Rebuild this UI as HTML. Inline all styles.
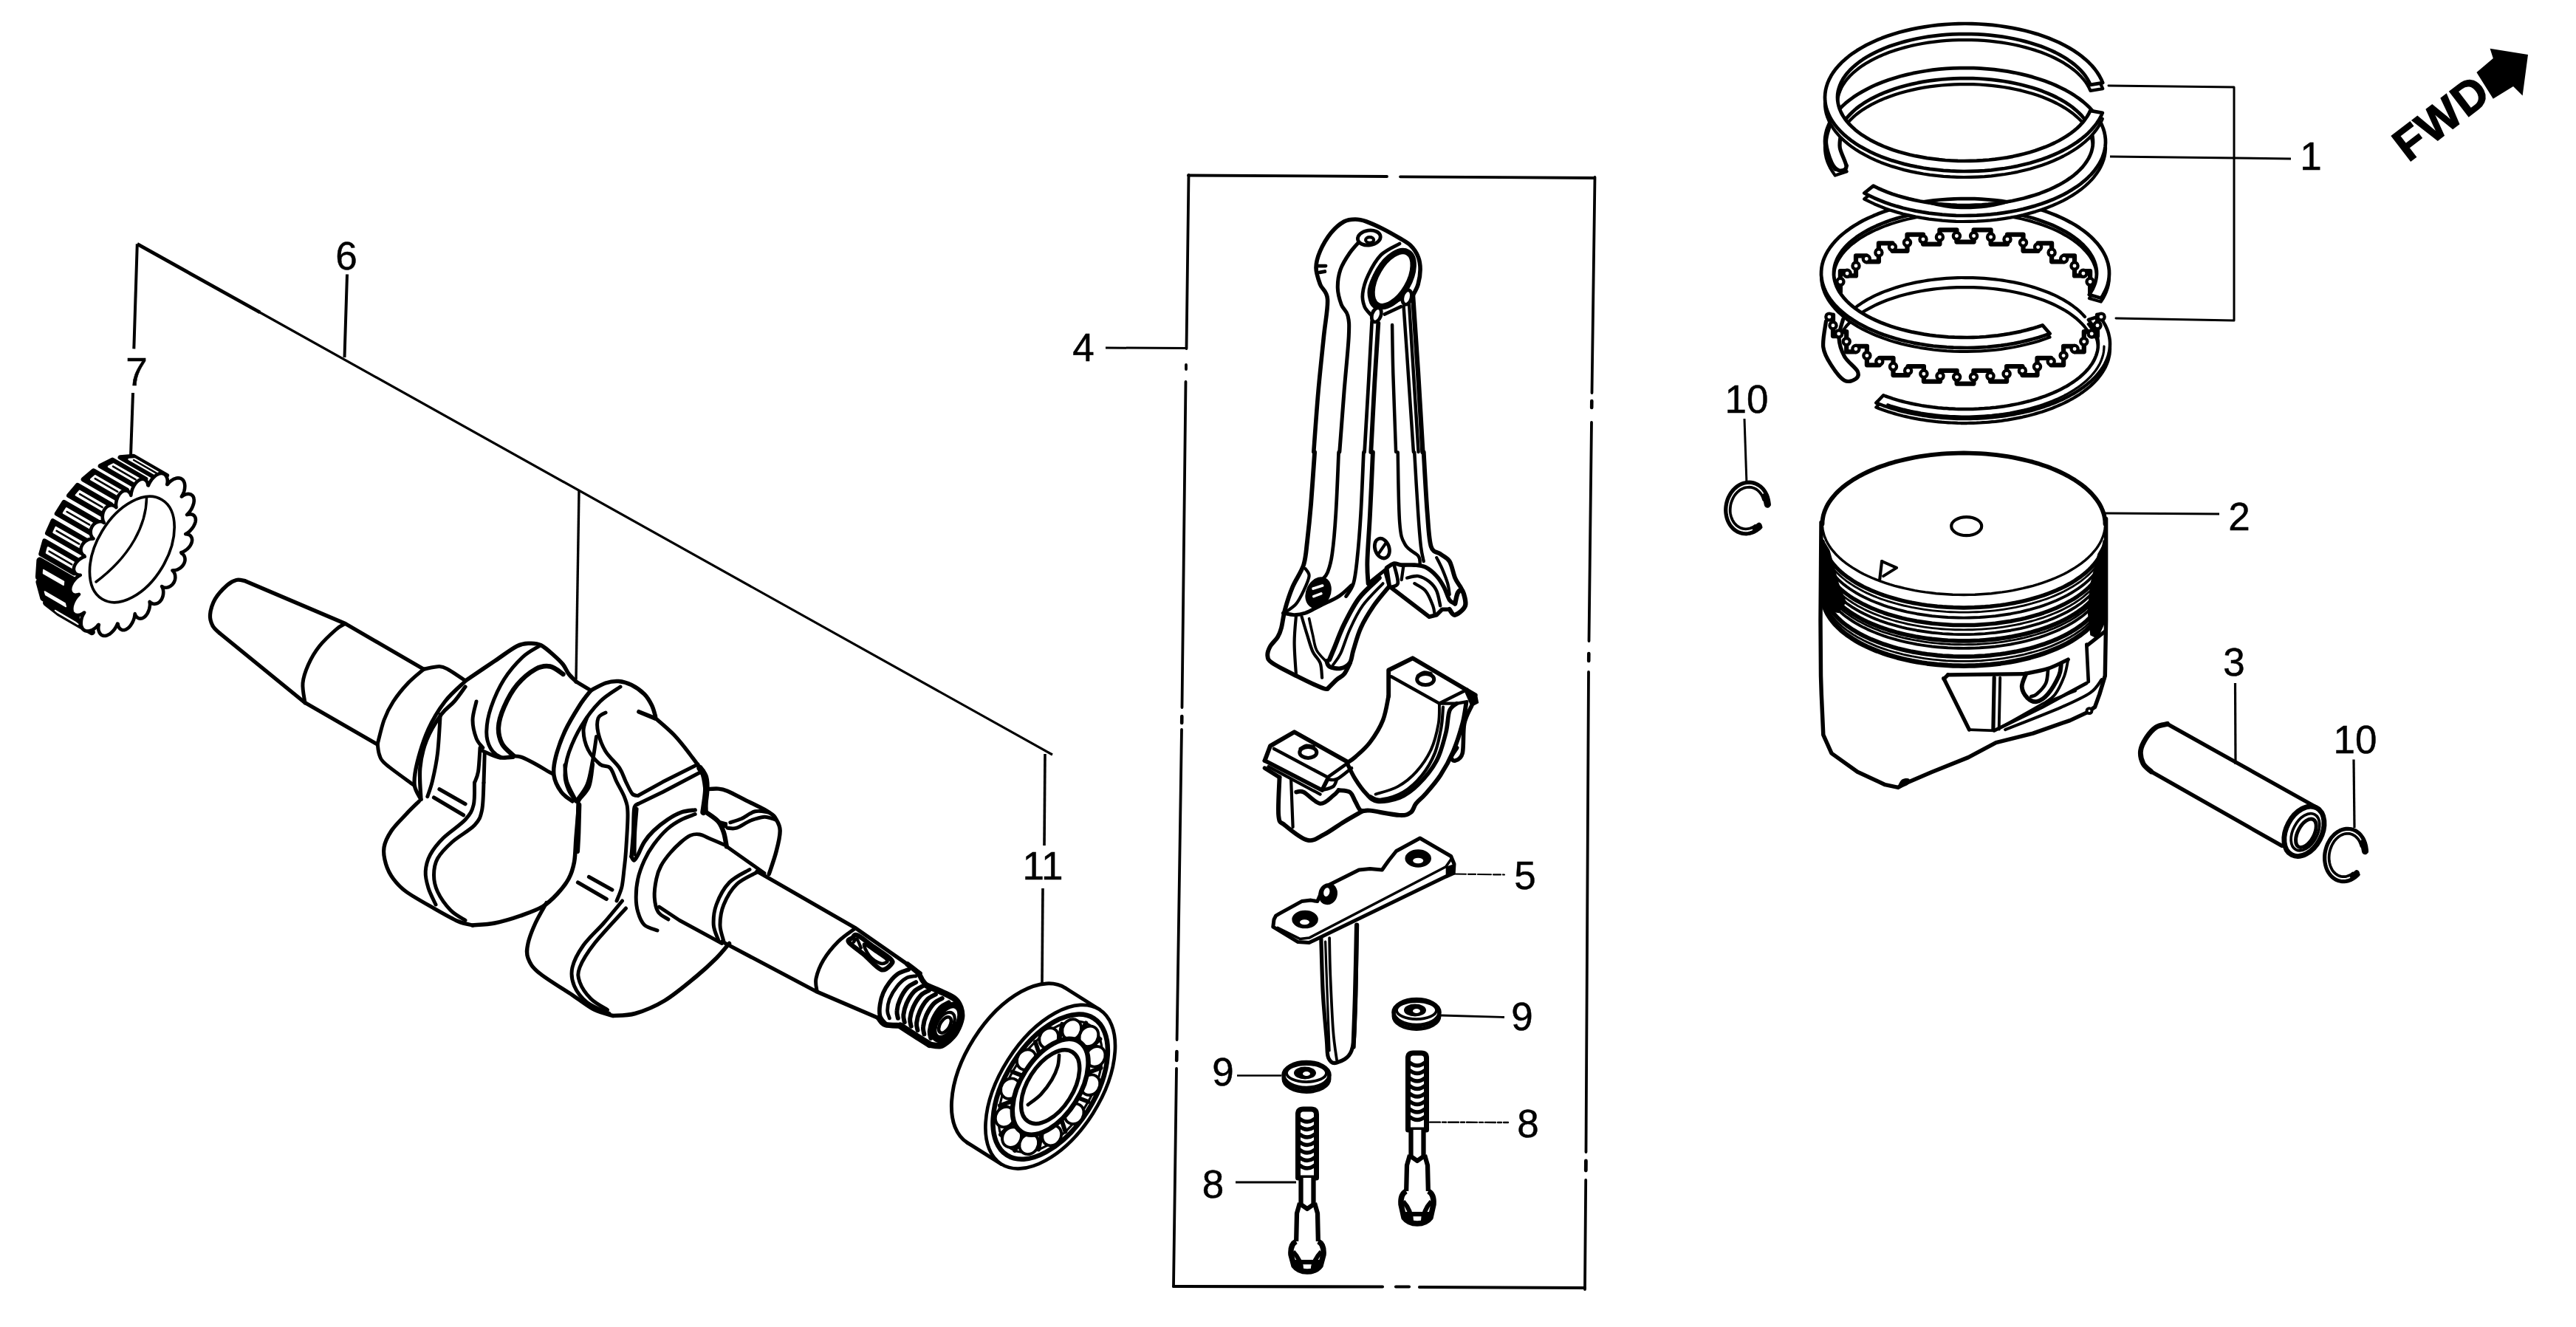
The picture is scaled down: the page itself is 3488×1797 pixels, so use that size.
<!DOCTYPE html>
<html><head><meta charset="utf-8"><title>Crankshaft / Piston</title>
<style>
html,body{margin:0;padding:0;background:#fff;}
body{width:3488px;height:1797px;overflow:hidden;font-family:"Liberation Sans",sans-serif;}
svg{display:block;}
svg text{font-family:"Liberation Sans",sans-serif;fill:#000;}
</style></head><body>
<svg width="3488" height="1797" viewBox="0 0 3488 1797">
<rect width="3488" height="1797" fill="#fff"/>
<path d="M1609,237.5 L1878,239 M1896,239.3 L2159,241" stroke="#000" stroke-width="3.8" fill="none" stroke-linecap="round" stroke-linejoin="round" />
<path d="M1609.5,237 L1606.5,472" stroke="#000" stroke-width="3.8" fill="none" stroke-linecap="round" stroke-linejoin="round" />
<path d="M1606,494 L1606,500" stroke="#000" stroke-width="3.8" fill="none" stroke-linecap="round" stroke-linejoin="round" />
<path d="M1605.5,517 L1600.5,958" stroke="#000" stroke-width="3.8" fill="none" stroke-linecap="round" stroke-linejoin="round" />
<path d="M1600.3,970 L1600.2,979" stroke="#000" stroke-width="4.6" fill="none" stroke-linecap="round" stroke-linejoin="round" />
<path d="M1600,988 L1593.6,1408" stroke="#000" stroke-width="3.8" fill="none" stroke-linecap="round" stroke-linejoin="round" />
<path d="M1593.4,1424 L1593.2,1436" stroke="#000" stroke-width="4.6" fill="none" stroke-linecap="round" stroke-linejoin="round" />
<path d="M1593,1447 L1589,1742" stroke="#000" stroke-width="3.8" fill="none" stroke-linecap="round" stroke-linejoin="round" />
<path d="M2159.5,240 L2155.5,532" stroke="#000" stroke-width="3.8" fill="none" stroke-linecap="round" stroke-linejoin="round" />
<path d="M2155.3,543 L2155.2,552" stroke="#000" stroke-width="4.6" fill="none" stroke-linecap="round" stroke-linejoin="round" />
<path d="M2155,572 L2151.5,868" stroke="#000" stroke-width="3.8" fill="none" stroke-linecap="round" stroke-linejoin="round" />
<path d="M2151.3,885 L2151.2,895" stroke="#000" stroke-width="4.6" fill="none" stroke-linecap="round" stroke-linejoin="round" />
<path d="M2151,910 L2147.5,1560" stroke="#000" stroke-width="3.8" fill="none" stroke-linecap="round" stroke-linejoin="round" />
<path d="M2147.4,1572 L2147.3,1585" stroke="#000" stroke-width="4.8" fill="none" stroke-linecap="round" stroke-linejoin="round" />
<path d="M2147.2,1598 L2146,1746" stroke="#000" stroke-width="3.8" fill="none" stroke-linecap="round" stroke-linejoin="round" />
<path d="M1589,1742 L1872,1742.5 M1890,1742.5 L1908,1742.5 M1922,1743 L2146,1744" stroke="#000" stroke-width="4.1" fill="none" stroke-linecap="round" stroke-linejoin="round" />
<text x="1467" y="489" font-size="53" text-anchor="middle" stroke="#000" stroke-width="0.5">4</text>
<line x1="1497" y1="471" x2="1607" y2="471.5" stroke="#000" stroke-width="3"/>
<text x="469" y="364.6" font-size="53" text-anchor="middle" stroke="#000" stroke-width="0.5">6</text>
<line x1="470" y1="371.5" x2="466.5" y2="484" stroke="#000" stroke-width="4"/>
<text x="185" y="522.3" font-size="53" text-anchor="middle" stroke="#000" stroke-width="0.5">7</text>
<line x1="185.8" y1="330.4" x2="181.3" y2="472.4" stroke="#000" stroke-width="4"/>
<line x1="180" y1="532" x2="177" y2="617" stroke="#000" stroke-width="4"/>
<line x1="185.8" y1="330.4" x2="352" y2="423" stroke="#000" stroke-width="4.8"/>
<line x1="350" y1="422" x2="1425" y2="1022" stroke="#000" stroke-width="3.2"/>
<line x1="784" y1="664" x2="780" y2="920" stroke="#000" stroke-width="3.4"/>
<text x="1412" y="1191.4" font-size="53" text-anchor="middle" stroke="#000" stroke-width="0.5">11</text>
<line x1="1415" y1="1021" x2="1414" y2="1145" stroke="#000" stroke-width="3.6"/>
<line x1="1412" y1="1203" x2="1411" y2="1331" stroke="#000" stroke-width="3.6"/>
<text x="2365" y="559" font-size="53" text-anchor="middle" stroke="#000" stroke-width="0.5">10</text>
<line x1="2362" y1="567" x2="2365" y2="655" stroke="#000" stroke-width="3"/>
<text x="3189" y="1019.8" font-size="53" text-anchor="middle" stroke="#000" stroke-width="0.5">10</text>
<line x1="3187" y1="1028.5" x2="3188" y2="1121" stroke="#000" stroke-width="3.2"/>
<text x="3129" y="230" font-size="53" text-anchor="middle" stroke="#000" stroke-width="0.5">1</text>
<path d="M2855,116 L3025,118 L3025,434 L2865,431" stroke="#000" stroke-width="3" fill="none" stroke-linecap="round" stroke-linejoin="round" />
<line x1="2857" y1="212" x2="3102" y2="215" stroke="#000" stroke-width="3"/>
<text x="3032" y="717.5" font-size="53" text-anchor="middle" stroke="#000" stroke-width="0.5">2</text>
<line x1="2850" y1="695" x2="3005" y2="696" stroke="#000" stroke-width="3"/>
<text x="3025" y="915" font-size="53" text-anchor="middle" stroke="#000" stroke-width="0.5">3</text>
<line x1="3026.5" y1="925" x2="3027" y2="1035" stroke="#000" stroke-width="3.2"/>
<text x="2065" y="1203.8" font-size="53" text-anchor="middle" stroke="#000" stroke-width="0.5">5</text>
<path d="M1967,1183.5 L2037,1184.5" stroke="#000" stroke-width="2.2" fill="none" stroke-linecap="round" stroke-linejoin="round" stroke-dasharray="18 3 10 3"/>
<text x="2061" y="1395" font-size="53" text-anchor="middle" stroke="#000" stroke-width="0.5">9</text>
<line x1="1951" y1="1375" x2="2037" y2="1377.5" stroke="#000" stroke-width="2.8"/>
<text x="1656" y="1470" font-size="53" text-anchor="middle" stroke="#000" stroke-width="0.5">9</text>
<line x1="1675" y1="1456.5" x2="1735" y2="1456.5" stroke="#000" stroke-width="2.4"/>
<text x="2069" y="1540" font-size="53" text-anchor="middle" stroke="#000" stroke-width="0.5">8</text>
<path d="M1936,1519.6 L2042,1520" stroke="#000" stroke-width="2.4" fill="none" stroke-linecap="round" stroke-linejoin="round" stroke-dasharray="14 3 5 3"/>
<text x="1642.5" y="1622" font-size="53" text-anchor="middle" stroke="#000" stroke-width="0.5">8</text>
<line x1="1673" y1="1601" x2="1755" y2="1601" stroke="#000" stroke-width="3"/>
<path d="M124.6,855.9 L79.6,829.9 L62.3,816.3 L107.3,842.3 Z" stroke="#000" stroke-width="8.62" fill="#000" stroke-linecap="round" stroke-linejoin="round" />
<path d="M103.6,835.8 L58.6,809.8 L52.7,788.1 L97.7,814.1 Z" stroke="#000" stroke-width="8.62" fill="#000" stroke-linecap="round" stroke-linejoin="round" />
<path d="M97.2,807.3 L52.2,781.3 L53.7,758.9 L98.7,784.9 Z" stroke="#000" stroke-width="8.62" fill="#000" stroke-linecap="round" stroke-linejoin="round" />
<path d="M100.4,776.2 L55.4,750.2 L60.3,732.5 L105.3,758.5 Z" stroke="#000" stroke-width="6.32" fill="#000" stroke-linecap="round" stroke-linejoin="round" />
<path d="M109.1,748.1 L64.1,722.1 L71.6,705.4 L116.6,731.4 Z" stroke="#000" stroke-width="6.32" fill="#000" stroke-linecap="round" stroke-linejoin="round" />
<path d="M121.9,721.6 L76.9,695.6 L86.6,680.1 L131.6,706.1 Z" stroke="#000" stroke-width="6.32" fill="#000" stroke-linecap="round" stroke-linejoin="round" />
<path d="M138.2,697.1 L93.2,671.1 L105.0,657.1 L150.0,683.1 Z" stroke="#000" stroke-width="6.32" fill="#000" stroke-linecap="round" stroke-linejoin="round" />
<path d="M157.8,675.2 L112.8,649.2 L126.7,637.4 L171.7,663.4 Z" stroke="#000" stroke-width="6.32" fill="#000" stroke-linecap="round" stroke-linejoin="round" />
<path d="M180.8,657.1 L135.8,631.1 L152.2,622.7 L197.2,648.7 Z" stroke="#000" stroke-width="6.32" fill="#000" stroke-linecap="round" stroke-linejoin="round" />
<path d="M207.7,645.3 L162.7,619.3 L180.9,617.9 L225.9,643.9 Z" stroke="#000" stroke-width="6.32" fill="#000" stroke-linecap="round" stroke-linejoin="round" />
<path d="M105.7,845.4 L78.2,829.5 L74.6,826.6 L102.0,842.5 Z" fill="#fff" stroke="#fff" stroke-width="1.72" stroke-linejoin="round"/>
<path d="M89.2,821.5 L61.8,805.6 L60.5,801.0 L88.0,816.9 Z" fill="#fff" stroke="#fff" stroke-width="1.72" stroke-linejoin="round"/>
<path d="M86.0,792.3 L58.6,776.4 L58.9,771.7 L86.4,787.5 Z" fill="#fff" stroke="#fff" stroke-width="1.72" stroke-linejoin="round"/>
<path d="M98.0,769.0 L62.9,748.7 L64.9,741.3 L100.0,761.6 Z" fill="#fff" stroke="#fff" stroke-width="2.30" stroke-linejoin="round"/>
<path d="M97.2,764.3 L66.6,746.6" stroke="#000" stroke-width="2.53" fill="none" stroke-linecap="round" stroke-linejoin="round" />
<path d="M107.5,741.1 L72.4,720.9 L75.6,713.9 L110.7,734.1 Z" fill="#fff" stroke="#fff" stroke-width="2.30" stroke-linejoin="round"/>
<path d="M107.2,736.6 L76.6,718.9" stroke="#000" stroke-width="2.53" fill="none" stroke-linecap="round" stroke-linejoin="round" />
<path d="M121.0,714.9 L85.9,694.7 L90.0,688.2 L125.1,708.4 Z" fill="#fff" stroke="#fff" stroke-width="2.30" stroke-linejoin="round"/>
<path d="M121.2,710.6 L90.6,693.0" stroke="#000" stroke-width="2.53" fill="none" stroke-linecap="round" stroke-linejoin="round" />
<path d="M137.9,690.8 L102.8,670.6 L107.8,664.7 L142.9,685.0 Z" fill="#fff" stroke="#fff" stroke-width="2.30" stroke-linejoin="round"/>
<path d="M138.6,686.8 L108.0,669.1" stroke="#000" stroke-width="2.53" fill="none" stroke-linecap="round" stroke-linejoin="round" />
<path d="M158.2,669.5 L123.1,649.2 L128.9,644.2 L164.0,664.5 Z" fill="#fff" stroke="#fff" stroke-width="2.30" stroke-linejoin="round"/>
<path d="M159.3,665.9 L128.7,648.2" stroke="#000" stroke-width="2.53" fill="none" stroke-linecap="round" stroke-linejoin="round" />
<path d="M182.0,652.2 L146.9,631.9 L153.8,628.4 L188.9,648.6 Z" fill="#fff" stroke="#fff" stroke-width="2.30" stroke-linejoin="round"/>
<path d="M183.6,649.3 L153.0,631.6" stroke="#000" stroke-width="2.53" fill="none" stroke-linecap="round" stroke-linejoin="round" />
<path d="M209.6,642.1 L174.5,621.9 L182.2,621.3 L217.3,641.6 Z" fill="#fff" stroke="#fff" stroke-width="2.30" stroke-linejoin="round"/>
<path d="M211.7,640.7 L181.1,623.0" stroke="#000" stroke-width="2.53" fill="none" stroke-linecap="round" stroke-linejoin="round" />
<path d="M242.3,647.4 L243.0,647.5 L243.6,647.6 L244.3,647.8 L244.9,648.0 L245.4,648.3 L246.0,648.6 L246.5,649.0 L247.0,649.4 L247.5,649.8 L247.9,650.3 L248.3,650.9 L248.7,651.5 L249.0,652.1 L249.3,652.8 L249.6,653.5 L249.8,654.3 L250.0,655.1 L250.1,655.9 L250.2,656.8 L250.3,657.8 L250.3,658.8 L250.2,659.9 L250.1,661.0 L250.0,662.2 L249.7,663.4 L249.4,664.8 L249.0,666.2 L248.4,667.8 L247.5,669.7 L245.9,672.5 L247.7,671.3 L249.3,670.3 L250.7,669.7 L251.8,669.4 L252.9,669.1 L253.9,669.0 L254.8,668.9 L255.7,669.0 L256.5,669.1 L257.2,669.2 L257.9,669.4 L258.6,669.7 L259.2,670.1 L259.8,670.5 L260.3,670.9 L260.8,671.4 L261.2,671.9 L261.6,672.5 L261.9,673.2 L262.2,673.9 L262.4,674.6 L262.5,675.4 L262.7,676.2 L262.7,677.1 L262.7,678.0 L262.7,679.0 L262.5,680.0 L262.4,681.1 L262.1,682.2 L261.8,683.3 L261.4,684.5 L260.9,685.7 L260.4,687.0 L259.7,688.4 L259.0,689.8 L258.0,691.3 L256.9,692.9 L255.5,694.7 L253.1,697.1 L254.9,696.7 L256.7,696.4 L258.0,696.3 L259.2,696.5 L260.1,696.7 L261.0,697.0 L261.8,697.5 L262.4,697.9 L263.0,698.5 L263.5,699.1 L263.9,699.8 L264.3,700.5 L264.6,701.3 L264.7,702.1 L264.9,702.9 L264.9,703.8 L264.9,704.8 L264.7,705.7 L264.6,706.8 L264.3,707.8 L263.9,708.9 L263.5,710.0 L262.9,711.1 L262.3,712.3 L261.6,713.5 L260.8,714.7 L259.8,716.0 L258.7,717.3 L257.5,718.6 L256.1,720.0 L254.2,721.4 L251.3,723.2 L253.3,723.4 L255.0,723.8 L256.2,724.3 L257.2,724.9 L257.9,725.6 L258.6,726.4 L259.1,727.2 L259.5,728.0 L259.8,728.9 L260.0,729.8 L260.1,730.8 L260.1,731.7 L260.0,732.7 L259.8,733.8 L259.5,734.8 L259.2,735.8 L258.7,736.9 L258.1,738.0 L257.5,739.0 L256.7,740.1 L255.9,741.2 L254.9,742.2 L253.8,743.3 L252.6,744.3 L251.3,745.3 L249.7,746.3 L247.9,747.3 L245.3,748.2 L245.7,749.2 L247.3,750.2 L248.3,751.2 L249.1,752.3 L249.6,753.3 L250.0,754.4 L250.3,755.5 L250.5,756.6 L250.5,757.7 L250.5,758.7 L250.3,759.8 L250.0,760.9 L249.7,762.0 L249.2,763.0 L248.7,764.0 L248.1,765.0 L247.3,766.0 L246.5,767.0 L245.6,767.9 L244.6,768.7 L243.5,769.6 L242.3,770.3 L241.0,771.0 L239.5,771.6 L237.9,772.1 L235.9,772.4 L233.4,772.5 L235.3,774.5 L236.2,776.0 L236.7,777.5 L237.1,778.8 L237.2,780.2 L237.3,781.5 L237.3,782.7 L237.1,784.0 L236.9,785.2 L236.5,786.3 L236.1,787.4 L235.6,788.5 L235.0,789.5 L234.3,790.4 L233.6,791.3 L232.8,792.1 L231.9,792.9 L230.9,793.6 L229.9,794.2 L228.8,794.8 L227.6,795.2 L226.4,795.5 L225.0,795.7 L223.5,795.7 L221.7,795.5 L219.1,794.1 L220.6,797.2 L221.0,799.2 L221.2,801.0 L221.2,802.6 L221.1,804.1 L220.9,805.6 L220.6,806.9 L220.3,808.2 L219.8,809.4 L219.3,810.6 L218.7,811.7 L218.1,812.7 L217.4,813.6 L216.7,814.4 L215.9,815.2 L215.0,815.8 L214.1,816.4 L213.2,816.9 L212.2,817.3 L211.2,817.6 L210.2,817.8 L209.1,817.9 L208.0,817.8 L206.8,817.5 L205.5,817.0 L204.1,816.1 L202.6,814.9 L203.0,818.0 L202.9,820.3 L202.6,822.2 L202.3,823.9 L201.8,825.5 L201.3,826.9 L200.8,828.3 L200.2,829.6 L199.6,830.7 L198.9,831.8 L198.2,832.8 L197.5,833.7 L196.7,834.5 L195.9,835.2 L195.1,835.9 L194.3,836.4 L193.5,836.8 L192.6,837.2 L191.7,837.4 L190.9,837.6 L190.0,837.6 L189.1,837.6 L188.2,837.4 L187.3,837.1 L186.4,836.6 L185.5,835.9 L184.6,835.0 L183.6,833.6 L182.7,831.2 L182.2,834.9 L181.6,837.2 L181.0,839.2 L180.3,840.8 L179.6,842.4 L178.9,843.8 L178.1,845.0 L177.3,846.2 L176.6,847.3 L175.8,848.2 L175.0,849.1 L174.2,849.9 L173.4,850.6 L172.5,851.2 L171.7,851.8 L170.9,852.2 L170.1,852.6 L169.3,852.9 L168.5,853.1 L167.8,853.2 L167.0,853.2 L166.2,853.2 L165.5,853.1 L164.8,852.8 L164.1,852.5 L163.4,852.1 L162.7,851.6 L162.1,851.0 L161.5,850.3 L160.9,849.4 L160.4,848.3 L160.0,846.9 L159.7,844.9 L159.1,844.6 L158.0,847.2 L156.9,849.1 L156.0,850.7 L155.0,852.1 L154.1,853.3 L153.1,854.4 L152.2,855.3 L151.3,856.2 L150.4,857.0 L149.5,857.7 L148.7,858.4 L147.8,858.9 L147.0,859.4 L146.2,859.8 L145.4,860.2 L144.6,860.5 L143.8,860.7 L143.0,860.9 L142.3,861.0 L141.6,861.0 L140.9,861.0 L140.2,860.9 L139.5,860.8 L138.9,860.6 L138.3,860.3 L137.7,860.0 L137.1,859.6 L136.6,859.2 L136.1,858.7 L135.6,858.2 L135.2,857.5 L134.8,856.9 L134.4,856.1 L134.1,855.3 L133.8,854.5 L133.5,853.5 L133.3,852.4 L133.2,851.2 L133.2,849.9 L133.3,848.2 L133.8,845.9 L133.0,846.2 L131.5,848.0 L130.3,849.3 L129.1,850.3 L128.0,851.1 L127.0,851.8 L126.0,852.4 L125.1,852.9 L124.2,853.4 L123.3,853.7 L122.4,854.0 L121.6,854.3 L120.7,854.5 L120.0,854.6 L119.2,854.6 L118.4,854.7 L117.7,854.6 L117.0,854.5 L116.4,854.4 L115.7,854.2 L115.1,854.0 L114.6,853.7 L114.0,853.4 L113.5,853.0 L113.0,852.6 L112.5,852.2 L112.1,851.7 L111.7,851.1 L111.3,850.5 L111.0,849.9 L110.7,849.2 L110.4,848.5 L110.2,847.7 L110.0,846.9 L109.9,846.1 L109.8,845.2 L109.7,844.2 L109.7,843.2 L109.8,842.1 L109.9,841.0 L110.0,839.8 L110.3,838.6 L110.6,837.2 L111.0,835.8 L111.6,834.2 L112.5,832.3 L114.1,829.5 L112.3,830.7 L110.7,831.7 L109.3,832.3 L108.2,832.6 L107.1,832.9 L106.1,833.0 L105.2,833.1 L104.3,833.0 L103.5,832.9 L102.8,832.8 L102.1,832.6 L101.4,832.3 L100.8,831.9 L100.2,831.5 L99.7,831.1 L99.2,830.6 L98.8,830.1 L98.4,829.5 L98.1,828.8 L97.8,828.1 L97.6,827.4 L97.5,826.6 L97.3,825.8 L97.3,824.9 L97.3,824.0 L97.3,823.0 L97.5,822.0 L97.6,820.9 L97.9,819.8 L98.2,818.7 L98.6,817.5 L99.1,816.3 L99.6,815.0 L100.3,813.6 L101.0,812.2 L102.0,810.7 L103.1,809.1 L104.5,807.3 L106.9,804.9 L105.1,805.3 L103.3,805.6 L102.0,805.7 L100.8,805.5 L99.9,805.3 L99.0,805.0 L98.2,804.5 L97.6,804.1 L97.0,803.5 L96.5,802.9 L96.1,802.2 L95.7,801.5 L95.4,800.7 L95.3,799.9 L95.1,799.1 L95.1,798.2 L95.1,797.2 L95.3,796.3 L95.4,795.2 L95.7,794.2 L96.1,793.1 L96.5,792.0 L97.1,790.9 L97.7,789.7 L98.4,788.5 L99.2,787.3 L100.2,786.0 L101.3,784.7 L102.5,783.4 L103.9,782.0 L105.8,780.6 L108.7,778.8 L106.7,778.6 L105.0,778.2 L103.8,777.7 L102.8,777.1 L102.1,776.4 L101.4,775.6 L100.9,774.8 L100.5,774.0 L100.2,773.1 L100.0,772.2 L99.9,771.2 L99.9,770.3 L100.0,769.3 L100.2,768.2 L100.5,767.2 L100.8,766.2 L101.3,765.1 L101.9,764.0 L102.5,763.0 L103.3,761.9 L104.1,760.8 L105.1,759.8 L106.2,758.7 L107.4,757.7 L108.7,756.7 L110.3,755.7 L112.1,754.7 L114.7,753.8 L114.3,752.8 L112.7,751.8 L111.7,750.8 L110.9,749.7 L110.4,748.7 L110.0,747.6 L109.7,746.5 L109.5,745.4 L109.5,744.3 L109.5,743.3 L109.7,742.2 L110.0,741.1 L110.3,740.0 L110.8,739.0 L111.3,738.0 L111.9,737.0 L112.7,736.0 L113.5,735.0 L114.4,734.1 L115.4,733.3 L116.5,732.4 L117.7,731.7 L119.0,731.0 L120.5,730.4 L122.1,729.9 L124.1,729.6 L126.6,729.5 L124.7,727.5 L123.8,726.0 L123.3,724.5 L122.9,723.2 L122.8,721.8 L122.7,720.5 L122.7,719.3 L122.9,718.0 L123.1,716.8 L123.5,715.7 L123.9,714.6 L124.4,713.5 L125.0,712.5 L125.7,711.6 L126.4,710.7 L127.2,709.9 L128.1,709.1 L129.1,708.4 L130.1,707.8 L131.2,707.2 L132.4,706.8 L133.6,706.5 L135.0,706.3 L136.5,706.3 L138.3,706.5 L140.9,707.9 L139.4,704.8 L139.0,702.8 L138.8,701.0 L138.8,699.4 L138.9,697.9 L139.1,696.4 L139.4,695.1 L139.7,693.8 L140.2,692.6 L140.7,691.4 L141.3,690.3 L141.9,689.3 L142.6,688.4 L143.3,687.6 L144.1,686.8 L145.0,686.2 L145.9,685.6 L146.8,685.1 L147.8,684.7 L148.8,684.4 L149.8,684.2 L150.9,684.1 L152.0,684.2 L153.2,684.5 L154.5,685.0 L155.9,685.9 L157.4,687.1 L157.0,684.0 L157.1,681.7 L157.4,679.8 L157.7,678.1 L158.2,676.5 L158.7,675.1 L159.2,673.7 L159.8,672.4 L160.4,671.3 L161.1,670.2 L161.8,669.2 L162.5,668.3 L163.3,667.5 L164.1,666.8 L164.9,666.1 L165.7,665.6 L166.5,665.2 L167.4,664.8 L168.3,664.6 L169.1,664.4 L170.0,664.4 L170.9,664.4 L171.8,664.6 L172.7,664.9 L173.6,665.4 L174.5,666.1 L175.4,667.0 L176.4,668.4 L177.3,670.8 L177.8,667.1 L178.4,664.8 L179.0,662.8 L179.7,661.2 L180.4,659.6 L181.1,658.2 L181.9,657.0 L182.7,655.8 L183.4,654.7 L184.2,653.8 L185.0,652.9 L185.8,652.1 L186.6,651.4 L187.5,650.8 L188.3,650.2 L189.1,649.8 L189.9,649.4 L190.7,649.1 L191.5,648.9 L192.2,648.8 L193.0,648.8 L193.8,648.8 L194.5,648.9 L195.2,649.2 L195.9,649.5 L196.6,649.9 L197.3,650.4 L197.9,651.0 L198.5,651.7 L199.1,652.6 L199.6,653.7 L200.0,655.1 L200.3,657.1 L200.9,657.4 L202.0,654.8 L203.1,652.9 L204.0,651.3 L205.0,649.9 L205.9,648.7 L206.9,647.6 L207.8,646.7 L208.7,645.8 L209.6,645.0 L210.5,644.3 L211.3,643.6 L212.2,643.1 L213.0,642.6 L213.8,642.2 L214.6,641.8 L215.4,641.5 L216.2,641.3 L217.0,641.1 L217.7,641.0 L218.4,641.0 L219.1,641.0 L219.8,641.1 L220.5,641.2 L221.1,641.4 L221.7,641.7 L222.3,642.0 L222.9,642.4 L223.4,642.8 L223.9,643.3 L224.4,643.8 L224.8,644.5 L225.2,645.1 L225.6,645.9 L225.9,646.7 L226.2,647.5 L226.5,648.5 L226.7,649.6 L226.8,650.8 L226.8,652.1 L226.7,653.8 L226.2,656.1 L227.0,655.8 L228.5,654.0 L229.7,652.7 L230.9,651.7 L232.0,650.9 L233.0,650.2 L234.0,649.6 L234.9,649.1 L235.8,648.6 L236.7,648.3 L237.6,648.0 L238.4,647.7 L239.3,647.5 L240.0,647.4 L240.8,647.4 L241.6,647.3 Z" stroke="#000" stroke-width="4.60" fill="#fff" stroke-linecap="round" stroke-linejoin="round" />
<ellipse cx="178.8" cy="744.0" rx="78.5" ry="47.5" transform="rotate(-59 178.8 744.0)" fill="#fff" stroke="#000" stroke-width="3.68"/>
<path d="M198.5,674 C198,710 178,752 130,788" stroke="#000" stroke-width="3.45" fill="none" stroke-linecap="round" stroke-linejoin="round" />
<path d="M297.5,857.5 C295.9,855.8 290.2,851.7 288.0,847.5 C285.8,843.3 284.0,838.5 284.5,832.5 C285.0,826.5 287.4,817.9 291.2,811.2 C295.1,804.6 302.7,796.8 307.5,792.5 C312.3,788.2 316.0,786.5 320.0,785.5 C324.0,784.5 329.4,786.3 331.2,786.5" stroke="#000" stroke-width="5.25" fill="none" stroke-linecap="round" stroke-linejoin="round" />
<path d="M331.2,786.5 L467.5,844.5 L573.8,906.2" stroke="#000" stroke-width="5.25" fill="none" stroke-linecap="round" stroke-linejoin="round" />
<path d="M297.5,857.5 L412.5,951.2 L510.0,1007.5" stroke="#000" stroke-width="5.25" fill="none" stroke-linecap="round" stroke-linejoin="round" />
<path d="M467.5,844.5 C465.4,845.8 460.8,847.4 455.0,852.5 C449.2,857.6 438.8,867.1 432.5,875.0 C426.2,882.9 421.2,891.7 417.5,900.0 C413.8,908.3 410.8,916.3 410.0,925.0 C409.2,933.7 412.5,947.5 413.0,952.0" stroke="#000" stroke-width="4.97" fill="none" stroke-linecap="round" stroke-linejoin="round" />
<path d="M573.8,906.2 C570.2,909.4 559.4,917.7 552.5,925.0 C545.6,932.3 537.9,941.7 532.5,950.0 C527.1,958.3 523.5,965.4 520.0,975.0 C516.5,984.6 512.7,1002.1 511.2,1007.5" stroke="#000" stroke-width="4.97" fill="none" stroke-linecap="round" stroke-linejoin="round" />
<path d="M573.8,906.2 C577.3,905.6 589.4,902.4 595.0,902.5 C600.6,902.6 601.7,903.8 607.5,907.0 C613.3,910.2 626.2,919.3 630.0,921.8" stroke="#000" stroke-width="4.97" fill="none" stroke-linecap="round" stroke-linejoin="round" />
<path d="M511.2,1007.5 C511.7,1010.0 511.9,1017.9 513.8,1022.5 C515.6,1027.1 514.8,1028.2 522.5,1035.0 C530.2,1041.8 553.8,1058.3 560.0,1063.0" stroke="#000" stroke-width="4.97" fill="none" stroke-linecap="round" stroke-linejoin="round" />
<path d="M630.0,922.5 C625.4,927.1 610.8,939.2 602.5,950.0 C594.2,960.8 586.2,973.8 580.0,987.5 C573.8,1001.2 568.1,1019.9 565.0,1032.5 C561.9,1045.1 560.4,1054.7 561.2,1063.0 C562.1,1071.3 568.5,1079.2 570.0,1082.5" stroke="#000" stroke-width="5.25" fill="none" stroke-linecap="round" stroke-linejoin="round" />
<path d="M596.2,967.5 C595.6,976.2 594.3,1005.0 592.5,1020.0 C590.7,1035.0 587.8,1047.7 585.5,1057.5 C583.2,1067.3 579.9,1075.2 578.8,1078.8" stroke="#000" stroke-width="4.97" fill="none" stroke-linecap="round" stroke-linejoin="round" />
<path d="M630.0,930.0 C627.5,933.3 620.4,943.8 615.0,950.0 C609.6,956.2 603.8,958.8 597.5,967.5 C591.2,976.2 582.3,990.4 577.5,1002.5 C572.7,1014.6 570.0,1026.7 568.8,1040.0 C567.5,1053.3 569.8,1075.4 570.0,1082.5" stroke="#000" stroke-width="5.25" fill="none" stroke-linecap="round" stroke-linejoin="round" />
<path d="M631.2,921.2 C637.7,916.9 658.5,902.7 670.0,895.0 C681.5,887.3 692.1,879.0 700.0,875.0 C707.9,871.0 712.1,871.5 717.5,871.2 C722.9,871.0 727.1,871.0 732.5,873.8 C737.9,876.5 745.0,883.1 750.0,887.5 C755.0,891.9 759.2,895.8 762.5,900.0 C765.8,904.2 767.1,908.7 770.0,912.5 C772.9,916.3 778.3,921.2 780.0,923.0" stroke="#000" stroke-width="5.54" fill="none" stroke-linecap="round" stroke-linejoin="round" />
<path d="M730.0,875.0 C726.2,877.5 715.4,882.5 707.5,890.0 C699.6,897.5 689.6,908.8 682.5,920.0 C675.4,931.2 669.0,945.8 665.0,957.5 C661.0,969.2 659.0,980.8 658.8,990.0 C658.5,999.2 660.6,1006.7 663.8,1012.5 C666.9,1018.3 672.3,1022.8 677.5,1025.0 C682.7,1027.2 692.1,1025.4 695.0,1025.5" stroke="#000" stroke-width="4.97" fill="none" stroke-linecap="round" stroke-linejoin="round" />
<path d="M762.5,913.0 C759.6,911.2 751.2,903.6 745.0,902.5 C738.8,901.4 732.5,902.1 725.0,906.2 C717.5,910.4 707.1,919.0 700.0,927.5 C692.9,936.0 686.7,947.9 682.5,957.5 C678.3,967.1 675.4,976.7 675.0,985.0 C674.6,993.3 676.7,1001.2 680.0,1007.5 C683.3,1013.8 692.5,1020.4 695.0,1023.0" stroke="#000" stroke-width="6.39" fill="none" stroke-linecap="round" stroke-linejoin="round" />
<path d="M645.0,950.0 C644.2,954.2 640.0,966.7 640.0,975.0 C640.0,983.3 642.7,993.8 645.0,1000.0 C647.3,1006.2 652.3,1010.4 653.8,1012.5" stroke="#000" stroke-width="4.97" fill="none" stroke-linecap="round" stroke-linejoin="round" />
<path d="M650.0,1012.5 C649.6,1017.9 648.8,1037.1 647.5,1045.0 C646.2,1052.9 643.3,1057.5 642.5,1060.0" stroke="#000" stroke-width="4.97" fill="none" stroke-linecap="round" stroke-linejoin="round" />
<path d="M656.2,1020.0 C656.1,1024.2 655.7,1038.3 655.5,1045.0 C655.3,1051.7 655.1,1057.5 655.0,1060.0" stroke="#000" stroke-width="4.97" fill="none" stroke-linecap="round" stroke-linejoin="round" />
<path d="M653.8,1017.0 C657.7,1018.5 669.0,1024.9 677.5,1026.2 C686.0,1027.6 693.3,1021.5 705.0,1025.0 C716.7,1028.5 740.4,1043.8 747.5,1047.5" stroke="#000" stroke-width="4.97" fill="none" stroke-linecap="round" stroke-linejoin="round" />
<path d="M780.0,923.0 L800.0,935.0" stroke="#000" stroke-width="4.97" fill="none" stroke-linecap="round" stroke-linejoin="round" />
<path d="M800.0,935.0 C797.5,938.3 790.8,945.8 785.0,955.0 C779.2,964.2 770.4,978.3 765.0,990.0 C759.6,1001.7 755.0,1015.0 752.5,1025.0 C750.0,1035.0 748.8,1042.1 750.0,1050.0 C751.2,1057.9 755.8,1066.7 760.0,1072.5 C764.2,1078.3 772.5,1082.9 775.0,1085.0" stroke="#000" stroke-width="5.54" fill="none" stroke-linecap="round" stroke-linejoin="round" />
<path d="M840.0,930.0 C835.4,933.3 821.2,941.2 812.5,950.0 C803.8,958.8 794.6,970.8 787.5,982.5 C780.4,994.2 773.8,1008.8 770.0,1020.0 C766.2,1031.2 765.0,1041.7 765.0,1050.0 C765.0,1058.3 767.5,1064.2 770.0,1070.0 C772.5,1075.8 778.3,1082.5 780.0,1085.0" stroke="#000" stroke-width="4.97" fill="none" stroke-linecap="round" stroke-linejoin="round" />
<path d="M800.0,935.0 C803.3,933.3 813.8,927.1 820.0,925.0 C826.2,922.9 831.7,922.1 837.5,922.5 C843.3,922.9 849.2,924.6 855.0,927.5 C860.8,930.4 867.9,935.4 872.5,940.0 C877.1,944.6 880.0,950.0 882.5,955.0 C885.0,960.0 886.7,967.5 887.5,970.0" stroke="#000" stroke-width="5.54" fill="none" stroke-linecap="round" stroke-linejoin="round" />
<path d="M865.0,963.8 L887.5,973.0" stroke="#000" stroke-width="5.68" fill="none" stroke-linecap="round" stroke-linejoin="round" />
<path d="M887.5,972.5 C891.7,976.2 904.6,986.7 912.5,995.0 C920.4,1003.3 928.8,1014.2 935.0,1022.5 C941.2,1030.8 946.7,1037.1 950.0,1045.0 C953.3,1052.9 954.0,1060.8 955.0,1070.0 C956.0,1079.2 956.0,1095.0 956.2,1100.0" stroke="#000" stroke-width="5.25" fill="none" stroke-linecap="round" stroke-linejoin="round" />
<path d="M807.5,997.5 C806.7,1002.9 804.6,1019.2 802.5,1030.0 C800.4,1040.8 798.8,1053.3 795.0,1062.5 C791.2,1071.7 782.5,1081.2 780.0,1085.0" stroke="#000" stroke-width="4.97" fill="none" stroke-linecap="round" stroke-linejoin="round" />
<path d="M567.5,1085.0 C564.6,1087.9 556.2,1095.8 550.0,1102.5 C543.8,1109.2 535.0,1117.5 530.0,1125.0 C525.0,1132.5 521.2,1140.0 520.0,1147.5 C518.8,1155.0 520.4,1162.9 522.5,1170.0 C524.6,1177.1 527.9,1183.8 532.5,1190.0 C537.1,1196.2 540.8,1200.8 550.0,1207.5 C559.2,1214.2 575.8,1223.3 587.5,1230.0 C599.2,1236.7 611.2,1243.7 620.0,1247.5 C628.8,1251.3 636.7,1252.1 640.0,1253.0" stroke="#000" stroke-width="5.25" fill="none" stroke-linecap="round" stroke-linejoin="round" />
<path d="M640.0,1253.0 C645.0,1252.5 659.2,1252.2 670.0,1250.0 C680.8,1247.8 694.2,1243.8 705.0,1240.0 C715.8,1236.2 726.7,1232.5 735.0,1227.5 C743.3,1222.5 749.2,1216.2 755.0,1210.0 C760.8,1203.8 766.2,1197.1 770.0,1190.0 C773.8,1182.9 775.8,1176.7 777.5,1167.5 C779.2,1158.3 779.0,1147.9 780.0,1135.0 C781.0,1122.1 783.1,1097.5 783.8,1090.0" stroke="#000" stroke-width="5.54" fill="none" stroke-linecap="round" stroke-linejoin="round" />
<path d="M642.5,1060.0 C642.3,1065.0 643.3,1081.7 641.2,1090.0 C639.2,1098.3 636.9,1102.5 630.0,1110.0 C623.1,1117.5 607.9,1127.1 600.0,1135.0 C592.1,1142.9 586.5,1150.0 582.5,1157.5 C578.5,1165.0 576.7,1172.5 576.2,1180.0 C575.8,1187.5 577.7,1195.0 580.0,1202.5 C582.3,1210.0 588.3,1221.2 590.0,1225.0" stroke="#000" stroke-width="4.97" fill="none" stroke-linecap="round" stroke-linejoin="round" />
<path d="M655.0,1060.0 C654.6,1066.2 654.6,1087.9 652.5,1097.5 C650.4,1107.1 649.2,1110.4 642.5,1117.5 C635.8,1124.6 620.8,1132.5 612.5,1140.0 C604.2,1147.5 596.7,1155.0 592.5,1162.5 C588.3,1170.0 587.5,1177.5 587.5,1185.0 C587.5,1192.5 588.8,1199.6 592.5,1207.5 C596.2,1215.4 603.8,1226.0 610.0,1232.5 C616.2,1239.0 626.7,1244.0 630.0,1246.2" stroke="#000" stroke-width="4.97" fill="none" stroke-linecap="round" stroke-linejoin="round" />
<path d="M595.0,1068.8 L630.0,1088.8" stroke="#000" stroke-width="5.25" fill="none" stroke-linecap="round" stroke-linejoin="round" />
<path d="M587.5,1080.0 L627.5,1103.8" stroke="#000" stroke-width="5.25" fill="none" stroke-linecap="round" stroke-linejoin="round" />
<path d="M740.0,1222.5 C737.5,1227.1 729.2,1240.8 725.0,1250.0 C720.8,1259.2 716.7,1269.6 715.0,1277.5 C713.3,1285.4 712.5,1290.8 715.0,1297.5 C717.5,1304.2 720.0,1309.2 730.0,1317.5 C740.0,1325.8 762.5,1339.2 775.0,1347.5 C787.5,1355.8 795.8,1362.8 805.0,1367.5 C814.2,1372.2 825.8,1374.2 830.0,1375.5" stroke="#000" stroke-width="5.25" fill="none" stroke-linecap="round" stroke-linejoin="round" />
<path d="M830.0,1375.5 C835.0,1375.0 848.3,1375.9 860.0,1372.5 C871.7,1369.1 886.2,1363.3 900.0,1355.0 C913.8,1346.7 930.8,1332.1 942.5,1322.5 C954.2,1312.9 962.5,1305.0 970.0,1297.5 C977.5,1290.0 984.6,1280.8 987.5,1277.5" stroke="#000" stroke-width="5.54" fill="none" stroke-linecap="round" stroke-linejoin="round" />
<path d="M842.5,1220.0 C838.3,1225.0 826.2,1240.0 817.5,1250.0 C808.8,1260.0 797.1,1270.0 790.0,1280.0 C782.9,1290.0 777.1,1300.8 775.0,1310.0 C772.9,1319.2 774.2,1327.1 777.5,1335.0 C780.8,1342.9 787.1,1351.2 795.0,1357.5 C802.9,1363.8 820.0,1370.0 825.0,1372.5" stroke="#000" stroke-width="4.97" fill="none" stroke-linecap="round" stroke-linejoin="round" />
<path d="M847.5,1230.0 C840.4,1237.9 815.4,1264.2 805.0,1277.5 C794.6,1290.8 788.3,1301.2 785.0,1310.0 C781.7,1318.8 782.5,1322.9 785.0,1330.0 C787.5,1337.1 793.8,1346.2 800.0,1352.5 C806.2,1358.8 818.8,1365.0 822.5,1367.5" stroke="#000" stroke-width="4.97" fill="none" stroke-linecap="round" stroke-linejoin="round" />
<path d="M797.5,1187.5 L828.8,1205.0" stroke="#000" stroke-width="5.25" fill="none" stroke-linecap="round" stroke-linejoin="round" />
<path d="M782.5,1195.0 L821.2,1217.5" stroke="#000" stroke-width="5.25" fill="none" stroke-linecap="round" stroke-linejoin="round" />
<path d="M892.5,1228.0 L920.0,1246.2 L977.5,1277.5" stroke="#000" stroke-width="4.97" fill="none" stroke-linecap="round" stroke-linejoin="round" />
<path d="M802.5,1035.0 C801.7,1040.0 800.6,1056.9 797.5,1065.0 C794.4,1073.1 786.0,1079.6 783.8,1083.8 C781.5,1087.9 783.8,1089.0 783.8,1090.0" stroke="#000" stroke-width="5.25" fill="none" stroke-linecap="round" stroke-linejoin="round" />
<path d="M765.0,1036.2 C765.4,1040.0 765.2,1051.0 767.5,1058.8 C769.8,1066.5 776.9,1078.5 778.8,1082.5" stroke="#000" stroke-width="5.25" fill="none" stroke-linecap="round" stroke-linejoin="round" />
<path d="M783.8,1090.0 C783.6,1096.2 783.1,1117.1 782.8,1127.5 C782.4,1137.9 781.7,1148.3 781.5,1152.5" stroke="#000" stroke-width="7.10" fill="none" stroke-linecap="round" stroke-linejoin="round" />
<path d="M795.0,971.2 C794.2,974.4 789.8,982.7 790.0,990.0 C790.2,997.3 792.5,1007.5 796.2,1015.0 C800.0,1022.5 807.5,1030.8 812.5,1035.0 C817.5,1039.2 822.5,1036.0 826.2,1040.0 C830.0,1044.0 831.7,1051.9 835.0,1058.8 C838.3,1065.6 843.8,1074.0 846.2,1081.2 C848.8,1088.5 849.8,1090.6 850.0,1102.5 C850.2,1114.4 848.3,1140.0 847.5,1152.5 C846.7,1165.0 845.9,1169.4 845.0,1177.5 C844.1,1185.6 843.5,1194.2 841.9,1201.2 C840.2,1208.3 836.1,1216.9 835.0,1220.0" stroke="#000" stroke-width="4.97" fill="none" stroke-linecap="round" stroke-linejoin="round" />
<path d="M820.0,965.0 C818.3,966.2 811.7,967.9 810.0,972.5 C808.3,977.1 808.3,985.0 810.0,992.5 C811.7,1000.0 815.2,1009.6 820.0,1017.5 C824.8,1025.4 834.2,1033.1 838.8,1040.0 C843.3,1046.9 844.6,1052.9 847.5,1058.8 C850.4,1064.6 853.5,1071.9 856.2,1075.0 C859.0,1078.1 862.5,1077.1 863.8,1077.5" stroke="#000" stroke-width="4.97" fill="none" stroke-linecap="round" stroke-linejoin="round" />
<path d="M863.8,1077.5 L897.5,1058.8 L935.0,1040.0 L945.0,1035.0" stroke="#000" stroke-width="4.97" fill="none" stroke-linecap="round" stroke-linejoin="round" />
<path d="M952.5,1043.8 L945.0,1047.5 L897.5,1072.5 L863.8,1088.8" stroke="#000" stroke-width="4.97" fill="none" stroke-linecap="round" stroke-linejoin="round" />
<path d="M863.8,1088.8 C862.9,1089.8 859.8,1088.5 858.8,1095.0 C857.7,1101.5 858.1,1116.7 857.5,1127.5 C856.9,1138.3 855.4,1154.6 855.0,1160.0" stroke="#000" stroke-width="5.25" fill="none" stroke-linecap="round" stroke-linejoin="round" />
<path d="M855.0,1160.0 C855.6,1160.8 857.3,1165.4 858.8,1165.0 C860.2,1164.6 861.5,1161.7 863.8,1157.5 C866.0,1153.3 869.0,1145.4 872.5,1140.0 C876.0,1134.6 879.8,1130.0 885.0,1125.0 C890.2,1120.0 897.5,1114.2 903.8,1110.0 C910.0,1105.8 916.2,1102.2 922.5,1100.0 C928.8,1097.8 938.1,1097.4 941.2,1096.9" stroke="#000" stroke-width="5.40" fill="none" stroke-linecap="round" stroke-linejoin="round" />
<path d="M862.5,1095.0 C862.1,1100.4 860.5,1117.1 860.0,1127.5 C859.5,1137.9 859.5,1152.5 859.4,1157.5" stroke="#000" stroke-width="4.26" fill="none" stroke-linecap="round" stroke-linejoin="round" />
<path d="M947.5,1040.0 C948.8,1042.1 953.5,1047.3 955.0,1052.5 C956.5,1057.7 956.7,1063.3 956.2,1071.2 C955.8,1079.2 953.1,1095.2 952.5,1100.0" stroke="#000" stroke-width="8.52" fill="none" stroke-linecap="round" stroke-linejoin="round" />
<path d="M941.2,1102.5 C938.1,1103.8 928.8,1106.7 922.5,1110.0 C916.2,1113.3 910.0,1116.9 903.8,1122.5 C897.5,1128.1 890.2,1136.7 885.0,1143.8 C879.8,1150.8 876.0,1157.3 872.5,1165.0 C869.0,1172.7 865.6,1181.7 863.8,1190.0 C861.9,1198.3 861.2,1207.5 861.2,1215.0 C861.2,1222.5 861.9,1228.8 863.8,1235.0 C865.6,1241.2 868.1,1248.3 872.5,1252.5 C876.9,1256.7 887.1,1258.8 890.0,1260.0" stroke="#000" stroke-width="4.97" fill="none" stroke-linecap="round" stroke-linejoin="round" />
<path d="M980.0,1143.8 C977.1,1142.5 967.9,1138.5 962.5,1136.2 C957.1,1134.0 952.1,1130.8 947.5,1130.0 C942.9,1129.2 939.2,1129.6 935.0,1131.2 C930.8,1132.9 927.1,1136.0 922.5,1140.0 C917.9,1144.0 912.1,1149.6 907.5,1155.0 C902.9,1160.4 898.1,1166.7 895.0,1172.5 C891.9,1178.3 890.2,1182.9 888.8,1190.0 C887.3,1197.1 885.8,1207.5 886.2,1215.0 C886.7,1222.5 888.1,1230.0 891.2,1235.0 C894.4,1240.0 902.7,1243.3 905.0,1245.0" stroke="#000" stroke-width="4.97" fill="none" stroke-linecap="round" stroke-linejoin="round" />
<path d="M956.2,1068.8 C959.0,1068.6 967.7,1067.7 972.5,1068.1 C977.3,1068.5 978.8,1068.6 985.0,1071.2 C991.2,1073.9 1000.6,1079.0 1010.0,1083.8 C1019.4,1088.5 1034.4,1095.6 1041.2,1100.0 C1048.1,1104.4 1048.8,1105.8 1051.2,1110.0 C1053.8,1114.2 1056.2,1117.9 1056.2,1125.0 C1056.2,1132.1 1053.8,1142.7 1051.2,1152.5 C1048.8,1162.3 1042.9,1178.5 1041.2,1183.8" stroke="#000" stroke-width="5.40" fill="none" stroke-linecap="round" stroke-linejoin="round" />
<path d="M956.2,1100.0 C959.0,1102.1 968.5,1107.9 972.5,1112.5 C976.5,1117.1 978.1,1121.9 980.0,1127.5 C981.9,1133.1 983.1,1143.1 983.8,1146.2" stroke="#000" stroke-width="6.39" fill="none" stroke-linecap="round" stroke-linejoin="round" />
<path d="M983.8,1146.2 L1035.0,1182.5" stroke="#000" stroke-width="4.83" fill="none" stroke-linecap="round" stroke-linejoin="round" />
<path d="M988.8,1113.8 C991.2,1112.9 998.1,1111.2 1003.8,1108.8 C1009.4,1106.2 1016.2,1100.2 1022.5,1098.8 C1028.8,1097.3 1038.1,1099.8 1041.2,1100.0" stroke="#000" stroke-width="4.97" fill="none" stroke-linecap="round" stroke-linejoin="round" />
<path d="M985.0,1121.2 C987.1,1121.2 992.3,1122.9 997.5,1121.2 C1002.7,1119.6 1010.0,1113.8 1016.2,1111.2 C1022.5,1108.8 1029.4,1106.5 1035.0,1106.2 C1040.6,1106.0 1047.5,1109.4 1050.0,1110.0" stroke="#000" stroke-width="4.97" fill="none" stroke-linecap="round" stroke-linejoin="round" />
<path d="M971.2,1110.0 L985.0,1113.8 L985.0,1122.5 L977.5,1120.0 Z" fill="#000"/>
<path d="M1025.0,1180.0 L1157.5,1256.2 L1227.5,1305.0 L1246.2,1318.0" stroke="#000" stroke-width="5.25" fill="none" stroke-linecap="round" stroke-linejoin="round" />
<path d="M977.5,1275.0 L1105.0,1342.5 L1192.5,1380.0 L1202.5,1386.2" stroke="#000" stroke-width="5.25" fill="none" stroke-linecap="round" stroke-linejoin="round" />
<path d="M1025.0,1181.2 C1020.4,1184.0 1005.0,1190.2 997.5,1197.5 C990.0,1204.8 983.8,1215.8 980.0,1225.0 C976.2,1234.2 975.0,1244.2 975.0,1252.5 C975.0,1260.8 979.2,1271.2 980.0,1275.0" stroke="#000" stroke-width="4.97" fill="none" stroke-linecap="round" stroke-linejoin="round" />
<path d="M1015.0,1177.5 C1010.4,1180.4 995.0,1187.1 987.5,1195.0 C980.0,1202.9 973.5,1215.4 970.0,1225.0 C966.5,1234.6 965.8,1244.6 966.2,1252.5 C966.7,1260.4 971.5,1269.2 972.5,1272.5" stroke="#000" stroke-width="4.97" fill="none" stroke-linecap="round" stroke-linejoin="round" />
<path d="M1157.5,1257.5 C1153.8,1260.4 1142.1,1267.9 1135.0,1275.0 C1127.9,1282.1 1120.0,1291.7 1115.0,1300.0 C1110.0,1308.3 1106.5,1317.9 1105.0,1325.0 C1103.5,1332.1 1106.0,1339.6 1106.2,1342.5" stroke="#000" stroke-width="4.97" fill="none" stroke-linecap="round" stroke-linejoin="round" />
<path d="M1228.8,1305.8 L1243.1,1317.3 L1248.8,1327.3 L1254.6,1334.5 L1277.5,1344.5 L1293.2,1353.1 L1300.4,1364.5 L1301.8,1378.8 L1294.6,1397.5 L1284.6,1408.9 L1273.2,1416.1 L1258.8,1414.6 L1218.8,1388.9 L1198.7,1387.4 L1190.1,1378.8 Z" fill="#fff"/>
<path d="M1228.8,1305.8 C1231.2,1307.7 1239.8,1313.7 1243.1,1317.3 C1246.4,1320.9 1246.9,1324.4 1248.8,1327.3 C1250.7,1330.2 1253.6,1333.3 1254.6,1334.5" stroke="#000" stroke-width="7.10" fill="none" stroke-linecap="round" stroke-linejoin="round" />
<path d="M1254.6,1334.5 C1258.4,1336.1 1271.0,1341.4 1277.5,1344.5 C1283.9,1347.6 1289.4,1349.7 1293.2,1353.1 C1297.0,1356.4 1298.9,1360.2 1300.4,1364.5 C1301.8,1368.8 1302.8,1373.4 1301.8,1378.8 C1300.8,1384.3 1297.5,1392.4 1294.6,1397.5 C1291.8,1402.5 1288.2,1405.8 1284.6,1408.9 C1281.0,1412.0 1277.5,1415.1 1273.2,1416.1 C1268.9,1417.0 1261.2,1414.9 1258.8,1414.6" stroke="#000" stroke-width="8.52" fill="none" stroke-linecap="round" stroke-linejoin="round" />
<path d="M1258.8,1414.6 C1255.5,1412.5 1245.5,1406.0 1238.8,1401.8 C1232.1,1397.5 1222.1,1391.0 1218.8,1388.9" stroke="#000" stroke-width="9.23" fill="none" stroke-linecap="round" stroke-linejoin="round" />
<path d="M1218.8,1388.9 C1215.4,1388.6 1203.5,1389.1 1198.7,1387.4 C1193.9,1385.8 1191.6,1380.3 1190.1,1378.8" stroke="#000" stroke-width="7.81" fill="none" stroke-linecap="round" stroke-linejoin="round" />
<path d="M1230.2,1313.0 C1227.8,1313.9 1220.2,1315.9 1215.9,1318.7 C1211.6,1321.6 1207.8,1325.9 1204.4,1330.2 C1201.1,1334.5 1198.0,1339.5 1195.9,1344.5 C1193.7,1349.5 1192.3,1355.0 1191.6,1360.2 C1190.8,1365.5 1190.4,1371.7 1191.6,1376.0 C1192.8,1380.3 1197.5,1384.3 1198.7,1386.0" stroke="#000" stroke-width="5.68" fill="none" stroke-linecap="round" stroke-linejoin="round" />
<path d="M1240.2,1321.6 C1238.1,1322.1 1231.6,1322.1 1227.4,1324.4 C1223.1,1326.8 1218.3,1331.1 1214.5,1335.9 C1210.6,1340.7 1206.6,1347.6 1204.4,1353.1 C1202.3,1358.6 1201.6,1364.5 1201.6,1368.8 C1201.6,1373.1 1204.0,1377.2 1204.4,1378.8" stroke="#000" stroke-width="4.83" fill="none" stroke-linecap="round" stroke-linejoin="round" />
<path d="M1240.2,1330.2 C1238.3,1331.4 1232.4,1333.5 1228.8,1337.3 C1225.2,1341.1 1221.1,1347.8 1218.8,1353.1 C1216.4,1358.3 1214.9,1364.5 1214.5,1368.8 C1214.0,1373.1 1215.7,1377.2 1215.9,1378.8" stroke="#000" stroke-width="5.96" fill="none" stroke-linecap="round" stroke-linejoin="round" />
<path d="M1249.1,1335.6 C1247.2,1336.8 1241.2,1339.0 1237.7,1342.8 C1234.1,1346.6 1230.0,1353.3 1227.6,1358.5 C1225.3,1363.8 1223.8,1370.0 1223.3,1374.3 C1222.9,1378.6 1224.5,1382.6 1224.8,1384.3" stroke="#000" stroke-width="5.96" fill="none" stroke-linecap="round" stroke-linejoin="round" />
<path d="M1258.0,1341.1 C1256.1,1342.2 1250.1,1344.4 1246.5,1348.2 C1243.0,1352.0 1238.9,1358.7 1236.5,1364.0 C1234.1,1369.2 1232.7,1375.4 1232.2,1379.7 C1231.7,1384.0 1233.4,1388.1 1233.7,1389.7" stroke="#000" stroke-width="5.96" fill="none" stroke-linecap="round" stroke-linejoin="round" />
<path d="M1266.9,1346.5 C1265.0,1347.7 1259.0,1349.8 1255.4,1353.7 C1251.8,1357.5 1247.8,1364.1 1245.4,1369.4 C1243.0,1374.6 1241.6,1380.9 1241.1,1385.1 C1240.6,1389.4 1242.3,1393.5 1242.5,1395.2" stroke="#000" stroke-width="5.96" fill="none" stroke-linecap="round" stroke-linejoin="round" />
<path d="M1275.7,1351.9 C1273.8,1353.1 1267.9,1355.3 1264.3,1359.1 C1260.7,1362.9 1256.7,1369.6 1254.3,1374.8 C1251.9,1380.1 1250.4,1386.3 1250.0,1390.6 C1249.5,1394.9 1251.2,1398.9 1251.4,1400.6" stroke="#000" stroke-width="5.96" fill="none" stroke-linecap="round" stroke-linejoin="round" />
<path d="M1284.6,1357.4 C1282.7,1358.6 1276.7,1360.7 1273.2,1364.5 C1269.6,1368.3 1265.5,1375.0 1263.1,1380.3 C1260.8,1385.5 1259.3,1391.7 1258.8,1396.0 C1258.4,1400.3 1260.0,1404.4 1260.3,1406.0" stroke="#000" stroke-width="5.96" fill="none" stroke-linecap="round" stroke-linejoin="round" />
<ellipse cx="1281.8" cy="1384.6" rx="15" ry="26" transform="rotate(32 1281.8 1384.6)" fill="#fff" stroke="#000" stroke-width="8.52"/>
<ellipse cx="1279.5" cy="1387.5" rx="10.5" ry="18.5" transform="rotate(32 1279.5 1387.5)" fill="#fff" stroke="#000" stroke-width="4.26"/>
<ellipse cx="1279.5" cy="1388" rx="6.5" ry="12" transform="rotate(32 1279.5 1388)" fill="#fff" stroke="#000" stroke-width="4.54"/>
<path d="M1149.3,1275.8 C1146.7,1272.0 1152.4,1271.6 1154.3,1270.0 C1156.2,1268.5 1156.0,1264.4 1160.8,1266.5 C1165.6,1268.5 1175.5,1276.8 1183.0,1282.2 C1190.5,1287.6 1201.9,1294.7 1205.9,1298.7 C1209.8,1302.6 1208.7,1303.4 1206.6,1305.8 C1204.4,1308.2 1199.1,1315.1 1193.0,1313.0 C1186.9,1310.8 1177.4,1299.2 1170.1,1292.9 C1162.8,1286.7 1152.0,1279.6 1149.3,1275.8 Z" stroke="#000" stroke-width="6.39" fill="none" stroke-linecap="round" stroke-linejoin="round" />
<path d="M1170.1,1278.6 C1171.8,1277.8 1182.3,1286.0 1187.3,1289.4 C1192.3,1292.7 1198.0,1296.4 1200.2,1298.7 C1202.3,1300.9 1201.9,1302.0 1200.4,1303.0 C1199.0,1303.9 1195.4,1305.8 1191.6,1304.4 C1187.7,1303.0 1180.8,1298.7 1177.2,1294.4 C1173.7,1290.1 1168.4,1279.5 1170.1,1278.6 Z" stroke="#000" stroke-width="4.54" fill="none" stroke-linecap="round" stroke-linejoin="round" />
<path d="M1155.8,1275.8 C1156.5,1275.1 1158.7,1270.4 1160.4,1271.8 C1162.0,1273.1 1164.9,1281.7 1165.8,1283.6" stroke="#000" stroke-width="4.26" fill="none" stroke-linecap="round" stroke-linejoin="round" />
<ellipse cx="1376.2" cy="1442.7" rx="124.0" ry="68.0" transform="rotate(-57.6 1376.2 1442.7)" fill="#fff" stroke="#000" stroke-width="4.94"/>
<path d="M1488.6,1367.0 L1442.6,1338.0 L1309.8,1547.4 L1355.8,1576.4 Z" fill="#fff" stroke="none"/>
<path d="M1488.6,1367.0 L1442.6,1338.0" stroke="#000" stroke-width="4.94" fill="none" stroke-linecap="round" stroke-linejoin="round" />
<path d="M1355.8,1576.4 L1309.8,1547.4" stroke="#000" stroke-width="4.94" fill="none" stroke-linecap="round" stroke-linejoin="round" />
<ellipse cx="1422.2" cy="1471.7" rx="124.0" ry="68.0" transform="rotate(-57.6 1422.2 1471.7)" fill="#fff" stroke="#000" stroke-width="4.68"/>
<ellipse cx="1422.2" cy="1471.7" rx="109.7" ry="60.2" transform="rotate(-57.6 1422.2 1471.7)" fill="#fff" stroke="#000" stroke-width="6.50"/>
<ellipse cx="1422.2" cy="1471.7" rx="99.2" ry="54.4" transform="rotate(-57.6 1422.2 1471.7)" fill="#fff" stroke="#000" stroke-width="3.12"/>
<path d="M1489.4,1407.0 L1472.6,1423.2" stroke="#000" stroke-width="5.85" fill="none" stroke-linecap="round" stroke-linejoin="round" />
<path d="M1490.6,1446.1 L1473.5,1452.5" stroke="#000" stroke-width="5.85" fill="none" stroke-linecap="round" stroke-linejoin="round" />
<path d="M1473.4,1491.9 L1460.6,1486.9" stroke="#000" stroke-width="5.85" fill="none" stroke-linecap="round" stroke-linejoin="round" />
<path d="M1442.5,1532.4 L1437.5,1517.2" stroke="#000" stroke-width="5.85" fill="none" stroke-linecap="round" stroke-linejoin="round" />
<path d="M1406.2,1556.6 L1410.2,1535.4" stroke="#000" stroke-width="5.85" fill="none" stroke-linecap="round" stroke-linejoin="round" />
<path d="M1374.1,1558.0 L1386.2,1536.5" stroke="#000" stroke-width="5.85" fill="none" stroke-linecap="round" stroke-linejoin="round" />
<path d="M1355.0,1536.4 L1371.8,1520.2" stroke="#000" stroke-width="5.85" fill="none" stroke-linecap="round" stroke-linejoin="round" />
<path d="M1353.8,1497.3 L1370.9,1490.9" stroke="#000" stroke-width="5.85" fill="none" stroke-linecap="round" stroke-linejoin="round" />
<path d="M1371.0,1451.5 L1383.8,1456.5" stroke="#000" stroke-width="5.85" fill="none" stroke-linecap="round" stroke-linejoin="round" />
<path d="M1401.9,1411.0 L1406.9,1426.2" stroke="#000" stroke-width="5.85" fill="none" stroke-linecap="round" stroke-linejoin="round" />
<path d="M1438.2,1386.8 L1434.2,1408.0" stroke="#000" stroke-width="5.85" fill="none" stroke-linecap="round" stroke-linejoin="round" />
<path d="M1470.3,1385.4 L1458.2,1406.9" stroke="#000" stroke-width="5.85" fill="none" stroke-linecap="round" stroke-linejoin="round" />
<ellipse cx="1474.4" cy="1403.3" rx="14.3" ry="12.4" transform="rotate(-57.6 1474.4 1403.3)" fill="#fff" stroke="#000" stroke-width="3.90"/>
<ellipse cx="1483.6" cy="1430.8" rx="14.3" ry="12.4" transform="rotate(-57.6 1483.6 1430.8)" fill="#fff" stroke="#000" stroke-width="3.90"/>
<ellipse cx="1476.4" cy="1469.2" rx="14.3" ry="12.4" transform="rotate(-57.6 1476.4 1469.2)" fill="#fff" stroke="#000" stroke-width="3.90"/>
<ellipse cx="1454.6" cy="1508.4" rx="14.3" ry="12.4" transform="rotate(-57.6 1454.6 1508.4)" fill="#fff" stroke="#000" stroke-width="3.90"/>
<ellipse cx="1424.2" cy="1537.6" rx="14.3" ry="12.4" transform="rotate(-57.6 1424.2 1537.6)" fill="#fff" stroke="#000" stroke-width="3.90"/>
<ellipse cx="1393.2" cy="1549.3" rx="14.3" ry="12.4" transform="rotate(-57.6 1393.2 1549.3)" fill="#fff" stroke="#000" stroke-width="3.90"/>
<ellipse cx="1370.0" cy="1540.1" rx="14.3" ry="12.4" transform="rotate(-57.6 1370.0 1540.1)" fill="#fff" stroke="#000" stroke-width="3.90"/>
<ellipse cx="1360.8" cy="1512.6" rx="14.3" ry="12.4" transform="rotate(-57.6 1360.8 1512.6)" fill="#fff" stroke="#000" stroke-width="3.90"/>
<ellipse cx="1368.0" cy="1474.2" rx="14.3" ry="12.4" transform="rotate(-57.6 1368.0 1474.2)" fill="#fff" stroke="#000" stroke-width="3.90"/>
<ellipse cx="1389.8" cy="1435.0" rx="14.3" ry="12.4" transform="rotate(-57.6 1389.8 1435.0)" fill="#fff" stroke="#000" stroke-width="3.90"/>
<ellipse cx="1420.2" cy="1405.8" rx="14.3" ry="12.4" transform="rotate(-57.6 1420.2 1405.8)" fill="#fff" stroke="#000" stroke-width="3.90"/>
<ellipse cx="1451.2" cy="1394.1" rx="14.3" ry="12.4" transform="rotate(-57.6 1451.2 1394.1)" fill="#fff" stroke="#000" stroke-width="3.90"/>
<ellipse cx="1422.2" cy="1471.7" rx="72.5" ry="39.8" transform="rotate(-57.6 1422.2 1471.7)" fill="#fff" stroke="#000" stroke-width="6.50"/>
<ellipse cx="1422.2" cy="1471.7" rx="55.8" ry="30.6" transform="rotate(-57.6 1422.2 1471.7)" fill="#fff" stroke="#000" stroke-width="5.46"/>
<path d="M1434.1,1428.9 C1433.8,1431.5 1433.8,1438.8 1432.1,1444.3 C1430.5,1449.9 1428.0,1455.9 1424.2,1462.2 C1420.4,1468.5 1414.6,1476.5 1409.3,1482.1 C1403.9,1487.8 1394.7,1493.7 1391.8,1496.1" stroke="#000" stroke-width="4.68" fill="none" stroke-linecap="round" stroke-linejoin="round" />
<path d="M1778.8,612.0 C1779.8,598.4 1782.7,556.3 1785.0,530.2 C1787.3,504.0 1790.4,476.0 1792.5,455.1 C1794.6,434.3 1798.4,416.8 1797.5,405.1 C1796.7,393.4 1790.1,392.2 1787.5,385.1 C1784.9,378.0 1782.0,370.1 1782.0,362.6 C1782.0,355.1 1784.1,348.0 1787.5,340.0 C1790.9,332.1 1797.1,321.7 1802.5,315.0 C1808.0,308.4 1814.6,303.0 1820.0,300.0 C1825.5,297.0 1830.1,297.0 1835.1,297.0 C1840.1,297.0 1843.8,297.8 1850.1,300.0 C1856.3,302.2 1865.1,306.3 1872.6,310.0 C1880.1,313.8 1888.8,318.8 1895.1,322.5 C1901.4,326.3 1905.9,328.4 1910.1,332.5 C1914.3,336.7 1918.0,342.1 1920.1,347.6 C1922.3,353.0 1923.1,358.8 1923.1,365.1 C1923.1,371.3 1921.8,379.2 1920.1,385.1 C1918.5,390.9 1914.3,397.6 1913.1,400.1" stroke="#000" stroke-width="5.60" fill="none" stroke-linecap="round" stroke-linejoin="round" />
<path d="M1913.1,400.1 C1913.4,405.1 1913.9,412.6 1915.1,430.1 C1916.3,447.6 1918.2,474.9 1920.1,505.2 C1922.0,535.5 1925.3,594.2 1926.4,612.0" stroke="#000" stroke-width="6.30" fill="none" stroke-linecap="round" stroke-linejoin="round" />
<path d="M1784.5,360.1 L1795.0,360.1" stroke="#000" stroke-width="4.90" fill="none" stroke-linecap="round" stroke-linejoin="round" />
<path d="M1787.0,368.8 L1793.8,367.6" stroke="#000" stroke-width="4.90" fill="none" stroke-linecap="round" stroke-linejoin="round" />
<path d="M1842.6,325.0 C1840.1,328.0 1832.1,335.9 1827.6,342.5 C1823.0,349.2 1817.8,357.1 1815.0,365.1 C1812.3,373.0 1811.1,382.2 1811.3,390.1 C1811.5,398.0 1814.0,406.3 1816.3,412.6 C1818.6,418.9 1823.4,420.5 1825.0,427.6 C1826.7,434.7 1827.1,438.0 1826.3,455.1 C1825.5,472.2 1822.1,504.0 1820.0,530.2 C1818.0,556.3 1814.8,598.4 1813.8,612.0" stroke="#000" stroke-width="5.04" fill="none" stroke-linecap="round" stroke-linejoin="round" />
<ellipse cx="1853.8" cy="322.0" rx="15.5" ry="10.0" transform="rotate(-8 1853.8 322.0)" fill="#fff" stroke="#000" stroke-width="4.76"/>
<ellipse cx="1854.6" cy="325.0" rx="5.5" ry="3.8" transform="rotate(0 1854.6 325.0)" fill="#fff" stroke="#000" stroke-width="4.20"/>
<path d="M1895.1,330.0 C1890.9,332.5 1877.2,338.0 1870.1,345.0 C1863.0,352.1 1856.7,363.8 1852.6,372.6 C1848.4,381.3 1845.9,390.5 1845.1,397.6 C1844.2,404.7 1845.7,410.3 1847.6,415.1 C1849.4,419.9 1854.9,424.5 1856.3,426.4" stroke="#000" stroke-width="4.76" fill="none" stroke-linecap="round" stroke-linejoin="round" />
<path d="M1900.1,341.3 C1896.4,342.8 1883.8,345.3 1877.6,350.1 C1871.3,354.8 1866.5,363.0 1862.6,370.1 C1858.6,377.2 1854.9,385.9 1853.8,392.6 C1852.8,399.3 1854.9,406.0 1856.3,410.1 C1857.8,414.2 1861.5,415.9 1862.6,417.1" stroke="#000" stroke-width="4.20" fill="none" stroke-linecap="round" stroke-linejoin="round" />
<ellipse cx="1885.6" cy="377.6" rx="41.3" ry="22.0" transform="rotate(-60 1885.6 377.6)" fill="#fff" stroke="#000" stroke-width="8.40"/>
<ellipse cx="1863.8" cy="426.4" rx="6.0" ry="10.0" transform="rotate(20 1863.8 426.4)" fill="#fff" stroke="#000" stroke-width="4.76"/>
<ellipse cx="1905.1" cy="402.6" rx="6.0" ry="10.0" transform="rotate(15 1905.1 402.6)" fill="#fff" stroke="#000" stroke-width="4.76"/>
<path d="M1870.1,417.1 L1896.4,405.1" stroke="#000" stroke-width="4.48" fill="none" stroke-linecap="round" stroke-linejoin="round" />
<path d="M1874.6,425.6 L1897.1,415.1" stroke="#000" stroke-width="4.48" fill="none" stroke-linecap="round" stroke-linejoin="round" />
<path d="M1857.6,435.1 C1856.8,448.9 1854.7,488.2 1853.1,517.7 C1851.4,547.2 1848.5,596.3 1847.6,612.0" stroke="#000" stroke-width="4.76" fill="none" stroke-linecap="round" stroke-linejoin="round" />
<path d="M1866.3,437.6 C1865.5,451.0 1863.0,488.6 1861.3,517.7 C1859.7,546.7 1857.2,596.3 1856.3,612.0" stroke="#000" stroke-width="5.88" fill="none" stroke-linecap="round" stroke-linejoin="round" />
<path d="M1885.1,440.1 C1885.3,451.0 1885.5,476.5 1886.3,505.2 C1887.2,533.8 1889.5,594.2 1890.1,612.0" stroke="#000" stroke-width="4.48" fill="none" stroke-linecap="round" stroke-linejoin="round" />
<path d="M1900.6,415.1 C1901.4,425.9 1902.9,447.3 1905.1,480.2 C1907.3,513.0 1912.4,590.0 1913.9,612.0" stroke="#000" stroke-width="4.48" fill="none" stroke-linecap="round" stroke-linejoin="round" />
<path d="M1908.1,412.6 C1909.1,428.0 1911.8,471.9 1913.9,505.2 C1916.0,538.4 1919.5,594.2 1920.6,612.0" stroke="#000" stroke-width="4.48" fill="none" stroke-linecap="round" stroke-linejoin="round" />
<path d="M1780.1,612.5 C1779.2,624.2 1776.7,662.5 1775.1,682.5 C1773.4,702.6 1771.7,718.8 1770.1,732.6 C1768.4,746.3 1768.4,754.7 1765.1,765.1 C1761.7,775.5 1754.2,785.1 1750.1,795.1 C1745.9,805.1 1742.5,816.0 1740.0,825.2 C1737.5,834.3 1736.7,843.9 1735.0,850.2 C1733.4,856.4 1732.5,858.5 1730.0,862.7 C1727.5,866.9 1722.3,871.0 1720.0,875.2 C1717.7,879.4 1715.9,883.9 1716.3,887.7 C1716.7,891.5 1716.1,893.1 1722.5,897.7 C1729.0,902.3 1743.8,909.6 1755.1,915.2 C1766.3,920.9 1783.0,928.6 1790.1,931.5 C1797.2,934.4 1796.3,932.5 1797.6,932.7" stroke="#000" stroke-width="5.88" fill="none" stroke-linecap="round" stroke-linejoin="round" />
<path d="M1797.6,932.7 C1799.7,930.6 1806.3,923.6 1810.1,920.2 C1813.9,916.9 1817.1,916.5 1820.1,912.7 C1823.1,909.0 1826.8,900.2 1828.1,897.7" stroke="#000" stroke-width="5.88" fill="none" stroke-linecap="round" stroke-linejoin="round" />
<path d="M1812.6,612.5 C1812.0,626.3 1810.3,672.1 1808.8,695.1 C1807.4,718.0 1805.7,736.8 1803.8,750.1 C1802.0,763.4 1799.9,769.3 1797.6,775.1 C1795.3,781.0 1791.3,783.5 1790.1,785.1" stroke="#000" stroke-width="4.76" fill="none" stroke-linecap="round" stroke-linejoin="round" />
<ellipse cx="1785.1" cy="802.6" rx="14.5" ry="20.0" transform="rotate(25 1785.1 802.6)" fill="#000" stroke="#000" stroke-width="4.20"/>
<path d="M1778.8,795.1 L1790.1,792.6" stroke="#000" stroke-width="4.48" fill="none" stroke-linecap="round" stroke-linejoin="round" />
<path d="M1778.1,797.1 L1790.6,793.1" stroke="#fff" stroke-width="3.64" fill="none" stroke-linecap="round"/>
<path d="M1778.8,807.6 L1788.8,803.9" stroke="#fff" stroke-width="3.64" fill="none" stroke-linecap="round"/>
<path d="M1767.6,770.1 C1768.4,771.8 1773.0,775.1 1772.6,780.1 C1772.2,785.1 1768.0,793.9 1765.1,800.1 C1762.1,806.4 1758.8,813.1 1755.1,817.6 C1751.3,822.2 1744.6,826.0 1742.5,827.7" stroke="#000" stroke-width="4.20" fill="none" stroke-linecap="round" stroke-linejoin="round" />
<path d="M1737.5,830.2 C1740.0,830.6 1747.6,832.7 1752.6,832.7 C1757.6,832.7 1761.7,832.2 1767.6,830.2 C1773.4,828.1 1780.1,823.9 1787.6,820.2 C1795.1,816.4 1805.5,812.2 1812.6,807.6 C1819.7,803.1 1827.2,795.1 1830.1,792.6" stroke="#000" stroke-width="5.04" fill="none" stroke-linecap="round" stroke-linejoin="round" />
<path d="M1755.1,832.7 C1754.6,838.9 1752.6,856.4 1752.6,870.2 C1752.6,883.9 1754.6,907.7 1755.1,915.2" stroke="#000" stroke-width="4.20" fill="none" stroke-linecap="round" stroke-linejoin="round" />
<path d="M1762.6,835.2 C1763.8,839.3 1767.6,852.3 1770.1,860.2 C1772.6,868.1 1774.7,876.4 1777.6,882.7 C1780.5,889.0 1785.5,891.9 1787.6,897.7 C1789.7,903.5 1789.7,914.4 1790.1,917.7" stroke="#000" stroke-width="4.20" fill="none" stroke-linecap="round" stroke-linejoin="round" />
<path d="M1772.6,837.7 C1773.4,841.4 1775.9,853.1 1777.6,860.2 C1779.2,867.3 1779.7,874.4 1782.6,880.2 C1785.5,886.0 1793.0,892.7 1795.1,895.2" stroke="#000" stroke-width="3.64" fill="none" stroke-linecap="round" stroke-linejoin="round" />
<path d="M1846.4,612.5 C1845.7,626.3 1844.1,670.9 1842.6,695.1 C1841.2,719.2 1839.3,741.8 1837.6,757.6 C1836.0,773.4 1835.1,781.8 1832.6,790.1 C1830.1,798.5 1824.3,804.7 1822.6,807.6" stroke="#000" stroke-width="4.76" fill="none" stroke-linecap="round" stroke-linejoin="round" />
<path d="M1858.9,612.5 C1858.3,626.3 1856.4,670.5 1855.1,695.1 C1853.9,719.7 1851.8,744.3 1851.4,760.1 C1851.0,776.0 1852.4,785.1 1852.6,790.1" stroke="#000" stroke-width="5.88" fill="none" stroke-linecap="round" stroke-linejoin="round" />
<path d="M1852.6,790.1 C1854.7,788.5 1861.0,783.5 1865.1,780.1 C1869.3,776.8 1875.6,771.8 1877.6,770.1" stroke="#000" stroke-width="4.76" fill="none" stroke-linecap="round" stroke-linejoin="round" />
<path d="M1867.6,782.6 C1863.1,787.2 1848.0,799.7 1840.1,810.1 C1832.2,820.6 1825.5,834.3 1820.1,845.2 C1814.7,856.0 1810.9,867.2 1807.6,875.2 C1804.3,883.2 1801.3,890.2 1800.1,893.2" stroke="#000" stroke-width="6.30" fill="none" stroke-linecap="round" stroke-linejoin="round" />
<path d="M1872.6,790.1 C1868.1,795.1 1852.6,809.7 1845.1,820.2 C1837.6,830.6 1832.6,841.8 1827.6,852.7 C1822.6,863.5 1818.9,877.3 1815.1,885.2 C1811.3,893.1 1806.8,897.7 1805.1,900.2" stroke="#000" stroke-width="3.92" fill="none" stroke-linecap="round" stroke-linejoin="round" />
<path d="M1880.2,795.1 C1876.8,799.3 1866.4,811.0 1860.1,820.2 C1853.9,829.3 1847.2,840.2 1842.6,850.2 C1838.0,860.2 1835.1,872.3 1832.6,880.2 C1830.1,888.1 1830.5,893.5 1827.6,897.7 C1824.7,901.9 1819.7,904.4 1815.1,905.2 C1810.5,906.0 1803.2,904.4 1800.1,902.7 C1797.0,901.0 1797.0,896.5 1796.3,895.2" stroke="#000" stroke-width="5.88" fill="none" stroke-linecap="round" stroke-linejoin="round" />
<path d="M1877.6,768.9 C1879.3,767.9 1884.3,763.7 1887.7,763.1 C1891.0,762.5 1893.1,764.8 1897.7,765.1 C1902.3,765.4 1909.8,764.6 1915.2,765.1 C1920.6,765.6 1925.2,765.6 1930.2,768.1 C1935.2,770.6 1941.0,775.6 1945.2,780.1 C1949.4,784.6 1952.3,789.7 1955.2,795.1 C1958.1,800.6 1960.2,808.9 1962.7,812.6 C1965.2,816.4 1969.0,816.8 1970.2,817.6" stroke="#000" stroke-width="5.60" fill="none" stroke-linecap="round" stroke-linejoin="round" />
<path d="M1970.2,817.6 C1970.8,815.1 1972.3,805.6 1974.0,802.6 C1975.6,799.7 1978.6,797.2 1980.2,800.1 C1981.9,803.1 1985.6,814.7 1984.0,820.2 C1982.3,825.6 1973.8,831.8 1970.2,832.7 C1966.7,833.5 1964.0,826.4 1962.7,825.2" stroke="#000" stroke-width="6.30" fill="none" stroke-linecap="round" stroke-linejoin="round" />
<path d="M1882.7,795.1 L1935.2,835.2 L1945.2,832.7 L1952.7,825.2 L1962.7,825.2" stroke="#000" stroke-width="5.60" fill="none" stroke-linecap="round" stroke-linejoin="round" />
<path d="M1905.2,782.6 C1907.7,782.2 1915.2,779.3 1920.2,780.1 C1925.2,781.0 1931.0,784.3 1935.2,787.6 C1939.4,791.0 1942.7,794.7 1945.2,800.1 C1947.7,805.6 1949.4,816.8 1950.2,820.2" stroke="#000" stroke-width="4.48" fill="none" stroke-linecap="round" stroke-linejoin="round" />
<path d="M1915.2,790.1 C1917.7,791.8 1926.0,795.1 1930.2,800.1 C1934.4,805.1 1938.1,814.7 1940.2,820.2 C1942.3,825.6 1942.3,830.6 1942.7,832.7" stroke="#000" stroke-width="4.20" fill="none" stroke-linecap="round" stroke-linejoin="round" />
<path d="M1887.7,765.1 C1888.5,769.3 1893.9,785.0 1892.7,790.1 C1891.4,795.2 1882.2,794.7 1880.2,795.6" stroke="#000" stroke-width="4.76" fill="none" stroke-linecap="round" stroke-linejoin="round" />
<path d="M1900.2,767.6 L1897.7,785.1" stroke="#000" stroke-width="4.20" fill="none" stroke-linecap="round" stroke-linejoin="round" />
<path d="M1872.6,772.6 L1880.2,767.6 L1883.9,792.6 L1878.9,795.1 Z" fill="#000"/>
<path d="M1892.7,612.5 C1893.1,628.3 1893.5,686.7 1895.2,707.6 C1896.8,728.4 1898.5,730.1 1902.7,737.6 C1906.8,745.1 1916.8,748.4 1920.2,752.6 C1923.5,756.8 1922.3,760.9 1922.7,762.6" stroke="#000" stroke-width="4.48" fill="none" stroke-linecap="round" stroke-linejoin="round" />
<path d="M1915.2,612.5 C1916.0,626.3 1918.7,673.8 1920.2,695.1 C1921.6,716.3 1922.7,729.2 1923.9,740.1 C1925.2,750.9 1927.1,756.8 1927.7,760.1" stroke="#000" stroke-width="4.48" fill="none" stroke-linecap="round" stroke-linejoin="round" />
<path d="M1927.7,612.5 C1928.5,626.3 1931.0,673.8 1932.7,695.1 C1934.4,716.3 1934.8,730.9 1937.7,740.1 C1940.6,749.3 1946.0,746.8 1950.2,750.1 C1954.4,753.4 1959.4,754.7 1962.7,760.1 C1966.0,765.5 1967.7,776.8 1970.2,782.6 C1972.7,788.5 1976.1,792.2 1977.7,795.1 C1979.4,798.1 1979.8,799.3 1980.2,800.1" stroke="#000" stroke-width="5.88" fill="none" stroke-linecap="round" stroke-linejoin="round" />
<path d="M1945.2,755.1 C1946.4,757.6 1950.2,764.3 1952.7,770.1 C1955.2,776.0 1958.5,784.3 1960.2,790.1 C1961.9,796.0 1962.3,802.6 1962.7,805.1" stroke="#000" stroke-width="4.20" fill="none" stroke-linecap="round" stroke-linejoin="round" />
<ellipse cx="1871.4" cy="742.6" rx="9.5" ry="13.8" transform="rotate(-20 1871.4 742.6)" fill="#fff" stroke="#000" stroke-width="4.76"/>
<path d="M1866.4,750.1 L1876.4,735.6" stroke="#000" stroke-width="4.20" fill="none" stroke-linecap="round" stroke-linejoin="round" />
<path d="M1880.2,942.5 L1880.2,907.5 L1912.7,891.3 L1997.7,941.3" stroke="#000" stroke-width="5.88" fill="none" stroke-linecap="round" stroke-linejoin="round" />
<path d="M1883.9,916.3 L1949.0,952.6 L1986.5,933.8" stroke="#000" stroke-width="4.48" fill="none" stroke-linecap="round" stroke-linejoin="round" />
<ellipse cx="1930.2" cy="920.0" rx="11.5" ry="7.5" transform="rotate(0 1930.2 920.0)" fill="#fff" stroke="#000" stroke-width="5.04"/>
<path d="M1919.7,915.0 C1921.0,914.3 1924.7,911.0 1927.7,910.5 C1930.7,910.0 1936.0,911.8 1937.7,912.0" stroke="#000" stroke-width="4.20" fill="none" stroke-linecap="round" stroke-linejoin="round" />
<path d="M1984.0,935.5 L1999.0,942.5 L2000.7,951.3 L1992.7,955.6 Z" fill="#000" stroke="#000" stroke-width="2.80"/>
<path d="M1880.2,942.5 C1878.9,948.0 1876.8,964.6 1872.6,975.1 C1868.5,985.5 1861.4,996.8 1855.1,1005.1 C1848.9,1013.4 1840.3,1020.4 1835.1,1025.1 C1829.9,1029.8 1825.7,1031.8 1823.9,1033.1" stroke="#000" stroke-width="5.60" fill="none" stroke-linecap="round" stroke-linejoin="round" />
<path d="M1949.0,952.6 C1948.7,957.1 1949.6,969.7 1947.7,980.1 C1945.8,990.5 1942.7,1004.3 1937.7,1015.1 C1932.7,1025.9 1925.2,1036.8 1917.7,1045.1 C1910.2,1053.5 1901.8,1060.1 1892.7,1065.1 C1883.5,1070.2 1867.6,1073.9 1862.6,1075.6" stroke="#000" stroke-width="3.92" fill="none" stroke-linecap="round" stroke-linejoin="round" />
<path d="M1823.9,1033.1 C1825.7,1036.8 1830.7,1048.1 1835.1,1055.1 C1839.5,1062.1 1845.1,1070.1 1850.1,1075.1 C1855.1,1080.2 1857.6,1084.3 1865.1,1085.2 C1872.6,1086.0 1886.0,1083.9 1895.2,1080.2 C1904.3,1076.4 1911.8,1071.0 1920.2,1062.6 C1928.5,1054.3 1938.9,1041.8 1945.2,1030.1 C1951.5,1018.4 1954.8,1003.8 1957.7,992.6 C1960.6,981.3 1960.2,969.2 1962.7,962.6 C1965.2,955.9 1971.1,954.2 1972.7,952.6" stroke="#000" stroke-width="5.60" fill="none" stroke-linecap="round" stroke-linejoin="round" />
<path d="M1954.0,957.6 C1953.5,962.1 1953.3,974.7 1951.5,985.1 C1949.6,995.5 1947.1,1009.3 1942.7,1020.1 C1938.3,1030.9 1932.3,1041.4 1925.2,1050.1 C1918.1,1058.9 1909.3,1067.2 1900.2,1072.6 C1891.0,1078.1 1877.6,1081.7 1870.1,1082.7 C1862.6,1083.6 1857.6,1078.9 1855.1,1078.1" stroke="#000" stroke-width="4.20" fill="none" stroke-linecap="round" stroke-linejoin="round" />
<path d="M1985.2,952.6 C1984.4,957.1 1983.1,969.2 1980.2,980.1 C1977.3,990.9 1972.7,1005.9 1967.7,1017.6 C1962.7,1029.3 1956.5,1040.5 1950.2,1050.1 C1943.9,1059.7 1935.6,1068.9 1930.2,1075.1 C1924.8,1081.4 1921.0,1083.5 1917.7,1087.7 C1914.3,1091.8 1913.9,1097.5 1910.2,1100.2 C1906.4,1102.9 1904.3,1104.3 1895.2,1103.9 C1886.0,1103.5 1863.9,1098.7 1855.1,1097.7 C1846.4,1096.6 1846.0,1099.7 1842.6,1097.7 C1839.3,1095.6 1837.6,1089.3 1835.1,1085.2 C1832.6,1081.0 1831.4,1075.1 1827.6,1072.6 C1823.9,1070.1 1815.1,1070.6 1812.6,1070.1" stroke="#000" stroke-width="5.88" fill="none" stroke-linecap="round" stroke-linejoin="round" />
<path d="M1992.7,955.6 C1991.1,959.6 1984.8,969.3 1982.7,980.1 C1980.6,990.8 1982.3,1011.8 1980.2,1020.1 C1978.1,1028.4 1972.7,1029.3 1970.2,1030.1 C1967.7,1030.9 1964.8,1028.0 1965.2,1025.1 C1965.6,1022.2 1971.5,1014.7 1972.7,1012.6" stroke="#000" stroke-width="5.60" fill="none" stroke-linecap="round" stroke-linejoin="round" />
<path d="M1949.0,952.6 L1972.7,952.6 L1986.5,950.1" stroke="#000" stroke-width="4.20" fill="none" stroke-linecap="round" stroke-linejoin="round" />
<path d="M1712.5,1030.1 L1720.0,1010.1 L1752.6,991.3 L1823.9,1031.4" stroke="#000" stroke-width="5.88" fill="none" stroke-linecap="round" stroke-linejoin="round" />
<path d="M1725.0,1013.9 L1797.6,1052.6 L1825.1,1033.1" stroke="#000" stroke-width="4.48" fill="none" stroke-linecap="round" stroke-linejoin="round" />
<ellipse cx="1771.3" cy="1018.9" rx="11.5" ry="7.5" transform="rotate(0 1771.3 1018.9)" fill="#fff" stroke="#000" stroke-width="5.04"/>
<path d="M1760.6,1013.9 C1761.9,1013.1 1765.8,1010.1 1768.8,1009.6 C1771.9,1009.1 1777.2,1010.8 1778.8,1011.1" stroke="#000" stroke-width="4.20" fill="none" stroke-linecap="round" stroke-linejoin="round" />
<path d="M1712.5,1030.1 L1790.1,1070.1 L1797.6,1055.1" stroke="#000" stroke-width="5.60" fill="none" stroke-linecap="round" stroke-linejoin="round" />
<path d="M1717.5,1038.1 L1787.6,1075.6" stroke="#000" stroke-width="4.20" fill="none" stroke-linecap="round" stroke-linejoin="round" />
<path d="M1712.5,1040.1 L1732.5,1052.6" stroke="#000" stroke-width="5.60" fill="none" stroke-linecap="round" stroke-linejoin="round" />
<path d="M1732.5,1052.6 C1732.3,1061.4 1730.0,1094.3 1731.3,1105.2 C1732.5,1116.0 1733.6,1112.3 1740.0,1117.7 C1746.5,1123.1 1761.3,1135.6 1770.1,1137.7 C1778.8,1139.8 1784.2,1134.4 1792.6,1130.2 C1800.9,1126.0 1811.3,1118.0 1820.1,1112.7 C1828.9,1107.3 1841.0,1100.6 1845.1,1098.2" stroke="#000" stroke-width="5.88" fill="none" stroke-linecap="round" stroke-linejoin="round" />
<path d="M1748.1,1055.1 L1750.6,1120.2" stroke="#000" stroke-width="4.20" fill="none" stroke-linecap="round" stroke-linejoin="round" />
<path d="M1755.1,1072.6 C1756.7,1072.6 1759.6,1070.1 1765.1,1072.6 C1770.5,1075.2 1780.9,1087.3 1787.6,1088.2 C1794.3,1089.0 1800.9,1080.7 1805.1,1077.6 C1809.3,1074.6 1811.3,1071.4 1812.6,1070.1" stroke="#000" stroke-width="5.60" fill="none" stroke-linecap="round" stroke-linejoin="round" />
<path d="M1797.6,1055.1 C1799.7,1055.1 1804.7,1057.6 1810.1,1055.1 C1815.5,1052.6 1826.8,1042.6 1830.1,1040.1" stroke="#000" stroke-width="4.48" fill="none" stroke-linecap="round" stroke-linejoin="round" />
<path d="M1790.1,1070.1 C1792.6,1069.3 1801.8,1067.6 1805.1,1065.1 C1808.4,1062.6 1809.3,1056.8 1810.1,1055.1" stroke="#000" stroke-width="4.48" fill="none" stroke-linecap="round" stroke-linejoin="round" />
<path d="M2842.7,434.2 L2844.3,436.2 L2845.8,438.3 L2847.1,440.4 L2848.4,442.5 L2849.6,444.6 L2850.8,446.7 L2851.8,448.9 L2852.7,451.0 L2853.6,453.2 L2854.3,455.3 L2855.0,457.5 L2855.5,459.7 L2856.0,461.9 L2856.4,464.1 L2856.7,466.3 L2856.9,468.5 L2857.0,470.7 L2857.0,472.9 L2856.9,475.1 L2856.7,477.3 L2856.5,479.5 L2856.1,481.7 L2855.6,483.9 L2855.1,486.1 L2854.5,488.2 L2853.7,490.4 L2852.9,492.6 L2852.0,494.7 L2851.0,496.9 L2849.9,499.0 L2848.7,501.1 L2847.4,503.2 L2846.0,505.3 L2844.6,507.4 L2843.0,509.4 L2841.4,511.5 L2839.7,513.5 L2837.9,515.5 L2836.0,517.5 L2834.1,519.4 L2832.0,521.4 L2829.9,523.3 L2827.7,525.1 L2825.4,527.0 L2823.0,528.8 L2820.6,530.7 L2818.0,532.4 L2815.5,534.2 L2812.8,535.9 L2810.0,537.6 L2807.2,539.3 L2804.3,540.9 L2801.4,542.5 L2798.4,544.0 L2795.3,545.6 L2792.1,547.1 L2788.9,548.5 L2785.7,549.9 L2782.3,551.3 L2779.0,552.7 L2775.5,554.0 L2772.0,555.2 L2768.5,556.5 L2764.9,557.7 L2761.2,558.8 L2757.5,559.9 L2753.8,561.0 L2750.0,562.0 L2746.2,563.0 L2742.3,563.9 L2738.4,564.8 L2734.4,565.6 L2730.4,566.4 L2726.4,567.2 L2722.4,567.9 L2718.3,568.6 L2714.2,569.2 L2710.1,569.8 L2705.9,570.3 L2701.8,570.8 L2697.6,571.2 L2693.3,571.6 L2689.1,572.0 L2684.9,572.2 L2680.6,572.5 L2676.4,572.7 L2672.1,572.8 L2667.8,572.9 L2663.6,573.0 L2659.3,573.0 L2655.0,573.0 L2650.7,572.9 L2646.5,572.7 L2642.2,572.5 L2638.0,572.3 L2633.7,572.0 L2629.5,571.7 L2625.3,571.3 L2621.1,570.9 L2616.9,570.4 L2612.8,569.9 L2608.6,569.3 L2604.5,568.7 L2600.4,568.1 L2596.4,567.4 L2592.4,566.6 L2588.4,565.8 L2584.4,565.0 L2580.5,564.1 L2576.6,563.2 L2572.8,562.2 L2569.0,561.2 L2565.2,560.1 L2561.5,559.0 L2557.9,557.9 L2554.3,556.7 L2550.7,555.5 L2547.2,554.2 L2543.7,552.9 L2540.3,551.6 L2550.2,541.3 L2553.3,542.5 L2556.5,543.6 L2559.7,544.7 L2563.0,545.8 L2566.3,546.8 L2569.6,547.8 L2573.0,548.8 L2576.5,549.7 L2580.0,550.6 L2583.5,551.4 L2587.1,552.2 L2590.7,553.0 L2594.3,553.7 L2598.0,554.4 L2601.7,555.1 L2605.4,555.7 L2609.1,556.3 L2612.9,556.8 L2616.7,557.3 L2620.5,557.7 L2624.3,558.2 L2628.2,558.5 L2632.1,558.9 L2635.9,559.1 L2639.8,559.4 L2643.7,559.6 L2647.7,559.8 L2651.6,559.9 L2655.5,560.0 L2659.4,560.0 L2663.4,560.0 L2667.3,559.9 L2671.2,559.9 L2675.1,559.7 L2679.0,559.6 L2682.9,559.3 L2686.8,559.1 L2690.7,558.8 L2694.6,558.5 L2698.4,558.1 L2702.3,557.7 L2706.1,557.2 L2709.9,556.7 L2713.6,556.2 L2717.4,555.6 L2721.1,555.0 L2724.8,554.3 L2728.4,553.6 L2732.1,552.9 L2735.6,552.1 L2739.2,551.3 L2742.7,550.4 L2746.2,549.5 L2749.6,548.6 L2753.0,547.6 L2756.4,546.6 L2759.7,545.6 L2763.0,544.5 L2766.2,543.4 L2769.3,542.3 L2772.4,541.1 L2775.5,539.9 L2778.5,538.7 L2781.4,537.4 L2784.3,536.1 L2787.2,534.8 L2789.9,533.4 L2792.6,532.0 L2795.3,530.6 L2797.9,529.2 L2800.4,527.7 L2802.8,526.2 L2805.2,524.7 L2807.5,523.1 L2809.8,521.5 L2812.0,519.9 L2814.1,518.3 L2816.1,516.7 L2818.0,515.0 L2819.9,513.3 L2821.7,511.6 L2823.5,509.9 L2825.1,508.1 L2826.7,506.4 L2828.2,504.6 L2829.6,502.8 L2830.9,501.0 L2832.2,499.2 L2833.4,497.4 L2834.5,495.5 L2835.5,493.7 L2836.4,491.8 L2837.2,489.9 L2838.0,488.0 L2838.7,486.1 L2839.2,484.2 L2839.8,482.3 L2840.2,480.4 L2840.5,478.5 L2840.8,476.6 L2840.9,474.7 L2841.0,472.8 L2841.0,470.8 L2840.9,468.9 L2840.7,467.0 L2840.4,465.1 L2840.1,463.2 L2839.7,461.3 L2839.1,459.4 L2838.5,457.5 L2837.8,455.6 L2837.1,453.7 L2836.2,451.8 L2835.3,450.0 L2834.2,448.1 L2833.1,446.3 L2831.9,444.4 L2830.7,442.6 L2829.3,440.8 L2827.9,439.0 Z" stroke="#000" stroke-width="4.25" fill="#fff" stroke-linecap="round" stroke-linejoin="round" />
<path d="M2842.7,428.2 L2844.3,430.2 L2845.8,432.3 L2847.1,434.4 L2848.4,436.5 L2849.6,438.6 L2850.8,440.7 L2851.8,442.9 L2852.7,445.0 L2853.6,447.2 L2854.3,449.3 L2855.0,451.5 L2855.5,453.7 L2856.0,455.9 L2856.4,458.1 L2856.7,460.3 L2856.9,462.5 L2857.0,464.7 L2857.0,466.9 L2856.9,469.1 L2856.7,471.3 L2856.5,473.5 L2856.1,475.7 L2855.6,477.9 L2855.1,480.1 L2854.5,482.2 L2853.7,484.4 L2852.9,486.6 L2852.0,488.7 L2851.0,490.9 L2849.9,493.0 L2848.7,495.1 L2847.4,497.2 L2846.0,499.3 L2844.6,501.4 L2843.0,503.4 L2841.4,505.5 L2839.7,507.5 L2837.9,509.5 L2836.0,511.5 L2834.1,513.4 L2832.0,515.4 L2829.9,517.3 L2827.7,519.1 L2825.4,521.0 L2823.0,522.8 L2820.6,524.7 L2818.0,526.4 L2815.5,528.2 L2812.8,529.9 L2810.0,531.6 L2807.2,533.3 L2804.3,534.9 L2801.4,536.5 L2798.4,538.0 L2795.3,539.6 L2792.1,541.1 L2788.9,542.5 L2785.7,543.9 L2782.3,545.3 L2779.0,546.7 L2775.5,548.0 L2772.0,549.2 L2768.5,550.5 L2764.9,551.7 L2761.2,552.8 L2757.5,553.9 L2753.8,555.0 L2750.0,556.0 L2746.2,557.0 L2742.3,557.9 L2738.4,558.8 L2734.4,559.6 L2730.4,560.4 L2726.4,561.2 L2722.4,561.9 L2718.3,562.6 L2714.2,563.2 L2710.1,563.8 L2705.9,564.3 L2701.8,564.8 L2697.6,565.2 L2693.3,565.6 L2689.1,566.0 L2684.9,566.2 L2680.6,566.5 L2676.4,566.7 L2672.1,566.8 L2667.8,566.9 L2663.6,567.0 L2659.3,567.0 L2655.0,567.0 L2650.7,566.9 L2646.5,566.7 L2642.2,566.5 L2638.0,566.3 L2633.7,566.0 L2629.5,565.7 L2625.3,565.3 L2621.1,564.9 L2616.9,564.4 L2612.8,563.9 L2608.6,563.3 L2604.5,562.7 L2600.4,562.1 L2596.4,561.4 L2592.4,560.6 L2588.4,559.8 L2584.4,559.0 L2580.5,558.1 L2576.6,557.2 L2572.8,556.2 L2569.0,555.2 L2565.2,554.1 L2561.5,553.0 L2557.9,551.9 L2554.3,550.7 L2550.7,549.5 L2547.2,548.2 L2543.7,546.9 L2540.3,545.6 L2550.2,535.3 L2553.3,536.5 L2556.5,537.6 L2559.7,538.7 L2563.0,539.8 L2566.3,540.8 L2569.6,541.8 L2573.0,542.8 L2576.5,543.7 L2580.0,544.6 L2583.5,545.4 L2587.1,546.2 L2590.7,547.0 L2594.3,547.7 L2598.0,548.4 L2601.7,549.1 L2605.4,549.7 L2609.1,550.3 L2612.9,550.8 L2616.7,551.3 L2620.5,551.7 L2624.3,552.2 L2628.2,552.5 L2632.1,552.9 L2635.9,553.1 L2639.8,553.4 L2643.7,553.6 L2647.7,553.8 L2651.6,553.9 L2655.5,554.0 L2659.4,554.0 L2663.4,554.0 L2667.3,553.9 L2671.2,553.9 L2675.1,553.7 L2679.0,553.6 L2682.9,553.3 L2686.8,553.1 L2690.7,552.8 L2694.6,552.5 L2698.4,552.1 L2702.3,551.7 L2706.1,551.2 L2709.9,550.7 L2713.6,550.2 L2717.4,549.6 L2721.1,549.0 L2724.8,548.3 L2728.4,547.6 L2732.1,546.9 L2735.6,546.1 L2739.2,545.3 L2742.7,544.4 L2746.2,543.5 L2749.6,542.6 L2753.0,541.6 L2756.4,540.6 L2759.7,539.6 L2763.0,538.5 L2766.2,537.4 L2769.3,536.3 L2772.4,535.1 L2775.5,533.9 L2778.5,532.7 L2781.4,531.4 L2784.3,530.1 L2787.2,528.8 L2789.9,527.4 L2792.6,526.0 L2795.3,524.6 L2797.9,523.2 L2800.4,521.7 L2802.8,520.2 L2805.2,518.7 L2807.5,517.1 L2809.8,515.5 L2812.0,513.9 L2814.1,512.3 L2816.1,510.7 L2818.0,509.0 L2819.9,507.3 L2821.7,505.6 L2823.5,503.9 L2825.1,502.1 L2826.7,500.4 L2828.2,498.6 L2829.6,496.8 L2830.9,495.0 L2832.2,493.2 L2833.4,491.4 L2834.5,489.5 L2835.5,487.7 L2836.4,485.8 L2837.2,483.9 L2838.0,482.0 L2838.7,480.1 L2839.2,478.2 L2839.8,476.3 L2840.2,474.4 L2840.5,472.5 L2840.8,470.6 L2840.9,468.7 L2841.0,466.8 L2841.0,464.8 L2840.9,462.9 L2840.7,461.0 L2840.4,459.1 L2840.1,457.2 L2839.7,455.3 L2839.1,453.4 L2838.5,451.5 L2837.8,449.6 L2837.1,447.7 L2836.2,445.8 L2835.3,444.0 L2834.2,442.1 L2833.1,440.3 L2831.9,438.4 L2830.7,436.6 L2829.3,434.8 L2827.9,433.0 Z" stroke="#000" stroke-width="4.50" fill="#fff" stroke-linecap="round" stroke-linejoin="round" />
<path d="M2849.0,469.0 L2848.9,471.6 L2848.7,474.1 L2848.4,476.7 L2847.9,479.3 L2847.3,481.8 L2846.5,484.4 L2845.6,486.9 L2844.6,489.4 L2843.5,491.9 L2842.2,494.4 L2840.7,496.9 L2839.2,499.3 L2837.5,501.7 L2835.7,504.1 L2833.7,506.5 L2831.7,508.8 L2829.5,511.2 L2827.1,513.5 L2824.7,515.7 L2822.1,517.9 L2819.5,520.1 L2816.7,522.3 L2813.8,524.4 L2810.7,526.4 L2807.6,528.5 L2804.4,530.4 L2801.0,532.4 L2797.6,534.3 L2794.1,536.1 L2790.4,537.9 L2786.7,539.7 L2782.8,541.3 L2778.9,543.0 L2774.9,544.6 L2770.8,546.1 L2766.7,547.6 L2762.4,549.0 L2758.1,550.3 L2753.7,551.6 L2749.3,552.9 L2744.7,554.1 L2740.2,555.2 L2735.5,556.2 L2730.8,557.2 L2726.1,558.1 L2721.3,559.0 L2716.4,559.8 L2711.6,560.5 L2706.6,561.2 L2701.7,561.7 L2696.7,562.3 L2691.7,562.7 L2686.7,563.1 L2681.6,563.4 L2676.6,563.7 L2671.5,563.9 L2666.4,564.0 L2661.3,564.0 L2656.2,564.0 L2651.2,563.9 L2646.1,563.7 L2641.0,563.5 L2636.0,563.2 L2630.9,562.8 L2625.9,562.3 L2621.0,561.8 L2616.0,561.2 L2611.1,560.6 L2606.2,559.9 L2601.3,559.1 L2596.5,558.2 L2591.8,557.3 L2587.1,556.4 L2582.4,555.3 L2577.8,554.2 L2573.3,553.0 L2568.9,551.8 L2564.5,550.5 L2560.1,549.2 L2555.9,547.8" stroke="#000" stroke-width="3.25" fill="none" stroke-linecap="round" stroke-linejoin="round" />
<path d="M2472.5,435.1 C2471.9,441.0 2467.5,460.1 2468.8,470.2 C2470.0,480.2 2475.2,487.7 2480.0,495.2 C2484.8,502.7 2492.1,512.2 2497.5,515.2 C2503.0,518.2 2509.6,515.3 2512.6,513.2 C2515.5,511.1 2517.6,507.8 2515.1,502.7 C2512.6,497.6 2501.7,490.2 2497.5,482.7 C2493.4,475.2 2490.4,466.0 2490.0,457.6 C2489.7,449.3 2494.6,436.8 2495.5,432.6" stroke="#000" stroke-width="5.25" fill="#fff" stroke-linecap="round" stroke-linejoin="round" />
<path d="M2488.0,395.6 L2491.9,395.6 L2491.9,367.2 L2495.8,367.2 L2501.1,367.2 L2501.1,373.4 L2506.4,373.4 L2513.0,373.4 L2513.0,346.4 L2519.5,346.4 L2527.3,346.4 L2527.3,354.3 L2535.1,354.3 L2543.9,354.3 L2543.9,329.4 L2552.7,329.4 L2562.4,329.4 L2562.4,339.8 L2572.1,339.8 L2582.5,339.8 L2582.5,317.5 L2593.0,317.5 L2604.0,317.5 L2604.0,330.6 L2615.0,330.6 L2626.4,330.6 L2626.4,311.3 L2637.8,311.3 L2649.4,311.3 L2649.4,327.5 L2661.0,327.5 L2672.6,327.5 L2672.6,311.3 L2684.2,311.3 L2695.6,311.3 L2695.6,330.6 L2707.0,330.6 L2718.0,330.6 L2718.0,317.5 L2729.0,317.5 L2739.5,317.5 L2739.5,339.8 L2749.9,339.8 L2759.6,339.8 L2759.6,329.4 L2769.3,329.4 L2778.1,329.4 L2778.1,354.3 L2786.9,354.3 L2794.7,354.3 L2794.7,346.4 L2802.5,346.4 L2809.0,346.4 L2809.0,373.4 L2815.6,373.4 L2820.9,373.4 L2820.9,367.2 L2826.2,367.2 L2830.1,367.2 L2830.1,395.6 L2834.0,395.6" stroke="#000" stroke-width="6.25" fill="none" stroke-linecap="round" stroke-linejoin="round" />
<circle cx="2491.9" cy="381.4" r="4.6" fill="#fff" stroke="#000" stroke-width="4.25"/>
<circle cx="2501.1" cy="370.3" r="4.6" fill="#fff" stroke="#000" stroke-width="4.25"/>
<circle cx="2513.0" cy="359.9" r="4.6" fill="#fff" stroke="#000" stroke-width="4.25"/>
<circle cx="2527.3" cy="350.4" r="4.6" fill="#fff" stroke="#000" stroke-width="4.25"/>
<circle cx="2543.9" cy="341.9" r="4.6" fill="#fff" stroke="#000" stroke-width="4.25"/>
<circle cx="2562.4" cy="334.6" r="4.6" fill="#fff" stroke="#000" stroke-width="4.25"/>
<circle cx="2582.5" cy="328.6" r="4.6" fill="#fff" stroke="#000" stroke-width="4.25"/>
<circle cx="2604.0" cy="324.0" r="4.6" fill="#fff" stroke="#000" stroke-width="4.25"/>
<circle cx="2626.4" cy="321.0" r="4.6" fill="#fff" stroke="#000" stroke-width="4.25"/>
<circle cx="2649.4" cy="319.4" r="4.6" fill="#fff" stroke="#000" stroke-width="4.25"/>
<circle cx="2672.6" cy="319.4" r="4.6" fill="#fff" stroke="#000" stroke-width="4.25"/>
<circle cx="2695.6" cy="321.0" r="4.6" fill="#fff" stroke="#000" stroke-width="4.25"/>
<circle cx="2718.0" cy="324.0" r="4.6" fill="#fff" stroke="#000" stroke-width="4.25"/>
<circle cx="2739.5" cy="328.6" r="4.6" fill="#fff" stroke="#000" stroke-width="4.25"/>
<circle cx="2759.6" cy="334.6" r="4.6" fill="#fff" stroke="#000" stroke-width="4.25"/>
<circle cx="2778.1" cy="341.9" r="4.6" fill="#fff" stroke="#000" stroke-width="4.25"/>
<circle cx="2794.7" cy="350.4" r="4.6" fill="#fff" stroke="#000" stroke-width="4.25"/>
<circle cx="2809.0" cy="359.9" r="4.6" fill="#fff" stroke="#000" stroke-width="4.25"/>
<circle cx="2820.9" cy="370.3" r="4.6" fill="#fff" stroke="#000" stroke-width="4.25"/>
<circle cx="2830.1" cy="381.4" r="4.6" fill="#fff" stroke="#000" stroke-width="4.25"/>
<path d="M2499.0,429.0 L2501.1,426.7 L2503.3,424.4 L2505.6,422.1 L2508.1,419.9 L2510.7,417.7 L2513.5,415.6 L2516.3,413.4 L2519.3,411.4 L2522.5,409.3 L2525.7,407.4 L2529.0,405.4 L2532.5,403.6 L2536.1,401.7 L2539.7,399.9 L2543.5,398.2 L2547.4,396.5 L2551.4,394.9 L2555.4,393.4 L2559.6,391.9 L2563.9,390.5 L2568.2,389.1 L2572.6,387.8 L2577.1,386.5 L2581.6,385.3 L2586.3,384.2 L2591.0,383.2 L2595.7,382.2 L2600.5,381.3 L2605.4,380.5 L2610.3,379.7 L2615.2,379.0 L2620.2,378.4 L2625.2,377.8 L2630.3,377.3 L2635.4,376.9 L2640.5,376.6 L2645.6,376.3 L2650.7,376.1 L2655.9,376.0 L2661.0,376.0 L2666.1,376.0 L2671.3,376.1 L2676.4,376.3 L2681.5,376.6 L2686.6,376.9 L2691.7,377.3 L2696.8,377.8 L2701.8,378.4 L2706.8,379.0 L2711.7,379.7 L2716.6,380.5 L2721.5,381.3 L2726.3,382.2 L2731.0,383.2 L2735.7,384.2 L2740.4,385.3 L2744.9,386.5 L2749.4,387.8 L2753.8,389.1 L2758.1,390.5 L2762.4,391.9 L2766.6,393.4 L2770.6,394.9 L2774.6,396.5 L2778.5,398.2 L2782.3,399.9 L2785.9,401.7 L2789.5,403.6 L2793.0,405.4 L2796.3,407.4 L2799.5,409.3 L2802.7,411.4 L2805.7,413.4 L2808.5,415.6 L2811.3,417.7 L2813.9,419.9 L2816.4,422.1 L2818.7,424.4 L2820.9,426.7 L2823.0,429.0" stroke="#000" stroke-width="4.25" fill="none" stroke-linecap="round" stroke-linejoin="round" />
<path d="M2495.5,447.7 L2497.3,445.2 L2499.2,442.7 L2501.3,440.2 L2503.6,437.8 L2506.0,435.4 L2508.5,433.1 L2511.2,430.7 L2514.1,428.5 L2517.1,426.2 L2520.2,424.0 L2523.5,421.9 L2526.9,419.8 L2530.5,417.8 L2534.2,415.8 L2538.0,413.9 L2541.9,412.0 L2545.9,410.2 L2550.1,408.5 L2554.4,406.8 L2558.7,405.2 L2563.2,403.7 L2567.8,402.2 L2572.4,400.8 L2577.2,399.5 L2582.0,398.3 L2586.9,397.1 L2591.9,396.0 L2596.9,395.0 L2602.1,394.0 L2607.2,393.2 L2612.5,392.4 L2617.7,391.7 L2623.0,391.0 L2628.4,390.5 L2633.8,390.0 L2639.2,389.7 L2644.6,389.4 L2650.1,389.2 L2655.5,389.0 L2661.0,389.0 L2666.5,389.0 L2671.9,389.2 L2677.4,389.4 L2682.8,389.7 L2688.2,390.0 L2693.6,390.5 L2699.0,391.0 L2704.3,391.7 L2709.5,392.4 L2714.8,393.2 L2719.9,394.0 L2725.1,395.0 L2730.1,396.0 L2735.1,397.1 L2740.0,398.3 L2744.8,399.5 L2749.6,400.8 L2754.2,402.2 L2758.8,403.7 L2763.3,405.2 L2767.6,406.8 L2771.9,408.5 L2776.1,410.2 L2780.1,412.0 L2784.0,413.9 L2787.8,415.8 L2791.5,417.8 L2795.1,419.8 L2798.5,421.9 L2801.8,424.0 L2804.9,426.2 L2807.9,428.5 L2810.8,430.7 L2813.5,433.1 L2816.0,435.4 L2818.4,437.8 L2820.7,440.2 L2822.8,442.7 L2824.7,445.2 L2826.5,447.7" stroke="#000" stroke-width="4.25" fill="none" stroke-linecap="round" stroke-linejoin="round" />
<path d="M2775.6,456.7 L2768.0,459.4 L2760.2,462.0 L2752.1,464.3 L2743.9,466.4 L2735.4,468.4 L2726.8,470.1 L2718.1,471.6 L2709.2,472.9 L2700.2,473.9 L2691.1,474.8 L2681.9,475.4 L2672.7,475.8 L2663.5,476.0 L2654.3,475.9 L2645.1,475.7 L2635.9,475.2 L2626.8,474.4 L2617.7,473.5 L2608.8,472.3 L2599.9,470.9 L2591.2,469.3 L2582.7,467.5 L2574.3,465.5 L2566.2,463.3 L2558.2,460.8 L2550.5,458.2 L2543.0,455.4 L2535.8,452.4 L2528.9,449.3 L2522.2,445.9 L2515.9,442.5 L2509.9,438.8 L2504.2,435.1 L2498.9,431.1 L2494.0,427.1 L2489.4,423.0 L2485.2,418.7 L2481.4,414.3 L2478.0,409.9 L2475.0,405.4 L2472.5,400.8 L2470.3,396.1 L2468.6,391.4 L2467.3,386.7 L2466.5,381.9 L2466.0,377.2 L2466.1,372.4 L2466.5,367.6 L2467.4,362.8 L2468.7,358.1 L2470.5,353.4 L2472.7,348.8 L2475.3,344.2 L2478.3,339.7 L2481.8,335.2 L2485.6,330.9 L2489.8,326.6 L2494.4,322.5 L2499.4,318.5 L2504.8,314.6 L2510.5,310.8 L2516.5,307.2 L2522.8,303.7 L2529.5,300.4 L2536.5,297.3 L2543.7,294.3 L2551.2,291.5 L2559.0,288.9 L2566.9,286.5 L2575.1,284.3 L2583.5,282.3 L2592.1,280.5 L2600.8,278.9 L2609.6,277.6 L2618.6,276.4 L2627.6,275.5 L2636.8,274.8 L2646.0,274.3 L2655.2,274.0 L2664.4,274.0 L2673.6,274.2 L2682.8,274.6 L2692.0,275.3 L2701.0,276.2 L2710.0,277.2 L2718.9,278.6 L2727.7,280.1 L2736.3,281.8 L2744.7,283.8 L2752.9,285.9 L2761.0,288.3 L2768.8,290.8 L2776.3,293.6 L2783.7,296.5 L2790.7,299.6 L2797.4,302.8 L2803.9,306.3 L2810.0,309.8 L2815.8,313.6 L2821.2,317.4 L2826.3,321.4 L2831.0,325.5 L2835.3,329.8 L2839.3,334.1 L2842.8,338.5 L2846.0,343.0 L2848.7,347.6 L2851.0,352.2 L2852.8,356.9 L2854.3,361.6 L2855.3,366.4 L2855.9,371.1 L2856.0,375.9 L2855.7,380.7 L2855.0,385.4 L2853.8,390.2 L2852.2,394.9 L2850.1,399.6 L2847.7,404.2 L2844.8,408.7 L2828.8,404.0 L2831.4,400.1 L2833.7,396.2 L2835.5,392.1 L2837.0,388.1 L2838.0,384.0 L2838.7,379.9 L2839.0,375.8 L2838.9,371.7 L2838.3,367.5 L2837.4,363.5 L2836.1,359.4 L2834.4,355.4 L2832.3,351.4 L2829.8,347.4 L2827.0,343.6 L2823.7,339.8 L2820.1,336.0 L2816.2,332.4 L2811.9,328.8 L2807.3,325.4 L2802.3,322.1 L2797.0,318.9 L2791.4,315.8 L2785.5,312.8 L2779.4,310.0 L2773.0,307.4 L2766.3,304.9 L2759.4,302.5 L2752.2,300.3 L2744.9,298.3 L2737.4,296.4 L2729.7,294.7 L2721.8,293.2 L2713.9,291.9 L2705.8,290.8 L2697.6,289.9 L2689.3,289.1 L2680.9,288.5 L2672.5,288.2 L2664.1,288.0 L2655.7,288.0 L2647.3,288.3 L2638.9,288.7 L2630.5,289.3 L2622.3,290.1 L2614.1,291.1 L2606.0,292.3 L2598.1,293.6 L2590.3,295.2 L2582.6,296.9 L2575.1,298.8 L2567.9,300.9 L2560.8,303.1 L2553.9,305.5 L2547.3,308.1 L2541.0,310.8 L2534.9,313.6 L2529.1,316.6 L2523.6,319.7 L2518.4,322.9 L2513.5,326.3 L2508.9,329.8 L2504.7,333.3 L2500.9,337.0 L2497.4,340.7 L2494.2,344.6 L2491.5,348.5 L2489.1,352.4 L2487.1,356.4 L2485.5,360.5 L2484.3,364.5 L2483.5,368.6 L2483.1,372.7 L2483.0,376.9 L2483.4,381.0 L2484.2,385.1 L2485.4,389.2 L2486.9,393.2 L2488.9,397.2 L2491.2,401.2 L2494.0,405.1 L2497.1,408.9 L2500.5,412.6 L2504.3,416.3 L2508.5,419.9 L2513.0,423.4 L2517.9,426.7 L2523.1,430.0 L2528.5,433.1 L2534.3,436.1 L2540.4,439.0 L2546.7,441.7 L2553.3,444.3 L2560.1,446.7 L2567.2,448.9 L2574.4,451.0 L2581.9,452.9 L2589.5,454.7 L2597.3,456.2 L2605.3,457.6 L2613.3,458.8 L2621.5,459.8 L2629.7,460.6 L2638.1,461.3 L2646.5,461.7 L2654.9,461.9 L2663.3,462.0 L2671.7,461.8 L2680.1,461.5 L2688.5,461.0 L2696.8,460.2 L2705.0,459.3 L2713.1,458.2 L2721.1,456.9 L2728.9,455.4 L2736.6,453.8 L2744.2,451.9 L2751.5,449.9 L2758.7,447.7 L2765.6,445.4 Z" stroke="#000" stroke-width="4.00" fill="#fff" stroke-linecap="round" stroke-linejoin="round" />
<path d="M2775.6,451.7 L2768.0,454.4 L2760.2,457.0 L2752.1,459.3 L2743.9,461.4 L2735.4,463.4 L2726.8,465.1 L2718.1,466.6 L2709.2,467.9 L2700.2,468.9 L2691.1,469.8 L2681.9,470.4 L2672.7,470.8 L2663.5,471.0 L2654.3,470.9 L2645.1,470.7 L2635.9,470.2 L2626.8,469.4 L2617.7,468.5 L2608.8,467.3 L2599.9,465.9 L2591.2,464.3 L2582.7,462.5 L2574.3,460.5 L2566.2,458.3 L2558.2,455.8 L2550.5,453.2 L2543.0,450.4 L2535.8,447.4 L2528.9,444.3 L2522.2,440.9 L2515.9,437.5 L2509.9,433.8 L2504.2,430.1 L2498.9,426.1 L2494.0,422.1 L2489.4,418.0 L2485.2,413.7 L2481.4,409.3 L2478.0,404.9 L2475.0,400.4 L2472.5,395.8 L2470.3,391.1 L2468.6,386.4 L2467.3,381.7 L2466.5,376.9 L2466.0,372.2 L2466.1,367.4 L2466.5,362.6 L2467.4,357.8 L2468.7,353.1 L2470.5,348.4 L2472.7,343.8 L2475.3,339.2 L2478.3,334.7 L2481.8,330.2 L2485.6,325.9 L2489.8,321.6 L2494.4,317.5 L2499.4,313.5 L2504.8,309.6 L2510.5,305.8 L2516.5,302.2 L2522.8,298.7 L2529.5,295.4 L2536.5,292.3 L2543.7,289.3 L2551.2,286.5 L2559.0,283.9 L2566.9,281.5 L2575.1,279.3 L2583.5,277.3 L2592.1,275.5 L2600.8,273.9 L2609.6,272.6 L2618.6,271.4 L2627.6,270.5 L2636.8,269.8 L2646.0,269.3 L2655.2,269.0 L2664.4,269.0 L2673.6,269.2 L2682.8,269.6 L2692.0,270.3 L2701.0,271.2 L2710.0,272.2 L2718.9,273.6 L2727.7,275.1 L2736.3,276.8 L2744.7,278.8 L2752.9,280.9 L2761.0,283.3 L2768.8,285.8 L2776.3,288.6 L2783.7,291.5 L2790.7,294.6 L2797.4,297.8 L2803.9,301.3 L2810.0,304.8 L2815.8,308.6 L2821.2,312.4 L2826.3,316.4 L2831.0,320.5 L2835.3,324.8 L2839.3,329.1 L2842.8,333.5 L2846.0,338.0 L2848.7,342.6 L2851.0,347.2 L2852.8,351.9 L2854.3,356.6 L2855.3,361.4 L2855.9,366.1 L2856.0,370.9 L2855.7,375.7 L2855.0,380.4 L2853.8,385.2 L2852.2,389.9 L2850.1,394.6 L2847.7,399.2 L2844.8,403.7 L2828.8,399.0 L2831.4,395.1 L2833.7,391.2 L2835.5,387.1 L2837.0,383.1 L2838.0,379.0 L2838.7,374.9 L2839.0,370.8 L2838.9,366.7 L2838.3,362.5 L2837.4,358.5 L2836.1,354.4 L2834.4,350.4 L2832.3,346.4 L2829.8,342.4 L2827.0,338.6 L2823.7,334.8 L2820.1,331.0 L2816.2,327.4 L2811.9,323.8 L2807.3,320.4 L2802.3,317.1 L2797.0,313.9 L2791.4,310.8 L2785.5,307.8 L2779.4,305.0 L2773.0,302.4 L2766.3,299.9 L2759.4,297.5 L2752.2,295.3 L2744.9,293.3 L2737.4,291.4 L2729.7,289.7 L2721.8,288.2 L2713.9,286.9 L2705.8,285.8 L2697.6,284.9 L2689.3,284.1 L2680.9,283.5 L2672.5,283.2 L2664.1,283.0 L2655.7,283.0 L2647.3,283.3 L2638.9,283.7 L2630.5,284.3 L2622.3,285.1 L2614.1,286.1 L2606.0,287.3 L2598.1,288.6 L2590.3,290.2 L2582.6,291.9 L2575.1,293.8 L2567.9,295.9 L2560.8,298.1 L2553.9,300.5 L2547.3,303.1 L2541.0,305.8 L2534.9,308.6 L2529.1,311.6 L2523.6,314.7 L2518.4,317.9 L2513.5,321.3 L2508.9,324.8 L2504.7,328.3 L2500.9,332.0 L2497.4,335.7 L2494.2,339.6 L2491.5,343.5 L2489.1,347.4 L2487.1,351.4 L2485.5,355.5 L2484.3,359.5 L2483.5,363.6 L2483.1,367.7 L2483.0,371.9 L2483.4,376.0 L2484.2,380.1 L2485.4,384.2 L2486.9,388.2 L2488.9,392.2 L2491.2,396.2 L2494.0,400.1 L2497.1,403.9 L2500.5,407.6 L2504.3,411.3 L2508.5,414.9 L2513.0,418.4 L2517.9,421.7 L2523.1,425.0 L2528.5,428.1 L2534.3,431.1 L2540.4,434.0 L2546.7,436.7 L2553.3,439.3 L2560.1,441.7 L2567.2,443.9 L2574.4,446.0 L2581.9,447.9 L2589.5,449.7 L2597.3,451.2 L2605.3,452.6 L2613.3,453.8 L2621.5,454.8 L2629.7,455.6 L2638.1,456.3 L2646.5,456.7 L2654.9,456.9 L2663.3,457.0 L2671.7,456.8 L2680.1,456.5 L2688.5,456.0 L2696.8,455.2 L2705.0,454.3 L2713.1,453.2 L2721.1,451.9 L2728.9,450.4 L2736.6,448.8 L2744.2,446.9 L2751.5,444.9 L2758.7,442.7 L2765.6,440.4 Z" stroke="#000" stroke-width="4.75" fill="#fff" stroke-linecap="round" stroke-linejoin="round" />
<path d="M2847.0,431.7 L2845.1,431.7 L2845.1,426.5 L2843.2,426.5 L2840.0,426.5 L2840.0,455.0 L2836.7,455.0 L2832.2,455.0 L2832.2,449.0 L2827.6,449.0 L2821.8,449.0 L2821.8,476.3 L2816.0,476.3 L2809.1,476.3 L2809.1,468.8 L2802.1,468.8 L2794.1,468.8 L2794.1,494.3 L2786.1,494.3 L2777.2,494.3 L2777.2,484.8 L2768.3,484.8 L2758.5,484.8 L2758.5,508.0 L2748.8,508.0 L2738.4,508.0 L2738.4,496.0 L2728.0,496.0 L2717.1,496.0 L2717.1,516.6 L2706.2,516.6 L2695.0,516.6 L2695.0,501.8 L2683.8,501.8 L2672.4,501.8 L2672.4,519.5 L2661.0,519.5 L2649.6,519.5 L2649.6,501.8 L2638.2,501.8 L2627.0,501.8 L2627.0,516.6 L2615.8,516.6 L2604.9,516.6 L2604.9,496.0 L2594.0,496.0 L2583.6,496.0 L2583.6,508.0 L2573.2,508.0 L2563.5,508.0 L2563.5,484.8 L2553.7,484.8 L2544.8,484.8 L2544.8,494.3 L2535.9,494.3 L2527.9,494.3 L2527.9,468.8 L2519.9,468.8 L2512.9,468.8 L2512.9,476.3 L2506.0,476.3 L2500.2,476.3 L2500.2,449.0 L2494.4,449.0 L2489.8,449.0 L2489.8,455.0 L2485.3,455.0 L2482.0,455.0 L2482.0,426.5 L2478.8,426.5 L2476.9,426.5 L2476.9,431.7 L2475.0,431.7" stroke="#000" stroke-width="6.25" fill="none" stroke-linecap="round" stroke-linejoin="round" />
<circle cx="2845.1" cy="429.1" r="4.6" fill="#fff" stroke="#000" stroke-width="4.25"/>
<circle cx="2840.0" cy="440.8" r="4.6" fill="#fff" stroke="#000" stroke-width="4.25"/>
<circle cx="2832.2" cy="452.0" r="4.6" fill="#fff" stroke="#000" stroke-width="4.25"/>
<circle cx="2821.8" cy="462.6" r="4.6" fill="#fff" stroke="#000" stroke-width="4.25"/>
<circle cx="2809.1" cy="472.5" r="4.6" fill="#fff" stroke="#000" stroke-width="4.25"/>
<circle cx="2794.1" cy="481.6" r="4.6" fill="#fff" stroke="#000" stroke-width="4.25"/>
<circle cx="2777.2" cy="489.6" r="4.6" fill="#fff" stroke="#000" stroke-width="4.25"/>
<circle cx="2758.5" cy="496.4" r="4.6" fill="#fff" stroke="#000" stroke-width="4.25"/>
<circle cx="2738.4" cy="502.0" r="4.6" fill="#fff" stroke="#000" stroke-width="4.25"/>
<circle cx="2717.1" cy="506.3" r="4.6" fill="#fff" stroke="#000" stroke-width="4.25"/>
<circle cx="2695.0" cy="509.2" r="4.6" fill="#fff" stroke="#000" stroke-width="4.25"/>
<circle cx="2672.4" cy="510.6" r="4.6" fill="#fff" stroke="#000" stroke-width="4.25"/>
<circle cx="2649.6" cy="510.6" r="4.6" fill="#fff" stroke="#000" stroke-width="4.25"/>
<circle cx="2627.0" cy="509.2" r="4.6" fill="#fff" stroke="#000" stroke-width="4.25"/>
<circle cx="2604.9" cy="506.3" r="4.6" fill="#fff" stroke="#000" stroke-width="4.25"/>
<circle cx="2583.6" cy="502.0" r="4.6" fill="#fff" stroke="#000" stroke-width="4.25"/>
<circle cx="2563.5" cy="496.4" r="4.6" fill="#fff" stroke="#000" stroke-width="4.25"/>
<circle cx="2544.8" cy="489.6" r="4.6" fill="#fff" stroke="#000" stroke-width="4.25"/>
<circle cx="2527.9" cy="481.6" r="4.6" fill="#fff" stroke="#000" stroke-width="4.25"/>
<circle cx="2512.9" cy="472.5" r="4.6" fill="#fff" stroke="#000" stroke-width="4.25"/>
<circle cx="2500.2" cy="462.6" r="4.6" fill="#fff" stroke="#000" stroke-width="4.25"/>
<circle cx="2489.8" cy="452.0" r="4.6" fill="#fff" stroke="#000" stroke-width="4.25"/>
<circle cx="2482.0" cy="440.8" r="4.6" fill="#fff" stroke="#000" stroke-width="4.25"/>
<circle cx="2476.9" cy="429.1" r="4.6" fill="#fff" stroke="#000" stroke-width="4.25"/>
<path d="M2484.8,237.5 L2481.6,232.9 L2478.7,228.2 L2476.3,223.4 L2474.3,218.6 L2472.8,213.8 L2471.8,208.9 L2471.2,204.0 L2471.0,199.1 L2471.3,194.2 L2472.1,189.3 L2473.3,184.4 L2475.0,179.6 L2477.1,174.8 L2479.7,170.0 L2482.7,165.4 L2486.2,160.8 L2490.1,156.3 L2494.3,152.0 L2499.0,147.7 L2504.1,143.6 L2509.6,139.6 L2515.4,135.8 L2521.6,132.1 L2528.1,128.6 L2534.9,125.2 L2542.0,122.0 L2549.5,119.0 L2557.1,116.3 L2565.1,113.7 L2573.3,111.3 L2581.7,109.1 L2590.2,107.2 L2599.0,105.5 L2607.9,104.0 L2616.9,102.7 L2626.0,101.7 L2635.3,100.9 L2644.6,100.4 L2653.9,100.1 L2663.2,100.0 L2672.5,100.2 L2681.8,100.6 L2691.1,101.3 L2700.3,102.2 L2709.4,103.3 L2718.3,104.7 L2727.2,106.3 L2735.8,108.1 L2744.3,110.1 L2752.6,112.4 L2760.7,114.9 L2768.5,117.6 L2776.1,120.4 L2783.4,123.5 L2790.4,126.8 L2797.1,130.2 L2803.4,133.8 L2809.4,137.6 L2815.1,141.5 L2820.3,145.5 L2825.2,149.7 L2829.7,154.0 L2833.8,158.5 L2837.5,163.0 L2840.7,167.6 L2843.5,172.3 L2845.9,177.0 L2847.8,181.8 L2849.3,186.7 L2850.3,191.6 L2850.9,196.5 L2851.0,201.4 L2850.6,206.3 L2849.8,211.2 L2848.5,216.1 L2846.8,220.9 L2844.6,225.7 L2842.0,230.4 L2838.9,235.0 L2835.5,239.6 L2831.6,244.1 L2827.2,248.4 L2822.5,252.7 L2817.4,256.8 L2811.9,260.8 L2806.0,264.6 L2799.8,268.3 L2793.3,271.8 L2786.4,275.1 L2779.3,278.3 L2771.8,281.2 L2764.1,284.0 L2756.1,286.6 L2747.9,288.9 L2739.5,291.1 L2730.9,293.0 L2722.2,294.7 L2713.3,296.1 L2704.2,297.4 L2695.1,298.4 L2685.9,299.1 L2676.6,299.7 L2667.2,299.9 L2657.9,300.0 L2648.6,299.8 L2639.3,299.3 L2630.0,298.7 L2620.8,297.7 L2611.8,296.6 L2602.8,295.2 L2594.0,293.6 L2585.3,291.7 L2576.9,289.7 L2568.6,287.4 L2560.5,284.9 L2552.7,282.2 L2545.2,279.3 L2537.9,276.2 L2531.0,272.9 L2524.3,269.5 L2536.6,259.7 L2542.6,262.7 L2549.0,265.5 L2555.6,268.2 L2562.4,270.7 L2569.5,273.0 L2576.9,275.1 L2584.4,277.1 L2592.1,278.9 L2600.0,280.5 L2608.0,281.9 L2616.2,283.1 L2624.4,284.1 L2632.8,284.8 L2641.2,285.4 L2649.7,285.8 L2658.2,286.0 L2666.7,286.0 L2675.2,285.7 L2683.6,285.3 L2692.0,284.6 L2700.4,283.7 L2708.6,282.7 L2716.7,281.4 L2724.7,280.0 L2732.5,278.3 L2740.2,276.5 L2747.6,274.4 L2754.9,272.2 L2761.9,269.9 L2768.7,267.3 L2775.2,264.6 L2781.5,261.7 L2787.4,258.7 L2793.1,255.5 L2798.4,252.3 L2803.4,248.8 L2808.1,245.3 L2812.4,241.6 L2816.3,237.9 L2819.9,234.1 L2823.0,230.1 L2825.8,226.1 L2828.2,222.1 L2830.2,218.0 L2831.8,213.8 L2832.9,209.6 L2833.7,205.4 L2834.0,201.2 L2833.9,197.0 L2833.4,192.8 L2832.5,188.6 L2831.1,184.4 L2829.4,180.2 L2827.2,176.2 L2824.7,172.1 L2821.7,168.2 L2818.4,164.3 L2814.6,160.5 L2810.5,156.8 L2806.1,153.2 L2801.3,149.7 L2796.1,146.3 L2790.7,143.1 L2784.9,140.0 L2778.8,137.0 L2772.4,134.2 L2765.8,131.6 L2758.9,129.1 L2751.8,126.8 L2744.4,124.7 L2736.9,122.7 L2729.2,121.0 L2721.3,119.4 L2713.2,118.0 L2705.0,116.8 L2696.8,115.9 L2688.4,115.1 L2680.0,114.5 L2671.5,114.2 L2663.0,114.0 L2654.5,114.1 L2646.0,114.3 L2637.6,114.8 L2629.2,115.5 L2620.9,116.3 L2612.6,117.4 L2604.5,118.7 L2596.6,120.2 L2588.8,121.9 L2581.1,123.7 L2573.7,125.8 L2566.4,128.0 L2559.4,130.4 L2552.7,132.9 L2546.2,135.7 L2540.0,138.6 L2534.0,141.6 L2528.4,144.8 L2523.1,148.1 L2518.1,151.5 L2513.5,155.0 L2509.3,158.7 L2505.4,162.5 L2501.8,166.3 L2498.7,170.2 L2495.9,174.2 L2493.6,178.3 L2491.7,182.4 L2490.1,186.6 L2489.0,190.8 L2488.3,195.0 L2488.0,199.2 L2488.1,203.4 L2488.7,207.6 L2489.6,211.8 L2491.0,216.0 L2492.8,220.1 L2495.0,224.2 L2497.6,228.3 L2500.6,232.2 Z" stroke="#000" stroke-width="4.25" fill="#fff" stroke-linecap="round" stroke-linejoin="round" />
<path d="M2484.8,229.5 L2481.6,224.9 L2478.7,220.2 L2476.3,215.4 L2474.3,210.6 L2472.8,205.8 L2471.8,200.9 L2471.2,196.0 L2471.0,191.1 L2471.3,186.2 L2472.1,181.3 L2473.3,176.4 L2475.0,171.6 L2477.1,166.8 L2479.7,162.0 L2482.7,157.4 L2486.2,152.8 L2490.1,148.3 L2494.3,144.0 L2499.0,139.7 L2504.1,135.6 L2509.6,131.6 L2515.4,127.8 L2521.6,124.1 L2528.1,120.6 L2534.9,117.2 L2542.0,114.0 L2549.5,111.0 L2557.1,108.3 L2565.1,105.7 L2573.3,103.3 L2581.7,101.1 L2590.2,99.2 L2599.0,97.5 L2607.9,96.0 L2616.9,94.7 L2626.0,93.7 L2635.3,92.9 L2644.6,92.4 L2653.9,92.1 L2663.2,92.0 L2672.5,92.2 L2681.8,92.6 L2691.1,93.3 L2700.3,94.2 L2709.4,95.3 L2718.3,96.7 L2727.2,98.3 L2735.8,100.1 L2744.3,102.1 L2752.6,104.4 L2760.7,106.9 L2768.5,109.6 L2776.1,112.4 L2783.4,115.5 L2790.4,118.8 L2797.1,122.2 L2803.4,125.8 L2809.4,129.6 L2815.1,133.5 L2820.3,137.5 L2825.2,141.7 L2829.7,146.0 L2833.8,150.5 L2837.5,155.0 L2840.7,159.6 L2843.5,164.3 L2845.9,169.0 L2847.8,173.8 L2849.3,178.7 L2850.3,183.6 L2850.9,188.5 L2851.0,193.4 L2850.6,198.3 L2849.8,203.2 L2848.5,208.1 L2846.8,212.9 L2844.6,217.7 L2842.0,222.4 L2838.9,227.0 L2835.5,231.6 L2831.6,236.1 L2827.2,240.4 L2822.5,244.7 L2817.4,248.8 L2811.9,252.8 L2806.0,256.6 L2799.8,260.3 L2793.3,263.8 L2786.4,267.1 L2779.3,270.3 L2771.8,273.2 L2764.1,276.0 L2756.1,278.6 L2747.9,280.9 L2739.5,283.1 L2730.9,285.0 L2722.2,286.7 L2713.3,288.1 L2704.2,289.4 L2695.1,290.4 L2685.9,291.1 L2676.6,291.7 L2667.2,291.9 L2657.9,292.0 L2648.6,291.8 L2639.3,291.3 L2630.0,290.7 L2620.8,289.7 L2611.8,288.6 L2602.8,287.2 L2594.0,285.6 L2585.3,283.7 L2576.9,281.7 L2568.6,279.4 L2560.5,276.9 L2552.7,274.2 L2545.2,271.3 L2537.9,268.2 L2531.0,264.9 L2524.3,261.5 L2536.6,251.7 L2542.6,254.7 L2549.0,257.5 L2555.6,260.2 L2562.4,262.7 L2569.5,265.0 L2576.9,267.1 L2584.4,269.1 L2592.1,270.9 L2600.0,272.5 L2608.0,273.9 L2616.2,275.1 L2624.4,276.1 L2632.8,276.8 L2641.2,277.4 L2649.7,277.8 L2658.2,278.0 L2666.7,278.0 L2675.2,277.7 L2683.6,277.3 L2692.0,276.6 L2700.4,275.7 L2708.6,274.7 L2716.7,273.4 L2724.7,272.0 L2732.5,270.3 L2740.2,268.5 L2747.6,266.4 L2754.9,264.2 L2761.9,261.9 L2768.7,259.3 L2775.2,256.6 L2781.5,253.7 L2787.4,250.7 L2793.1,247.5 L2798.4,244.3 L2803.4,240.8 L2808.1,237.3 L2812.4,233.6 L2816.3,229.9 L2819.9,226.1 L2823.0,222.1 L2825.8,218.1 L2828.2,214.1 L2830.2,210.0 L2831.8,205.8 L2832.9,201.6 L2833.7,197.4 L2834.0,193.2 L2833.9,189.0 L2833.4,184.8 L2832.5,180.6 L2831.1,176.4 L2829.4,172.2 L2827.2,168.2 L2824.7,164.1 L2821.7,160.2 L2818.4,156.3 L2814.6,152.5 L2810.5,148.8 L2806.1,145.2 L2801.3,141.7 L2796.1,138.3 L2790.7,135.1 L2784.9,132.0 L2778.8,129.0 L2772.4,126.2 L2765.8,123.6 L2758.9,121.1 L2751.8,118.8 L2744.4,116.7 L2736.9,114.7 L2729.2,113.0 L2721.3,111.4 L2713.2,110.0 L2705.0,108.8 L2696.8,107.9 L2688.4,107.1 L2680.0,106.5 L2671.5,106.2 L2663.0,106.0 L2654.5,106.1 L2646.0,106.3 L2637.6,106.8 L2629.2,107.5 L2620.9,108.3 L2612.6,109.4 L2604.5,110.7 L2596.6,112.2 L2588.8,113.9 L2581.1,115.7 L2573.7,117.8 L2566.4,120.0 L2559.4,122.4 L2552.7,124.9 L2546.2,127.7 L2540.0,130.6 L2534.0,133.6 L2528.4,136.8 L2523.1,140.1 L2518.1,143.5 L2513.5,147.0 L2509.3,150.7 L2505.4,154.5 L2501.8,158.3 L2498.7,162.2 L2495.9,166.2 L2493.6,170.3 L2491.7,174.4 L2490.1,178.6 L2489.0,182.8 L2488.3,187.0 L2488.0,191.2 L2488.1,195.4 L2488.7,199.6 L2489.6,203.8 L2491.0,208.0 L2492.8,212.1 L2495.0,216.2 L2497.6,220.3 L2500.6,224.2 Z" stroke="#000" stroke-width="4.75" fill="#fff" stroke-linecap="round" stroke-linejoin="round" />
<path d="M2477.5,170.1 C2476.7,173.9 2472.1,184.3 2472.5,192.6 C2472.9,201.0 2477.1,213.8 2480.0,220.1 C2482.9,226.5 2486.7,229.7 2490.0,230.7 C2493.4,231.6 2499.8,230.7 2500.0,225.6 C2500.3,220.6 2492.5,207.7 2491.3,200.1 C2490.1,192.5 2492.7,183.4 2493.0,180.1" stroke="#000" stroke-width="5.25" fill="#fff" stroke-linecap="round" stroke-linejoin="round" />
<path d="M2595.1,270.7 C2599.3,269.9 2643.1,277.6 2665.2,277.7 C2687.3,277.8 2723.5,270.8 2727.7,271.4 C2731.9,272.1 2704.8,279.6 2690.2,281.4 C2675.6,283.2 2656.0,284.0 2640.2,282.2 C2624.3,280.4 2590.9,271.4 2595.1,270.7 Z" fill="#000"/>
<path d="M2846.8,160.8 L2844.7,165.6 L2842.1,170.3 L2839.1,174.9 L2835.6,179.4 L2831.7,183.9 L2827.5,188.2 L2822.8,192.4 L2817.7,196.5 L2812.3,200.5 L2806.5,204.3 L2800.3,208.0 L2793.8,211.5 L2787.0,214.8 L2779.9,218.0 L2772.5,221.0 L2764.9,223.7 L2756.9,226.3 L2748.8,228.7 L2740.5,230.8 L2731.9,232.8 L2723.2,234.5 L2714.4,236.0 L2705.4,237.2 L2696.3,238.3 L2687.1,239.1 L2677.9,239.6 L2668.6,239.9 L2659.3,240.0 L2650.0,239.8 L2640.7,239.4 L2631.5,238.8 L2622.4,237.9 L2613.3,236.8 L2604.4,235.5 L2595.6,233.9 L2586.9,232.1 L2578.4,230.1 L2570.2,227.8 L2562.1,225.4 L2554.3,222.7 L2546.7,219.9 L2539.4,216.9 L2532.4,213.6 L2525.8,210.2 L2519.4,206.7 L2513.4,202.9 L2507.7,199.1 L2502.4,195.0 L2497.5,190.9 L2492.9,186.6 L2488.8,182.2 L2485.1,177.8 L2481.8,173.2 L2478.9,168.5 L2476.5,163.8 L2474.5,159.0 L2472.9,154.2 L2471.8,149.3 L2471.2,144.5 L2471.0,139.6 L2471.3,134.7 L2472.0,129.8 L2473.2,124.9 L2474.8,120.1 L2476.9,115.3 L2479.4,110.6 L2482.3,106.0 L2485.7,101.4 L2489.5,97.0 L2493.7,92.6 L2498.3,88.4 L2503.3,84.2 L2508.7,80.2 L2514.4,76.4 L2520.5,72.7 L2526.9,69.1 L2533.7,65.8 L2540.7,62.6 L2548.1,59.6 L2555.7,56.8 L2563.5,54.2 L2571.6,51.8 L2579.9,49.6 L2588.4,47.6 L2597.1,45.8 L2606.0,44.3 L2614.9,43.0 L2624.0,41.9 L2633.1,41.1 L2642.4,40.5 L2651.6,40.1 L2660.9,40.0 L2670.2,40.1 L2679.5,40.5 L2688.7,41.1 L2697.9,41.9 L2707.0,43.0 L2715.9,44.3 L2724.8,45.8 L2733.5,47.6 L2742.0,49.5 L2750.3,51.7 L2758.4,54.1 L2766.2,56.7 L2773.8,59.5 L2781.2,62.6 L2788.2,65.7 L2795.0,69.1 L2801.4,72.6 L2807.5,76.3 L2813.3,80.2 L2818.6,84.2 L2823.6,88.3 L2828.3,92.6 L2832.5,96.9 L2836.3,101.4 L2839.6,105.9 L2842.6,110.6 L2845.1,115.3 L2847.2,120.1 L2830.5,122.9 L2828.6,118.8 L2826.3,114.7 L2823.7,110.7 L2820.6,106.8 L2817.1,102.9 L2813.3,99.2 L2809.1,95.5 L2804.5,92.0 L2799.6,88.6 L2794.4,85.2 L2788.9,82.1 L2783.0,79.0 L2776.9,76.1 L2770.4,73.4 L2763.8,70.8 L2756.8,68.4 L2749.7,66.2 L2742.3,64.1 L2734.7,62.2 L2727.0,60.5 L2719.1,59.0 L2711.0,57.7 L2702.9,56.6 L2694.6,55.6 L2686.3,54.9 L2677.9,54.4 L2669.4,54.1 L2660.9,54.0 L2652.5,54.1 L2644.0,54.4 L2635.6,54.9 L2627.3,55.6 L2619.0,56.6 L2610.9,57.7 L2602.8,59.0 L2594.9,60.5 L2587.2,62.2 L2579.6,64.1 L2572.3,66.2 L2565.1,68.4 L2558.2,70.8 L2551.5,73.4 L2545.1,76.2 L2538.9,79.1 L2533.1,82.1 L2527.5,85.3 L2522.3,88.6 L2517.4,92.0 L2512.9,95.6 L2508.7,99.2 L2504.8,103.0 L2501.4,106.8 L2498.3,110.8 L2495.6,114.7 L2493.3,118.8 L2491.5,122.9 L2490.0,127.0 L2488.9,131.2 L2488.2,135.4 L2488.0,139.6 L2488.2,143.8 L2488.8,148.0 L2489.8,152.2 L2491.2,156.4 L2493.0,160.5 L2495.2,164.5 L2497.8,168.5 L2500.8,172.5 L2504.2,176.3 L2508.0,180.1 L2512.1,183.8 L2516.6,187.3 L2521.4,190.8 L2526.6,194.1 L2532.1,197.3 L2537.9,200.4 L2543.9,203.3 L2550.3,206.1 L2557.0,208.7 L2563.8,211.2 L2571.0,213.4 L2578.3,215.5 L2585.8,217.5 L2593.5,219.2 L2601.4,220.7 L2609.4,222.1 L2617.6,223.2 L2625.8,224.2 L2634.1,225.0 L2642.5,225.5 L2651.0,225.9 L2659.4,226.0 L2667.9,225.9 L2676.4,225.7 L2684.8,225.2 L2693.1,224.5 L2701.4,223.6 L2709.6,222.5 L2717.6,221.3 L2725.6,219.8 L2733.3,218.1 L2740.9,216.3 L2748.4,214.2 L2755.6,212.0 L2762.5,209.6 L2769.3,207.1 L2775.7,204.4 L2781.9,201.5 L2787.8,198.5 L2793.4,195.3 L2798.7,192.0 L2803.7,188.6 L2808.3,185.1 L2812.6,181.5 L2816.5,177.7 L2820.0,173.9 L2823.1,170.0 L2825.9,166.0 L2828.3,162.0 L2830.2,157.9 Z" stroke="#000" stroke-width="4.25" fill="#fff" stroke-linecap="round" stroke-linejoin="round" />
<path d="M2846.8,152.8 L2844.7,157.6 L2842.1,162.3 L2839.1,166.9 L2835.6,171.4 L2831.7,175.9 L2827.5,180.2 L2822.8,184.4 L2817.7,188.5 L2812.3,192.5 L2806.5,196.3 L2800.3,200.0 L2793.8,203.5 L2787.0,206.8 L2779.9,210.0 L2772.5,213.0 L2764.9,215.7 L2756.9,218.3 L2748.8,220.7 L2740.5,222.8 L2731.9,224.8 L2723.2,226.5 L2714.4,228.0 L2705.4,229.2 L2696.3,230.3 L2687.1,231.1 L2677.9,231.6 L2668.6,231.9 L2659.3,232.0 L2650.0,231.8 L2640.7,231.4 L2631.5,230.8 L2622.4,229.9 L2613.3,228.8 L2604.4,227.5 L2595.6,225.9 L2586.9,224.1 L2578.4,222.1 L2570.2,219.8 L2562.1,217.4 L2554.3,214.7 L2546.7,211.9 L2539.4,208.9 L2532.4,205.6 L2525.8,202.2 L2519.4,198.7 L2513.4,194.9 L2507.7,191.1 L2502.4,187.0 L2497.5,182.9 L2492.9,178.6 L2488.8,174.2 L2485.1,169.8 L2481.8,165.2 L2478.9,160.5 L2476.5,155.8 L2474.5,151.0 L2472.9,146.2 L2471.8,141.3 L2471.2,136.5 L2471.0,131.6 L2471.3,126.7 L2472.0,121.8 L2473.2,116.9 L2474.8,112.1 L2476.9,107.3 L2479.4,102.6 L2482.3,98.0 L2485.7,93.4 L2489.5,89.0 L2493.7,84.6 L2498.3,80.4 L2503.3,76.2 L2508.7,72.2 L2514.4,68.4 L2520.5,64.7 L2526.9,61.1 L2533.7,57.8 L2540.7,54.6 L2548.1,51.6 L2555.7,48.8 L2563.5,46.2 L2571.6,43.8 L2579.9,41.6 L2588.4,39.6 L2597.1,37.8 L2606.0,36.3 L2614.9,35.0 L2624.0,33.9 L2633.1,33.1 L2642.4,32.5 L2651.6,32.1 L2660.9,32.0 L2670.2,32.1 L2679.5,32.5 L2688.7,33.1 L2697.9,33.9 L2707.0,35.0 L2715.9,36.3 L2724.8,37.8 L2733.5,39.6 L2742.0,41.5 L2750.3,43.7 L2758.4,46.1 L2766.2,48.7 L2773.8,51.5 L2781.2,54.6 L2788.2,57.7 L2795.0,61.1 L2801.4,64.6 L2807.5,68.3 L2813.3,72.2 L2818.6,76.2 L2823.6,80.3 L2828.3,84.6 L2832.5,88.9 L2836.3,93.4 L2839.6,97.9 L2842.6,102.6 L2845.1,107.3 L2847.2,112.1 L2830.5,114.9 L2828.6,110.8 L2826.3,106.7 L2823.7,102.7 L2820.6,98.8 L2817.1,94.9 L2813.3,91.2 L2809.1,87.5 L2804.5,84.0 L2799.6,80.6 L2794.4,77.2 L2788.9,74.1 L2783.0,71.0 L2776.9,68.1 L2770.4,65.4 L2763.8,62.8 L2756.8,60.4 L2749.7,58.2 L2742.3,56.1 L2734.7,54.2 L2727.0,52.5 L2719.1,51.0 L2711.0,49.7 L2702.9,48.6 L2694.6,47.6 L2686.3,46.9 L2677.9,46.4 L2669.4,46.1 L2660.9,46.0 L2652.5,46.1 L2644.0,46.4 L2635.6,46.9 L2627.3,47.6 L2619.0,48.6 L2610.9,49.7 L2602.8,51.0 L2594.9,52.5 L2587.2,54.2 L2579.6,56.1 L2572.3,58.2 L2565.1,60.4 L2558.2,62.8 L2551.5,65.4 L2545.1,68.2 L2538.9,71.1 L2533.1,74.1 L2527.5,77.3 L2522.3,80.6 L2517.4,84.0 L2512.9,87.6 L2508.7,91.2 L2504.8,95.0 L2501.4,98.8 L2498.3,102.8 L2495.6,106.7 L2493.3,110.8 L2491.5,114.9 L2490.0,119.0 L2488.9,123.2 L2488.2,127.4 L2488.0,131.6 L2488.2,135.8 L2488.8,140.0 L2489.8,144.2 L2491.2,148.4 L2493.0,152.5 L2495.2,156.5 L2497.8,160.5 L2500.8,164.5 L2504.2,168.3 L2508.0,172.1 L2512.1,175.8 L2516.6,179.3 L2521.4,182.8 L2526.6,186.1 L2532.1,189.3 L2537.9,192.4 L2543.9,195.3 L2550.3,198.1 L2557.0,200.7 L2563.8,203.2 L2571.0,205.4 L2578.3,207.5 L2585.8,209.5 L2593.5,211.2 L2601.4,212.7 L2609.4,214.1 L2617.6,215.2 L2625.8,216.2 L2634.1,217.0 L2642.5,217.5 L2651.0,217.9 L2659.4,218.0 L2667.9,217.9 L2676.4,217.7 L2684.8,217.2 L2693.1,216.5 L2701.4,215.6 L2709.6,214.5 L2717.6,213.3 L2725.6,211.8 L2733.3,210.1 L2740.9,208.3 L2748.4,206.2 L2755.6,204.0 L2762.5,201.6 L2769.3,199.1 L2775.7,196.4 L2781.9,193.5 L2787.8,190.5 L2793.4,187.3 L2798.7,184.0 L2803.7,180.6 L2808.3,177.1 L2812.6,173.5 L2816.5,169.7 L2820.0,165.9 L2823.1,162.0 L2825.9,158.0 L2828.3,154.0 L2830.2,149.9 Z" stroke="#000" stroke-width="4.75" fill="#fff" stroke-linecap="round" stroke-linejoin="round" />
<path d="M2466.0,707.6 L2465.0,840.2 L2465.5,915.1 L2466.3,940.1 L2468.8,995.1 L2480.0,1020.1 L2515.1,1045.2 L2552.6,1062.7 L2570.1,1066.4 L2581.4,1060.2 L2615.1,1045.7 L2665.2,1025.6 L2702.7,1005.6 L2752.7,993.1 L2802.8,975.6 L2825.3,965.1 L2836.5,957.6 L2842.8,940.1 L2850.3,915.1 L2851.6,840.0 L2851.6,815.2 L2851.6,702.6 Z" stroke="#000" stroke-width="5.46" fill="#fff" stroke-linecap="round" stroke-linejoin="round" />
<path d="M2570.1,1066.4 C2568.8,1065.3 2572.6,1057.6 2575.1,1055.7 C2577.6,1053.7 2583.8,1053.5 2585.1,1054.7 C2586.4,1055.8 2585.6,1060.7 2583.1,1062.7 C2580.6,1064.6 2571.4,1067.6 2570.1,1066.4 Z" fill="#000"/>
<circle cx="2829.0" cy="962.6" r="3.5" fill="#fff" stroke="#000" stroke-width="3.90"/>
<path d="M2850.0,733.5 L2849.4,737.1 L2848.5,740.7 L2847.3,744.3 L2845.9,747.8 L2844.2,751.3 L2842.2,754.8 L2840.0,758.2 L2837.5,761.6 L2834.8,764.9 L2831.8,768.2 L2828.6,771.4 L2825.2,774.6 L2821.5,777.7 L2817.6,780.7 L2813.4,783.6 L2809.1,786.5 L2804.5,789.3 L2799.7,792.0 L2794.8,794.6 L2789.6,797.1 L2784.3,799.5 L2778.7,801.8 L2773.0,804.0 L2767.2,806.1 L2761.2,808.0 L2755.0,809.9 L2748.8,811.7 L2742.3,813.3 L2735.8,814.8 L2729.2,816.2 L2722.5,817.4 L2715.6,818.6 L2708.7,819.6 L2701.8,820.4 L2694.7,821.2 L2687.6,821.8 L2680.5,822.2 L2673.4,822.6 L2666.2,822.8 L2659.0,822.9 L2651.8,822.8 L2644.6,822.6 L2637.5,822.2 L2630.4,821.8 L2623.3,821.2 L2616.2,820.4 L2609.3,819.6 L2602.4,818.6 L2595.5,817.4 L2588.8,816.2 L2582.2,814.8 L2575.7,813.3 L2569.2,811.7 L2563.0,809.9 L2556.8,808.0 L2550.8,806.1 L2545.0,804.0 L2539.3,801.8 L2533.7,799.5 L2528.4,797.1 L2523.2,794.6 L2518.3,792.0 L2513.5,789.3 L2508.9,786.5 L2504.6,783.6 L2500.4,780.7 L2496.5,777.7 L2492.8,774.6 L2489.4,771.4 L2486.2,768.2 L2483.2,764.9 L2480.5,761.6 L2478.0,758.2 L2475.8,754.8 L2473.8,751.3 L2472.1,747.8 L2470.7,744.3 L2469.5,740.7 L2468.6,737.1 L2468.0,733.5" stroke="#000" stroke-width="5.46" fill="none" stroke-linecap="round" stroke-linejoin="round" />
<path d="M2850.0,747.3 L2849.4,750.9 L2848.5,754.5 L2847.3,758.0 L2845.9,761.6 L2844.2,765.1 L2842.2,768.5 L2840.0,771.9 L2837.5,775.3 L2834.8,778.7 L2831.8,781.9 L2828.6,785.2 L2825.2,788.3 L2821.5,791.4 L2817.6,794.4 L2813.4,797.4 L2809.1,800.2 L2804.5,803.0 L2799.7,805.7 L2794.8,808.3 L2789.6,810.8 L2784.3,813.2 L2778.7,815.5 L2773.0,817.7 L2767.2,819.8 L2761.2,821.8 L2755.0,823.7 L2748.8,825.4 L2742.3,827.0 L2735.8,828.6 L2729.2,829.9 L2722.5,831.2 L2715.6,832.3 L2708.7,833.3 L2701.8,834.2 L2694.7,834.9 L2687.6,835.5 L2680.5,836.0 L2673.4,836.3 L2666.2,836.5 L2659.0,836.6 L2651.8,836.5 L2644.6,836.3 L2637.5,836.0 L2630.4,835.5 L2623.3,834.9 L2616.2,834.2 L2609.3,833.3 L2602.4,832.3 L2595.5,831.2 L2588.8,829.9 L2582.2,828.6 L2575.7,827.0 L2569.2,825.4 L2563.0,823.7 L2556.8,821.8 L2550.8,819.8 L2545.0,817.7 L2539.3,815.5 L2533.7,813.2 L2528.4,810.8 L2523.2,808.3 L2518.3,805.7 L2513.5,803.0 L2508.9,800.2 L2504.6,797.4 L2500.4,794.4 L2496.5,791.4 L2492.8,788.3 L2489.4,785.2 L2486.2,781.9 L2483.2,778.7 L2480.5,775.3 L2478.0,771.9 L2475.8,768.5 L2473.8,765.1 L2472.1,761.6 L2470.7,758.0 L2469.5,754.5 L2468.6,750.9 L2468.0,747.3" stroke="#000" stroke-width="3.90" fill="none" stroke-linecap="round" stroke-linejoin="round" />
<path d="M2850.0,757.3 L2849.4,760.9 L2848.5,764.5 L2847.3,768.0 L2845.9,771.6 L2844.2,775.1 L2842.2,778.5 L2840.0,782.0 L2837.5,785.3 L2834.8,788.7 L2831.8,791.9 L2828.6,795.2 L2825.2,798.3 L2821.5,801.4 L2817.6,804.4 L2813.4,807.4 L2809.1,810.3 L2804.5,813.0 L2799.7,815.7 L2794.8,818.3 L2789.6,820.8 L2784.3,823.2 L2778.7,825.5 L2773.0,827.7 L2767.2,829.8 L2761.2,831.8 L2755.0,833.7 L2748.8,835.4 L2742.3,837.1 L2735.8,838.6 L2729.2,839.9 L2722.5,841.2 L2715.6,842.3 L2708.7,843.3 L2701.8,844.2 L2694.7,844.9 L2687.6,845.5 L2680.5,846.0 L2673.4,846.4 L2666.2,846.6 L2659.0,846.6 L2651.8,846.6 L2644.6,846.4 L2637.5,846.0 L2630.4,845.5 L2623.3,844.9 L2616.2,844.2 L2609.3,843.3 L2602.4,842.3 L2595.5,841.2 L2588.8,839.9 L2582.2,838.6 L2575.7,837.1 L2569.2,835.4 L2563.0,833.7 L2556.8,831.8 L2550.8,829.8 L2545.0,827.7 L2539.3,825.5 L2533.7,823.2 L2528.4,820.8 L2523.2,818.3 L2518.3,815.7 L2513.5,813.0 L2508.9,810.3 L2504.6,807.4 L2500.4,804.4 L2496.5,801.4 L2492.8,798.3 L2489.4,795.2 L2486.2,791.9 L2483.2,788.7 L2480.5,785.3 L2478.0,782.0 L2475.8,778.5 L2473.8,775.1 L2472.1,771.6 L2470.7,768.0 L2469.5,764.5 L2468.6,760.9 L2468.0,757.3" stroke="#000" stroke-width="5.46" fill="none" stroke-linecap="round" stroke-linejoin="round" />
<path d="M2850.0,769.8 L2849.4,773.4 L2848.5,777.0 L2847.3,780.5 L2845.9,784.1 L2844.2,787.6 L2842.2,791.0 L2840.0,794.5 L2837.5,797.8 L2834.8,801.2 L2831.8,804.5 L2828.6,807.7 L2825.2,810.8 L2821.5,813.9 L2817.6,817.0 L2813.4,819.9 L2809.1,822.8 L2804.5,825.5 L2799.7,828.2 L2794.8,830.8 L2789.6,833.3 L2784.3,835.7 L2778.7,838.1 L2773.0,840.3 L2767.2,842.3 L2761.2,844.3 L2755.0,846.2 L2748.8,847.9 L2742.3,849.6 L2735.8,851.1 L2729.2,852.4 L2722.5,853.7 L2715.6,854.8 L2708.7,855.8 L2701.8,856.7 L2694.7,857.4 L2687.6,858.1 L2680.5,858.5 L2673.4,858.9 L2666.2,859.1 L2659.0,859.1 L2651.8,859.1 L2644.6,858.9 L2637.5,858.5 L2630.4,858.1 L2623.3,857.4 L2616.2,856.7 L2609.3,855.8 L2602.4,854.8 L2595.5,853.7 L2588.8,852.4 L2582.2,851.1 L2575.7,849.6 L2569.2,847.9 L2563.0,846.2 L2556.8,844.3 L2550.8,842.3 L2545.0,840.3 L2539.3,838.1 L2533.7,835.7 L2528.4,833.3 L2523.2,830.8 L2518.3,828.2 L2513.5,825.5 L2508.9,822.8 L2504.6,819.9 L2500.4,817.0 L2496.5,813.9 L2492.8,810.8 L2489.4,807.7 L2486.2,804.5 L2483.2,801.2 L2480.5,797.8 L2478.0,794.5 L2475.8,791.0 L2473.8,787.6 L2472.1,784.1 L2470.7,780.5 L2469.5,777.0 L2468.6,773.4 L2468.0,769.8" stroke="#000" stroke-width="3.90" fill="none" stroke-linecap="round" stroke-linejoin="round" />
<path d="M2850.0,778.6 L2849.4,782.2 L2848.5,785.7 L2847.3,789.3 L2845.9,792.8 L2844.2,796.3 L2842.2,799.8 L2840.0,803.2 L2837.5,806.6 L2834.8,809.9 L2831.8,813.2 L2828.6,816.4 L2825.2,819.6 L2821.5,822.7 L2817.6,825.7 L2813.4,828.7 L2809.1,831.5 L2804.5,834.3 L2799.7,837.0 L2794.8,839.6 L2789.6,842.1 L2784.3,844.5 L2778.7,846.8 L2773.0,849.0 L2767.2,851.1 L2761.2,853.1 L2755.0,854.9 L2748.8,856.7 L2742.3,858.3 L2735.8,859.8 L2729.2,861.2 L2722.5,862.5 L2715.6,863.6 L2708.7,864.6 L2701.8,865.5 L2694.7,866.2 L2687.6,866.8 L2680.5,867.3 L2673.4,867.6 L2666.2,867.8 L2659.0,867.9 L2651.8,867.8 L2644.6,867.6 L2637.5,867.3 L2630.4,866.8 L2623.3,866.2 L2616.2,865.5 L2609.3,864.6 L2602.4,863.6 L2595.5,862.5 L2588.8,861.2 L2582.2,859.8 L2575.7,858.3 L2569.2,856.7 L2563.0,854.9 L2556.8,853.1 L2550.8,851.1 L2545.0,849.0 L2539.3,846.8 L2533.7,844.5 L2528.4,842.1 L2523.2,839.6 L2518.3,837.0 L2513.5,834.3 L2508.9,831.5 L2504.6,828.7 L2500.4,825.7 L2496.5,822.7 L2492.8,819.6 L2489.4,816.4 L2486.2,813.2 L2483.2,809.9 L2480.5,806.6 L2478.0,803.2 L2475.8,799.8 L2473.8,796.3 L2472.1,792.8 L2470.7,789.3 L2469.5,785.7 L2468.6,782.2 L2468.0,778.6" stroke="#000" stroke-width="5.85" fill="none" stroke-linecap="round" stroke-linejoin="round" />
<path d="M2850.0,788.6 L2849.4,792.2 L2848.5,795.8 L2847.3,799.3 L2845.9,802.8 L2844.2,806.3 L2842.2,809.8 L2840.0,813.2 L2837.5,816.6 L2834.8,819.9 L2831.8,823.2 L2828.6,826.4 L2825.2,829.6 L2821.5,832.7 L2817.6,835.7 L2813.4,838.7 L2809.1,841.5 L2804.5,844.3 L2799.7,847.0 L2794.8,849.6 L2789.6,852.1 L2784.3,854.5 L2778.7,856.8 L2773.0,859.0 L2767.2,861.1 L2761.2,863.1 L2755.0,864.9 L2748.8,866.7 L2742.3,868.3 L2735.8,869.8 L2729.2,871.2 L2722.5,872.5 L2715.6,873.6 L2708.7,874.6 L2701.8,875.5 L2694.7,876.2 L2687.6,876.8 L2680.5,877.3 L2673.4,877.6 L2666.2,877.8 L2659.0,877.9 L2651.8,877.8 L2644.6,877.6 L2637.5,877.3 L2630.4,876.8 L2623.3,876.2 L2616.2,875.5 L2609.3,874.6 L2602.4,873.6 L2595.5,872.5 L2588.8,871.2 L2582.2,869.8 L2575.7,868.3 L2569.2,866.7 L2563.0,864.9 L2556.8,863.1 L2550.8,861.1 L2545.0,859.0 L2539.3,856.8 L2533.7,854.5 L2528.4,852.1 L2523.2,849.6 L2518.3,847.0 L2513.5,844.3 L2508.9,841.5 L2504.6,838.7 L2500.4,835.7 L2496.5,832.7 L2492.8,829.6 L2489.4,826.4 L2486.2,823.2 L2483.2,819.9 L2480.5,816.6 L2478.0,813.2 L2475.8,809.8 L2473.8,806.3 L2472.1,802.8 L2470.7,799.3 L2469.5,795.8 L2468.6,792.2 L2468.0,788.6" stroke="#000" stroke-width="3.90" fill="none" stroke-linecap="round" stroke-linejoin="round" />
<path d="M2850.0,799.8 L2849.4,803.4 L2848.5,807.0 L2847.3,810.6 L2845.9,814.1 L2844.2,817.6 L2842.2,821.1 L2840.0,824.5 L2837.5,827.9 L2834.8,831.2 L2831.8,834.5 L2828.6,837.7 L2825.2,840.9 L2821.5,844.0 L2817.6,847.0 L2813.4,849.9 L2809.1,852.8 L2804.5,855.6 L2799.7,858.3 L2794.8,860.9 L2789.6,863.4 L2784.3,865.8 L2778.7,868.1 L2773.0,870.3 L2767.2,872.4 L2761.2,874.3 L2755.0,876.2 L2748.8,878.0 L2742.3,879.6 L2735.8,881.1 L2729.2,882.5 L2722.5,883.7 L2715.6,884.9 L2708.7,885.9 L2701.8,886.7 L2694.7,887.5 L2687.6,888.1 L2680.5,888.5 L2673.4,888.9 L2666.2,889.1 L2659.0,889.2 L2651.8,889.1 L2644.6,888.9 L2637.5,888.5 L2630.4,888.1 L2623.3,887.5 L2616.2,886.7 L2609.3,885.9 L2602.4,884.9 L2595.5,883.7 L2588.8,882.5 L2582.2,881.1 L2575.7,879.6 L2569.2,878.0 L2563.0,876.2 L2556.8,874.3 L2550.8,872.4 L2545.0,870.3 L2539.3,868.1 L2533.7,865.8 L2528.4,863.4 L2523.2,860.9 L2518.3,858.3 L2513.5,855.6 L2508.9,852.8 L2504.6,849.9 L2500.4,847.0 L2496.5,844.0 L2492.8,840.9 L2489.4,837.7 L2486.2,834.5 L2483.2,831.2 L2480.5,827.9 L2478.0,824.5 L2475.8,821.1 L2473.8,817.6 L2472.1,814.1 L2470.7,810.6 L2469.5,807.0 L2468.6,803.4 L2468.0,799.8" stroke="#000" stroke-width="5.85" fill="none" stroke-linecap="round" stroke-linejoin="round" />
<path d="M2850.0,812.4 L2849.4,815.9 L2848.5,819.5 L2847.3,823.1 L2845.9,826.6 L2844.2,830.1 L2842.2,833.6 L2840.0,837.0 L2837.5,840.4 L2834.8,843.7 L2831.8,847.0 L2828.6,850.2 L2825.2,853.4 L2821.5,856.5 L2817.6,859.5 L2813.4,862.4 L2809.1,865.3 L2804.5,868.1 L2799.7,870.8 L2794.8,873.4 L2789.6,875.9 L2784.3,878.3 L2778.7,880.6 L2773.0,882.8 L2767.2,884.9 L2761.2,886.9 L2755.0,888.7 L2748.8,890.5 L2742.3,892.1 L2735.8,893.6 L2729.2,895.0 L2722.5,896.2 L2715.6,897.4 L2708.7,898.4 L2701.8,899.2 L2694.7,900.0 L2687.6,900.6 L2680.5,901.1 L2673.4,901.4 L2666.2,901.6 L2659.0,901.7 L2651.8,901.6 L2644.6,901.4 L2637.5,901.1 L2630.4,900.6 L2623.3,900.0 L2616.2,899.2 L2609.3,898.4 L2602.4,897.4 L2595.5,896.2 L2588.8,895.0 L2582.2,893.6 L2575.7,892.1 L2569.2,890.5 L2563.0,888.7 L2556.8,886.9 L2550.8,884.9 L2545.0,882.8 L2539.3,880.6 L2533.7,878.3 L2528.4,875.9 L2523.2,873.4 L2518.3,870.8 L2513.5,868.1 L2508.9,865.3 L2504.6,862.4 L2500.4,859.5 L2496.5,856.5 L2492.8,853.4 L2489.4,850.2 L2486.2,847.0 L2483.2,843.7 L2480.5,840.4 L2478.0,837.0 L2475.8,833.6 L2473.8,830.1 L2472.1,826.6 L2470.7,823.1 L2469.5,819.5 L2468.6,815.9 L2468.0,812.4" stroke="#000" stroke-width="6.50" fill="none" stroke-linecap="round" stroke-linejoin="round" />
<path d="M2841.1,762.8 L2839.2,765.6 L2837.1,768.4 L2834.8,771.2 L2832.3,774.0 L2829.6,776.7 L2826.8,779.4 L2823.8,782.0 L2820.7,784.5 L2817.4,787.1 L2813.9,789.5 L2810.3,791.9 L2806.6,794.3 L2802.6,796.6 L2798.6,798.8 L2794.4,801.0 L2790.1,803.1 L2785.6,805.1 L2781.1,807.1 L2776.4,809.0 L2771.6,810.8 L2766.6,812.5 L2761.6,814.2 L2756.5,815.7 L2751.3,817.2 L2745.9,818.6 L2740.5,820.0 L2735.1,821.2 L2729.5,822.4 L2723.9,823.4 L2718.2,824.4 L2712.4,825.3 L2706.6,826.1 L2700.8,826.8 L2694.9,827.4 L2689.0,827.9 L2683.0,828.4 L2677.0,828.7 L2671.0,828.9 L2665.0,829.1 L2659.0,829.1 L2653.0,829.1 L2647.0,828.9 L2641.0,828.7 L2635.0,828.4 L2629.0,827.9 L2623.1,827.4 L2617.2,826.8 L2611.4,826.1 L2605.6,825.3 L2599.8,824.4 L2594.1,823.4 L2588.5,822.4 L2582.9,821.2 L2577.5,820.0 L2572.1,818.6 L2566.7,817.2 L2561.5,815.7 L2556.4,814.2 L2551.4,812.5 L2546.4,810.8 L2541.6,809.0 L2536.9,807.1 L2532.4,805.1 L2527.9,803.1 L2523.6,801.0 L2519.4,798.8 L2515.4,796.6 L2511.4,794.3 L2507.7,791.9 L2504.1,789.5 L2500.6,787.1 L2497.3,784.5 L2494.2,782.0 L2491.2,779.4 L2488.4,776.7 L2485.7,774.0 L2483.2,771.2 L2480.9,768.4 L2478.8,765.6 L2476.9,762.8" stroke="#000" stroke-width="2.86" fill="none" stroke-linecap="round" stroke-linejoin="round" />
<path d="M2841.1,786.5 L2839.2,789.4 L2837.1,792.2 L2834.8,795.0 L2832.3,797.7 L2829.6,800.5 L2826.8,803.1 L2823.8,805.7 L2820.7,808.3 L2817.4,810.8 L2813.9,813.3 L2810.3,815.7 L2806.6,818.1 L2802.6,820.4 L2798.6,822.6 L2794.4,824.8 L2790.1,826.9 L2785.6,828.9 L2781.1,830.8 L2776.4,832.7 L2771.6,834.5 L2766.6,836.3 L2761.6,837.9 L2756.5,839.5 L2751.3,841.0 L2745.9,842.4 L2740.5,843.7 L2735.1,845.0 L2729.5,846.1 L2723.9,847.2 L2718.2,848.2 L2712.4,849.1 L2706.6,849.9 L2700.8,850.6 L2694.9,851.2 L2689.0,851.7 L2683.0,852.1 L2677.0,852.4 L2671.0,852.7 L2665.0,852.8 L2659.0,852.9 L2653.0,852.8 L2647.0,852.7 L2641.0,852.4 L2635.0,852.1 L2629.0,851.7 L2623.1,851.2 L2617.2,850.6 L2611.4,849.9 L2605.6,849.1 L2599.8,848.2 L2594.1,847.2 L2588.5,846.1 L2582.9,845.0 L2577.5,843.7 L2572.1,842.4 L2566.7,841.0 L2561.5,839.5 L2556.4,837.9 L2551.4,836.3 L2546.4,834.5 L2541.6,832.7 L2536.9,830.8 L2532.4,828.9 L2527.9,826.9 L2523.6,824.8 L2519.4,822.6 L2515.4,820.4 L2511.4,818.1 L2507.7,815.7 L2504.1,813.3 L2500.6,810.8 L2497.3,808.3 L2494.2,805.7 L2491.2,803.1 L2488.4,800.5 L2485.7,797.7 L2483.2,795.0 L2480.9,792.2 L2478.8,789.4 L2476.9,786.5" stroke="#000" stroke-width="2.86" fill="none" stroke-linecap="round" stroke-linejoin="round" />
<path d="M2841.1,806.6 L2839.2,809.4 L2837.1,812.2 L2834.8,815.0 L2832.3,817.8 L2829.6,820.5 L2826.8,823.1 L2823.8,825.8 L2820.7,828.3 L2817.4,830.9 L2813.9,833.3 L2810.3,835.7 L2806.6,838.1 L2802.6,840.4 L2798.6,842.6 L2794.4,844.8 L2790.1,846.9 L2785.6,848.9 L2781.1,850.9 L2776.4,852.7 L2771.6,854.6 L2766.6,856.3 L2761.6,857.9 L2756.5,859.5 L2751.3,861.0 L2745.9,862.4 L2740.5,863.8 L2735.1,865.0 L2729.5,866.1 L2723.9,867.2 L2718.2,868.2 L2712.4,869.1 L2706.6,869.9 L2700.8,870.6 L2694.9,871.2 L2689.0,871.7 L2683.0,872.1 L2677.0,872.5 L2671.0,872.7 L2665.0,872.8 L2659.0,872.9 L2653.0,872.8 L2647.0,872.7 L2641.0,872.5 L2635.0,872.1 L2629.0,871.7 L2623.1,871.2 L2617.2,870.6 L2611.4,869.9 L2605.6,869.1 L2599.8,868.2 L2594.1,867.2 L2588.5,866.1 L2582.9,865.0 L2577.5,863.8 L2572.1,862.4 L2566.7,861.0 L2561.5,859.5 L2556.4,857.9 L2551.4,856.3 L2546.4,854.6 L2541.6,852.7 L2536.9,850.9 L2532.4,848.9 L2527.9,846.9 L2523.6,844.8 L2519.4,842.6 L2515.4,840.4 L2511.4,838.1 L2507.7,835.7 L2504.1,833.3 L2500.6,830.9 L2497.3,828.3 L2494.2,825.8 L2491.2,823.1 L2488.4,820.5 L2485.7,817.8 L2483.2,815.0 L2480.9,812.2 L2478.8,809.4 L2476.9,806.6" stroke="#000" stroke-width="2.86" fill="none" stroke-linecap="round" stroke-linejoin="round" />
<path d="M2841.1,829.1 L2839.2,831.9 L2837.1,834.7 L2834.8,837.5 L2832.3,840.3 L2829.6,843.0 L2826.8,845.7 L2823.8,848.3 L2820.7,850.8 L2817.4,853.4 L2813.9,855.8 L2810.3,858.2 L2806.6,860.6 L2802.6,862.9 L2798.6,865.1 L2794.4,867.3 L2790.1,869.4 L2785.6,871.4 L2781.1,873.4 L2776.4,875.3 L2771.6,877.1 L2766.6,878.8 L2761.6,880.5 L2756.5,882.0 L2751.3,883.5 L2745.9,884.9 L2740.5,886.3 L2735.1,887.5 L2729.5,888.7 L2723.9,889.7 L2718.2,890.7 L2712.4,891.6 L2706.6,892.4 L2700.8,893.1 L2694.9,893.7 L2689.0,894.2 L2683.0,894.7 L2677.0,895.0 L2671.0,895.2 L2665.0,895.4 L2659.0,895.4 L2653.0,895.4 L2647.0,895.2 L2641.0,895.0 L2635.0,894.7 L2629.0,894.2 L2623.1,893.7 L2617.2,893.1 L2611.4,892.4 L2605.6,891.6 L2599.8,890.7 L2594.1,889.7 L2588.5,888.7 L2582.9,887.5 L2577.5,886.3 L2572.1,884.9 L2566.7,883.5 L2561.5,882.0 L2556.4,880.5 L2551.4,878.8 L2546.4,877.1 L2541.6,875.3 L2536.9,873.4 L2532.4,871.4 L2527.9,869.4 L2523.6,867.3 L2519.4,865.1 L2515.4,862.9 L2511.4,860.6 L2507.7,858.2 L2504.1,855.8 L2500.6,853.4 L2497.3,850.8 L2494.2,848.3 L2491.2,845.7 L2488.4,843.0 L2485.7,840.3 L2483.2,837.5 L2480.9,834.7 L2478.8,831.9 L2476.9,829.1" stroke="#000" stroke-width="2.86" fill="none" stroke-linecap="round" stroke-linejoin="round" />
<path d="M2465.5,725.1 L2477.5,745.1 L2490.0,790.2 L2500.0,815.2 L2490.0,830.2 L2475.0,827.7 L2465.5,815.2 Z" fill="#000"/>
<path d="M2851.6,730.1 L2840.3,750.1 L2830.3,790.2 L2826.5,827.7 L2830.3,860.2 L2840.3,865.2 L2851.6,840.2 Z" fill="#000"/>
<ellipse cx="2659" cy="709.5" rx="191.5" ry="96" fill="#fff" stroke="none"/>
<path d="M2467.5,709.5 L2467.6,705.7 L2468.1,702.0 L2468.8,698.2 L2469.9,694.5 L2471.2,690.8 L2472.8,687.1 L2474.7,683.4 L2476.9,679.8 L2479.3,676.3 L2482.1,672.8 L2485.1,669.3 L2488.4,665.9 L2491.9,662.6 L2495.7,659.3 L2499.8,656.2 L2504.1,653.1 L2508.6,650.1 L2513.4,647.2 L2518.4,644.3 L2523.6,641.6 L2529.0,639.0 L2534.6,636.5 L2540.4,634.1 L2546.4,631.8 L2552.6,629.7 L2558.9,627.6 L2565.4,625.7 L2572.1,624.0 L2578.8,622.3 L2585.7,620.8 L2592.7,619.4 L2599.8,618.2 L2607.0,617.1 L2614.3,616.2 L2621.6,615.3 L2629.0,614.7 L2636.5,614.2 L2644.0,613.8 L2651.5,613.6 L2659.0,613.5 L2666.5,613.6 L2674.0,613.8 L2681.5,614.2 L2689.0,614.7 L2696.4,615.3 L2703.7,616.2 L2711.0,617.1 L2718.2,618.2 L2725.3,619.4 L2732.3,620.8 L2739.2,622.3 L2745.9,624.0 L2752.6,625.7 L2759.1,627.6 L2765.4,629.7 L2771.6,631.8 L2777.6,634.1 L2783.4,636.5 L2789.0,639.0 L2794.4,641.6 L2799.6,644.3 L2804.6,647.2 L2809.4,650.1 L2813.9,653.1 L2818.2,656.2 L2822.3,659.3 L2826.1,662.6 L2829.6,665.9 L2832.9,669.3 L2835.9,672.8 L2838.7,676.3 L2841.1,679.8 L2843.3,683.4 L2845.2,687.1 L2846.8,690.8 L2848.1,694.5 L2849.2,698.2 L2849.9,702.0 L2850.4,705.7 L2850.5,709.5" stroke="#000" stroke-width="5.85" fill="none" stroke-linecap="round" stroke-linejoin="round" />
<path d="M2850.5,709.5 L2850.4,713.3 L2849.9,717.0 L2849.2,720.8 L2848.1,724.5 L2846.8,728.2 L2845.2,731.9 L2843.3,735.6 L2841.1,739.2 L2838.7,742.7 L2835.9,746.2 L2832.9,749.7 L2829.6,753.1 L2826.1,756.4 L2822.3,759.7 L2818.2,762.8 L2813.9,765.9 L2809.4,768.9 L2804.6,771.8 L2799.6,774.7 L2794.4,777.4 L2789.0,780.0 L2783.4,782.5 L2777.6,784.9 L2771.6,787.2 L2765.4,789.3 L2759.1,791.4 L2752.6,793.3 L2745.9,795.0 L2739.2,796.7 L2732.3,798.2 L2725.3,799.6 L2718.2,800.8 L2711.0,801.9 L2703.7,802.8 L2696.4,803.7 L2689.0,804.3 L2681.5,804.8 L2674.0,805.2 L2666.5,805.4 L2659.0,805.5 L2651.5,805.4 L2644.0,805.2 L2636.5,804.8 L2629.0,804.3 L2621.6,803.7 L2614.3,802.8 L2607.0,801.9 L2599.8,800.8 L2592.7,799.6 L2585.7,798.2 L2578.8,796.7 L2572.1,795.0 L2565.4,793.3 L2558.9,791.4 L2552.6,789.3 L2546.4,787.2 L2540.4,784.9 L2534.6,782.5 L2529.0,780.0 L2523.6,777.4 L2518.4,774.7 L2513.4,771.8 L2508.6,768.9 L2504.1,765.9 L2499.8,762.8 L2495.7,759.7 L2491.9,756.4 L2488.4,753.1 L2485.1,749.7 L2482.1,746.2 L2479.3,742.7 L2476.9,739.2 L2474.7,735.6 L2472.8,731.9 L2471.2,728.2 L2469.9,724.5 L2468.8,720.8 L2468.1,717.0 L2467.6,713.3 L2467.5,709.5" stroke="#000" stroke-width="3.38" fill="none" stroke-linecap="round" stroke-linejoin="round" />
<ellipse cx="2662.7" cy="712.6" rx="20.5" ry="12.5" fill="#fff" stroke="#000" stroke-width="4.16"/>
<path d="M2548.1,760.1 L2568.1,768.9 L2550.1,780.1" stroke="#000" stroke-width="3.90" fill="none" stroke-linecap="round" stroke-linejoin="round" />
<path d="M2548.1,760.1 L2545.1,785.6" stroke="#000" stroke-width="4.16" fill="none" stroke-linecap="round" stroke-linejoin="round" />
<path d="M2666.4,988.1 C2661.2,977.6 2640.8,936.5 2635.1,925.1 C2629.5,913.6 2632.2,921.4 2632.6,919.6 C2633.1,917.7 2636.8,914.8 2637.6,913.8" stroke="#000" stroke-width="5.20" fill="none" stroke-linecap="round" stroke-linejoin="round" />
<path d="M2637.6,913.8 L2740.2,912.6" stroke="#000" stroke-width="5.20" fill="none" stroke-linecap="round" stroke-linejoin="round" />
<path d="M2740.2,912.6 C2745.6,911.4 2762.7,908.8 2772.7,905.5 C2782.8,902.3 2795.7,895.1 2800.3,893.0" stroke="#000" stroke-width="5.20" fill="none" stroke-linecap="round" stroke-linejoin="round" />
<path d="M2666.4,988.1 L2700.2,989.4" stroke="#000" stroke-width="3.90" fill="none" stroke-linecap="round" stroke-linejoin="round" />
<path d="M2700.2,917.6 L2698.9,988.1" stroke="#000" stroke-width="5.20" fill="none" stroke-linecap="round" stroke-linejoin="round" />
<path d="M2708.2,917.6 L2706.7,987.6" stroke="#000" stroke-width="3.90" fill="none" stroke-linecap="round" stroke-linejoin="round" />
<path d="M2743.2,912.6 C2742.3,915.5 2737.4,924.6 2737.7,930.1 C2738.1,935.5 2741.9,941.7 2745.2,945.1 C2748.6,948.4 2753.2,950.9 2757.7,950.1 C2762.3,949.2 2767.7,945.9 2772.7,940.1 C2777.8,934.2 2784.8,921.7 2787.8,915.1 C2790.8,908.4 2790.3,902.5 2790.8,900.0" stroke="#000" stroke-width="5.85" fill="none" stroke-linecap="round" stroke-linejoin="round" />
<path d="M2773.2,905.5 C2772.7,908.8 2772.8,919.3 2770.2,925.1 C2767.7,930.8 2761.1,937.1 2757.7,940.1 C2754.4,943.1 2751.5,942.6 2750.2,943.1" stroke="#000" stroke-width="4.68" fill="none" stroke-linecap="round" stroke-linejoin="round" />
<path d="M2800.3,893.0 C2799.4,896.7 2798.2,907.2 2795.3,915.1 C2792.3,922.9 2787.3,933.8 2782.8,940.1 C2778.2,946.3 2770.2,950.5 2767.7,952.6" stroke="#000" stroke-width="3.90" fill="none" stroke-linecap="round" stroke-linejoin="round" />
<path d="M2700.2,989.4 L2765.2,957.6 L2825.3,925.1" stroke="#000" stroke-width="4.68" fill="none" stroke-linecap="round" stroke-linejoin="round" />
<path d="M2707.7,985.6 L2765.2,953.1 L2810.3,935.6" stroke="#000" stroke-width="3.38" fill="none" stroke-linecap="round" stroke-linejoin="round" />
<path d="M2715.2,988.1 C2727.7,983.1 2771.1,966.4 2790.3,958.1 C2809.4,949.7 2821.0,944.4 2830.3,938.1 C2839.5,931.7 2843.2,923.1 2845.8,920.1" stroke="#000" stroke-width="4.16" fill="none" stroke-linecap="round" stroke-linejoin="round" />
<path d="M2825.3,872.5 L2827.8,923.1" stroke="#000" stroke-width="4.68" fill="none" stroke-linecap="round" stroke-linejoin="round" />
<path d="M2826.5,873.8 L2850.3,855.0" stroke="#000" stroke-width="5.20" fill="none" stroke-linecap="round" stroke-linejoin="round" />
<path d="M2912.8,1044.9 C2911.0,1043.1 2904.2,1038.7 2901.9,1034.0 C2899.5,1029.2 2897.8,1022.3 2898.6,1016.5 C2899.3,1010.7 2902.8,1004.3 2906.2,999.0 C2909.7,993.7 2914.6,987.9 2919.3,984.8 C2924.1,981.7 2932.1,981.2 2934.6,980.4" stroke="#000" stroke-width="6.88" fill="none" stroke-linecap="round" stroke-linejoin="round" />
<path d="M2934.6,980.4 L3140.1,1095.2" stroke="#000" stroke-width="5.25" fill="none" stroke-linecap="round" stroke-linejoin="round" />
<path d="M2912.8,1044.9 L3089.8,1145.4" stroke="#000" stroke-width="5.25" fill="none" stroke-linecap="round" stroke-linejoin="round" />
<ellipse cx="3119.9" cy="1125.8" rx="24" ry="36" transform="rotate(28 3119.9 1125.8)" fill="#fff" stroke="#000" stroke-width="6.88"/>
<ellipse cx="3121.4" cy="1126.8" rx="16.5" ry="27" transform="rotate(28 3121.4 1126.8)" fill="#fff" stroke="#000" stroke-width="3.75"/>
<ellipse cx="3122.4" cy="1128.3" rx="11" ry="21" transform="rotate(28 3122.4 1128.3)" fill="#fff" stroke="#000" stroke-width="5.00"/>
<path d="M3193.0,1184.3 L3190.9,1186.3 L3188.7,1188.1 L3186.4,1189.7 L3184.0,1191.0 L3181.6,1192.1 L3179.1,1192.9 L3176.6,1193.4 L3174.1,1193.7 L3171.6,1193.6 L3169.2,1193.3 L3166.7,1192.8 L3164.4,1191.9 L3162.2,1190.8 L3160.0,1189.4 L3158.0,1187.8 L3156.2,1186.0 L3154.4,1183.9 L3152.9,1181.6 L3151.5,1179.2 L3150.3,1176.5 L3149.4,1173.8 L3148.6,1170.9 L3148.1,1167.9 L3147.7,1164.8 L3147.6,1161.7 L3147.7,1158.5 L3148.0,1155.4 L3148.6,1152.3 L3149.4,1149.2 L3150.3,1146.2 L3151.5,1143.2 L3152.9,1140.4 L3154.4,1137.7 L3156.1,1135.2 L3158.0,1132.9 L3160.0,1130.7 L3162.1,1128.8 L3164.4,1127.1 L3166.7,1125.7 L3169.1,1124.4 L3171.6,1123.5 L3174.1,1122.8 L3176.6,1122.4 L3179.1,1122.3 L3181.6,1122.5 L3184.0,1122.9 L3186.4,1123.6 L3188.7,1124.6 L3190.9,1125.8 L3192.9,1127.3 L3194.9,1129.0 L3196.7,1131.0 L3198.3,1133.2 L3199.8,1135.5 L3201.1,1138.1 L3202.1,1140.8 L3203.0,1143.6 L3203.7,1146.5 L3204.1,1149.6 L3204.4,1152.7" stroke="#000" stroke-width="5.25" fill="none" stroke-linecap="round" stroke-linejoin="round" />
<path d="M3185.8,1182.5 L3184.2,1183.7 L3182.5,1184.8 L3180.7,1185.6 L3178.9,1186.3 L3177.1,1186.8 L3175.3,1187.1 L3173.5,1187.2 L3171.7,1187.1 L3169.9,1186.9 L3168.2,1186.4 L3166.5,1185.8 L3164.9,1184.9 L3163.4,1183.9 L3161.9,1182.7 L3160.6,1181.4 L3159.3,1179.9 L3158.1,1178.3 L3157.1,1176.5 L3156.2,1174.6 L3155.4,1172.6 L3154.8,1170.5 L3154.3,1168.3 L3153.9,1166.1 L3153.7,1163.8 L3153.6,1161.4 L3153.7,1159.1 L3153.9,1156.7 L3154.3,1154.3 L3154.8,1152.0 L3155.5,1149.7 L3156.3,1147.5 L3157.2,1145.3 L3158.2,1143.2 L3159.4,1141.2 L3160.6,1139.3 L3162.0,1137.6 L3163.5,1135.9 L3165.0,1134.5 L3166.6,1133.1 L3168.3,1132.0 L3170.0,1131.0 L3171.8,1130.2 L3173.6,1129.5 L3175.4,1129.1 L3177.2,1128.8 L3179.0,1128.8 L3180.8,1128.9 L3182.6,1129.2 L3184.3,1129.8 L3186.0,1130.5 L3187.5,1131.3 L3189.1,1132.4 L3190.5,1133.6 L3191.8,1135.0 L3193.1,1136.5 L3194.2,1138.2 L3195.2,1140.0 L3196.0,1142.0 L3196.8,1144.0 L3197.4,1146.1" stroke="#000" stroke-width="3.75" fill="none" stroke-linecap="round" stroke-linejoin="round" />
<path d="M3200.0,1140.8 L3202.4,1152.9" stroke="#000" stroke-width="8.75" fill="none" stroke-linecap="round" stroke-linejoin="round" />
<path d="M3191.0,1182.0 L3185.6,1186.6" stroke="#000" stroke-width="7.50" fill="none" stroke-linecap="round" stroke-linejoin="round" />
<path d="M2383.9,713.8 L2381.8,715.8 L2379.5,717.5 L2377.2,719.0 L2374.7,720.3 L2372.2,721.3 L2369.7,722.1 L2367.1,722.5 L2364.5,722.8 L2361.9,722.7 L2359.4,722.4 L2356.9,721.8 L2354.5,720.9 L2352.1,719.8 L2349.9,718.4 L2347.8,716.8 L2345.9,715.0 L2344.1,713.0 L2342.4,710.7 L2341.0,708.3 L2339.7,705.7 L2338.7,703.0 L2337.9,700.2 L2337.3,697.3 L2336.9,694.3 L2336.7,691.2 L2336.8,688.2 L2337.1,685.1 L2337.6,682.1 L2338.4,679.0 L2339.3,676.1 L2340.5,673.3 L2341.9,670.6 L2343.4,668.0 L2345.2,665.5 L2347.1,663.3 L2349.1,661.2 L2351.3,659.4 L2353.6,657.7 L2356.0,656.3 L2358.4,655.2 L2361.0,654.3 L2363.5,653.7 L2366.1,653.3 L2368.7,653.2 L2371.3,653.4 L2373.8,653.9 L2376.3,654.6 L2378.6,655.6 L2380.9,656.8 L2383.1,658.3 L2385.1,660.0 L2387.0,661.9 L2388.7,664.1 L2390.3,666.4 L2391.6,668.9 L2392.8,671.5 L2393.7,674.3 L2394.4,677.2 L2394.9,680.1 L2395.2,683.2" stroke="#000" stroke-width="5.25" fill="none" stroke-linecap="round" stroke-linejoin="round" />
<path d="M2376.7,711.9 L2374.9,713.1 L2373.2,714.0 L2371.3,714.9 L2369.5,715.5 L2367.6,715.9 L2365.7,716.2 L2363.8,716.3 L2362.0,716.2 L2360.1,715.9 L2358.3,715.4 L2356.6,714.8 L2354.9,713.9 L2353.3,712.9 L2351.7,711.8 L2350.3,710.4 L2348.9,709.0 L2347.7,707.4 L2346.6,705.6 L2345.6,703.8 L2344.8,701.8 L2344.1,699.8 L2343.5,697.7 L2343.1,695.5 L2342.8,693.2 L2342.7,691.0 L2342.8,688.7 L2343.0,686.4 L2343.3,684.1 L2343.8,681.8 L2344.5,679.6 L2345.3,677.5 L2346.2,675.4 L2347.2,673.4 L2348.4,671.4 L2349.7,669.6 L2351.1,668.0 L2352.6,666.4 L2354.2,665.0 L2355.8,663.7 L2357.6,662.6 L2359.4,661.7 L2361.2,660.9 L2363.0,660.4 L2364.9,660.0 L2366.8,659.8 L2368.7,659.7 L2370.6,659.9 L2372.4,660.2 L2374.2,660.8 L2375.9,661.5 L2377.6,662.3 L2379.2,663.4 L2380.7,664.6 L2382.1,666.0 L2383.4,667.5 L2384.6,669.1 L2385.7,670.9 L2386.6,672.8 L2387.4,674.8 L2388.1,676.8" stroke="#000" stroke-width="3.75" fill="none" stroke-linecap="round" stroke-linejoin="round" />
<path d="M2390.6,671.6 L2393.2,683.4" stroke="#000" stroke-width="8.75" fill="none" stroke-linecap="round" stroke-linejoin="round" />
<path d="M2381.9,711.5 L2376.4,716.0" stroke="#000" stroke-width="7.50" fill="none" stroke-linecap="round" stroke-linejoin="round" />
<text x="0" y="0" font-size="62" font-weight="bold" stroke="#000" stroke-width="1.50" transform="translate(3261,220.5) rotate(-37.5)" style="letter-spacing:1.2px">FWD</text>
<path d="M3371.6,65.7 L3423,74 L3415.6,129.5 L3403,117 L3375.8,133.7 L3353.4,98 L3375.8,79 Z" fill="#000"/>
<path d="M1788.8,1270.1 C1789.2,1282.6 1790.1,1322.2 1791.3,1345.2 C1792.6,1368.1 1795.1,1393.1 1796.3,1407.7 C1797.6,1422.3 1796.5,1427.5 1798.8,1432.7 C1801.1,1437.9 1804.9,1440.7 1810.1,1439.0 C1815.3,1437.3 1825.9,1434.2 1830.1,1422.7 C1834.3,1411.3 1833.9,1398.1 1835.1,1370.2 C1836.3,1342.3 1836.8,1274.3 1837.1,1255.1" stroke="#000" stroke-width="5.25" fill="#fff" stroke-linecap="round" stroke-linejoin="round" />
<path d="M1800.1,1270.1 C1800.3,1278.5 1800.5,1299.3 1801.3,1320.2 C1802.2,1341.0 1803.6,1375.9 1805.1,1395.2 C1806.5,1414.5 1809.2,1429.0 1810.1,1435.7" stroke="#000" stroke-width="3.75" fill="none" stroke-linecap="round" stroke-linejoin="round" />
<path d="M1794.6,1275.1 C1795.0,1286.8 1796.2,1320.6 1797.1,1345.2 C1798.0,1369.8 1799.6,1409.8 1800.1,1422.7" stroke="#000" stroke-width="3.25" fill="none" stroke-linecap="round" stroke-linejoin="round" />
<path d="M1837.1,1252.6 C1836.8,1268.0 1835.9,1317.6 1835.1,1345.2 C1834.4,1372.7 1833.0,1405.6 1832.6,1417.7" stroke="#000" stroke-width="6.25" fill="none" stroke-linecap="round" stroke-linejoin="round" />
<path d="M1725.0,1245.1 L1727.5,1240.1 L1732.5,1237.1 L1762.5,1220.6 L1775.1,1219.1 L1783.8,1220.6 L1787.1,1213.1 L1790.6,1205.1 L1800.1,1198.1 L1840.1,1178.0 L1855.1,1176.5 L1871.4,1178.0 L1875.9,1171.5 L1880.6,1165.0 L1890.6,1152.5 L1922.7,1135.0 L1964.7,1159.5 L1969.0,1170.0 L1968.2,1182.5 L1957.7,1187.1 L1772.6,1276.6 L1757.5,1275.6 L1723.8,1255.1 Z" stroke="#000" stroke-width="5.00" fill="#fff" stroke-linecap="round" stroke-linejoin="round" />
<path d="M1730.0,1256.4 L1760.0,1271.4 L1772.6,1270.1 L1957.7,1173.8 L1965.2,1163.0" stroke="#000" stroke-width="3.50" fill="none" stroke-linecap="round" stroke-linejoin="round" />
<path d="M1957.7,1173.8 L1969.0,1170.0 L1968.2,1182.5 L1957.7,1187.1 Z" fill="#000"/>
<ellipse cx="1920.2" cy="1162.5" rx="16.5" ry="11.0" transform="rotate(0 1920.2 1162.5)" fill="#000" stroke="#000" stroke-width="2.50"/>
<ellipse cx="1920.2" cy="1165.5" rx="7.0" ry="3.8" transform="rotate(0 1920.2 1165.5)" fill="#fff" stroke="#000" stroke-width="0.00"/>
<ellipse cx="1767.1" cy="1245.1" rx="16.5" ry="11.0" transform="rotate(0 1767.1 1245.1)" fill="#000" stroke="#000" stroke-width="2.50"/>
<ellipse cx="1766.5" cy="1248.8" rx="6.5" ry="3.5" transform="rotate(0 1766.5 1248.8)" fill="#fff" stroke="#000" stroke-width="0.00"/>
<ellipse cx="1798.1" cy="1210.6" rx="11.5" ry="13.5" transform="rotate(15 1798.1 1210.6)" fill="#000" stroke="#000" stroke-width="2.50"/>
<ellipse cx="1796.3" cy="1208.1" rx="4.0" ry="6.0" transform="rotate(15 1796.3 1208.1)" fill="#fff" stroke="#000" stroke-width="0.00"/>
<ellipse cx="1918" cy="1376" rx="31" ry="17.5" fill="#fff" stroke="#000" stroke-width="5.00"/>
<ellipse cx="1918" cy="1371" rx="31" ry="17.5" fill="#fff" stroke="#000" stroke-width="5.62"/>
<ellipse cx="1918" cy="1368" rx="27" ry="12" fill="none" stroke="#000" stroke-width="3.75"/>
<ellipse cx="1916" cy="1368" rx="15" ry="8.5" fill="#000"/>
<ellipse cx="1918" cy="1369" rx="5" ry="3" fill="#fff"/>
<ellipse cx="1769" cy="1461" rx="31" ry="17.5" fill="#fff" stroke="#000" stroke-width="5.00"/>
<ellipse cx="1769" cy="1456" rx="31" ry="17.5" fill="#fff" stroke="#000" stroke-width="5.62"/>
<ellipse cx="1769" cy="1453" rx="27" ry="12" fill="none" stroke="#000" stroke-width="3.75"/>
<ellipse cx="1767" cy="1453" rx="15" ry="8.5" fill="#000"/>
<ellipse cx="1769" cy="1454" rx="5" ry="3" fill="#fff"/>
<path d="M1906.5,1530 L1906.5,1433 Q1906.5,1426 1913.5,1426 L1924.5,1426 Q1931.5,1426 1931.5,1433 L1931.5,1530 Z" fill="#fff" stroke="#000" stroke-width="7.00" stroke-linejoin="round"/>
<path d="M1907.5,1438.0 Q1919,1448.0 1930.5,1438.0" fill="none" stroke="#000" stroke-width="5.25"/>
<path d="M1907.5,1448.5 Q1919,1458.5 1930.5,1448.5" fill="none" stroke="#000" stroke-width="5.25"/>
<path d="M1907.5,1459.0 Q1919,1469.0 1930.5,1459.0" fill="none" stroke="#000" stroke-width="5.25"/>
<path d="M1907.5,1469.5 Q1919,1479.5 1930.5,1469.5" fill="none" stroke="#000" stroke-width="5.25"/>
<path d="M1907.5,1480.0 Q1919,1490.0 1930.5,1480.0" fill="none" stroke="#000" stroke-width="5.25"/>
<path d="M1907.5,1490.5 Q1919,1500.5 1930.5,1490.5" fill="none" stroke="#000" stroke-width="5.25"/>
<path d="M1907.5,1501.0 Q1919,1511.0 1930.5,1501.0" fill="none" stroke="#000" stroke-width="5.25"/>
<path d="M1907.5,1511.5 Q1919,1521.5 1930.5,1511.5" fill="none" stroke="#000" stroke-width="5.25"/>
<path d="M1910.5,1530 L1910.5,1566 L1919,1572 L1927.5,1566 L1927.5,1530" fill="#fff" stroke="#000" stroke-width="6.25" stroke-linejoin="round"/>
<path d="M1909,1564 L1905,1578 L1904,1619 M1929,1564 L1933,1578 L1934,1619" fill="none" stroke="#000" stroke-width="6.25" stroke-linejoin="round"/>
<path d="M1904,1613 Q1896,1617 1897,1631 L1901,1649 Q1907,1657 1919,1657 Q1931,1657 1937,1649 L1941,1631 Q1942,1617 1934,1613" fill="#fff" stroke="#000" stroke-width="7.50" stroke-linejoin="round"/>
<path d="M1900,1627 Q1911,1639 1911,1654 M1938,1627 Q1927,1639 1927,1654" fill="none" stroke="#000" stroke-width="6.25"/>
<path d="M1901,1644 L1937,1644" stroke="#000" stroke-width="6.25"/>
<path d="M1900,1645 L1910,1645 L1911,1655 L1904,1652 Z M1938,1645 L1928,1645 L1927,1655 L1934,1652 Z" fill="#000"/>
<path d="M1757.5,1595 L1757.5,1509 Q1757.5,1502 1764.5,1502 L1775.5,1502 Q1782.5,1502 1782.5,1509 L1782.5,1595 Z" fill="#fff" stroke="#000" stroke-width="7.00" stroke-linejoin="round"/>
<path d="M1758.5,1514.0 Q1770,1524.0 1781.5,1514.0" fill="none" stroke="#000" stroke-width="5.25"/>
<path d="M1758.5,1524.5 Q1770,1534.5 1781.5,1524.5" fill="none" stroke="#000" stroke-width="5.25"/>
<path d="M1758.5,1535.0 Q1770,1545.0 1781.5,1535.0" fill="none" stroke="#000" stroke-width="5.25"/>
<path d="M1758.5,1545.5 Q1770,1555.5 1781.5,1545.5" fill="none" stroke="#000" stroke-width="5.25"/>
<path d="M1758.5,1556.0 Q1770,1566.0 1781.5,1556.0" fill="none" stroke="#000" stroke-width="5.25"/>
<path d="M1758.5,1566.5 Q1770,1576.5 1781.5,1566.5" fill="none" stroke="#000" stroke-width="5.25"/>
<path d="M1758.5,1577.0 Q1770,1587.0 1781.5,1577.0" fill="none" stroke="#000" stroke-width="5.25"/>
<path d="M1761.5,1595 L1761.5,1631 L1770,1637 L1778.5,1631 L1778.5,1595" fill="#fff" stroke="#000" stroke-width="6.25" stroke-linejoin="round"/>
<path d="M1760,1629 L1756,1643 L1755,1687 M1780,1629 L1784,1643 L1785,1687" fill="none" stroke="#000" stroke-width="6.25" stroke-linejoin="round"/>
<path d="M1755,1681 Q1747,1685 1748,1699 L1752,1714 Q1758,1722 1770,1722 Q1782,1722 1788,1714 L1792,1699 Q1793,1685 1785,1681" fill="#fff" stroke="#000" stroke-width="7.50" stroke-linejoin="round"/>
<path d="M1751,1695 Q1762,1707 1762,1719 M1789,1695 Q1778,1707 1778,1719" fill="none" stroke="#000" stroke-width="6.25"/>
<path d="M1752,1709 L1788,1709" stroke="#000" stroke-width="6.25"/>
<path d="M1751,1710 L1761,1710 L1762,1720 L1755,1717 Z M1789,1710 L1779,1710 L1778,1720 L1785,1717 Z" fill="#000"/>
</svg>
</body></html>
